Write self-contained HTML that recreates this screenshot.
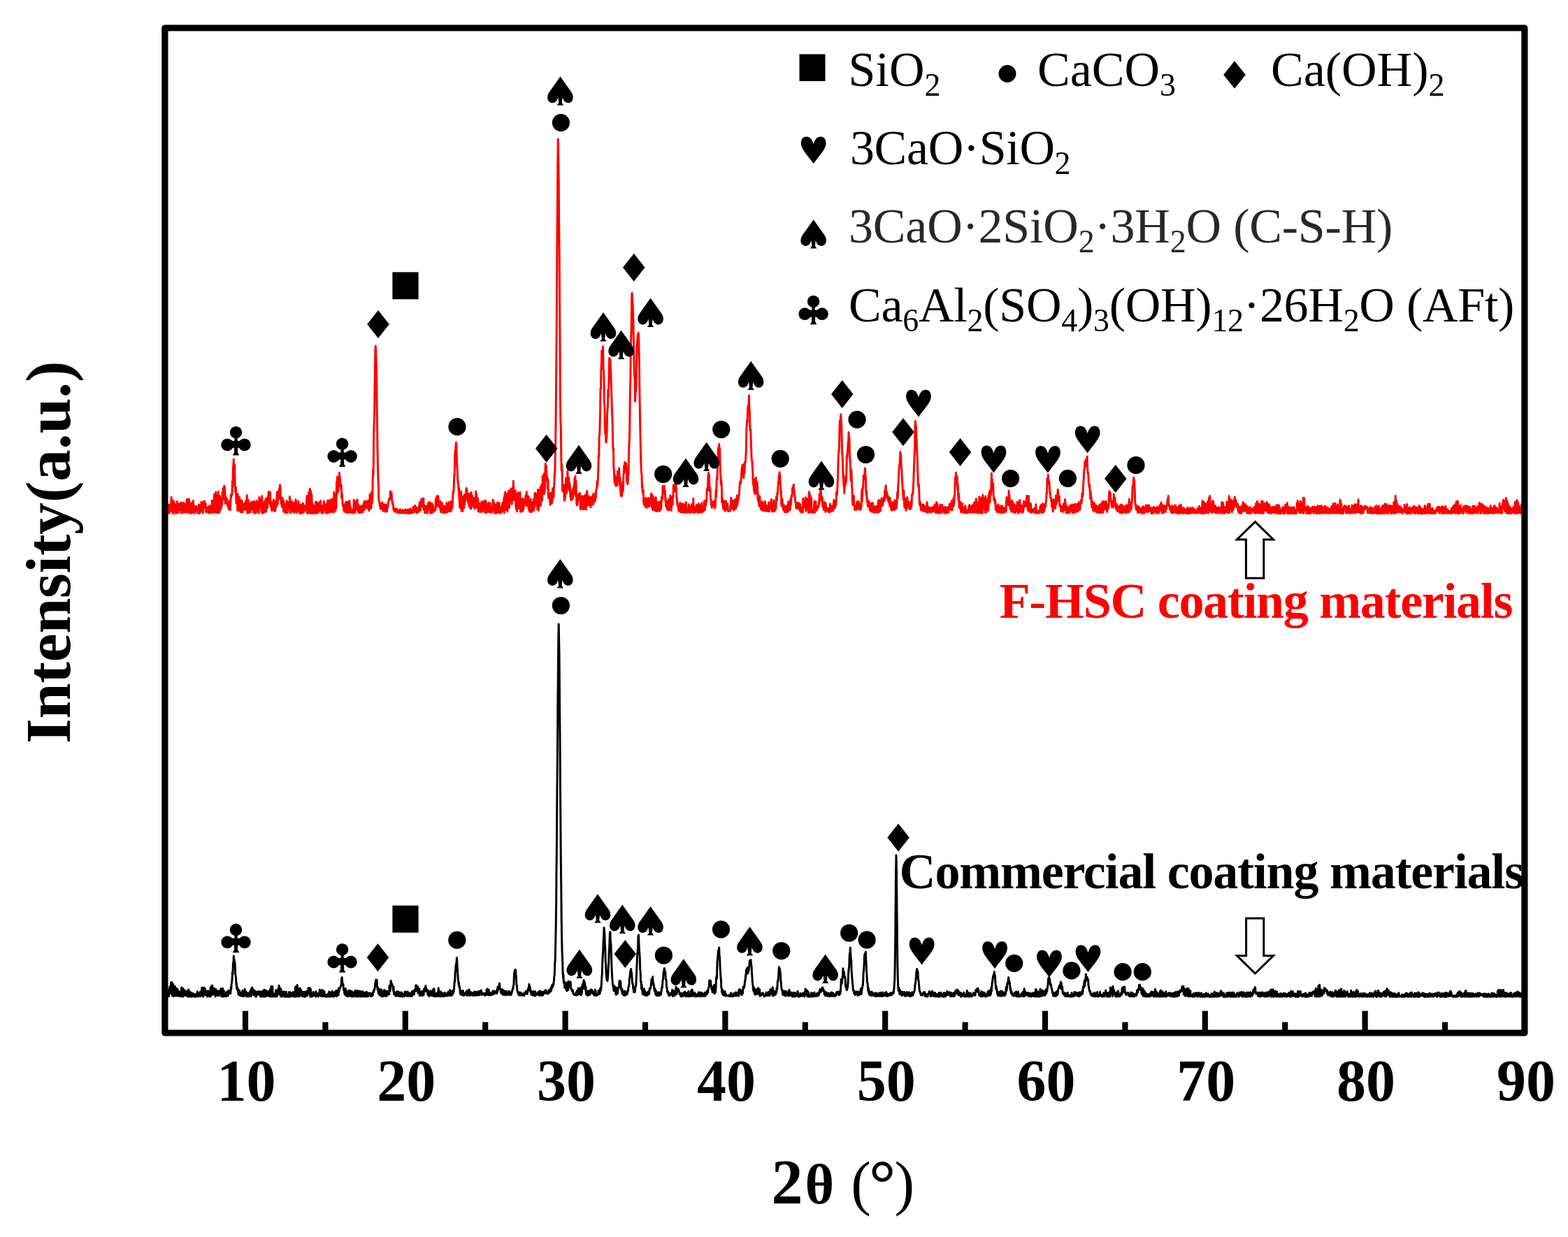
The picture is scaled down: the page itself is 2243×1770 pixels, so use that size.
<!DOCTYPE html><html><head><meta charset="utf-8"><title>XRD patterns</title><style>html,body{margin:0;padding:0;background:#fff;}svg{display:block;}.tn{font-family:"Liberation Serif","Times New Roman",serif;}</style></head><body>
<svg width="2243" height="1770" viewBox="0 0 2243 1770">
<rect width="2243" height="1770" fill="#fff"/>
<path d="M238.5 734.4 L238.9 732.8 L239.4 721.3 L239.8 726.7 L240.3 734.3 L240.7 729.7 L241.2 728.8 L241.6 733.7 L242.1 722.2 L242.5 734.1 L243.0 729.6 L243.4 726.4 L243.9 728.3 L244.3 724.0 L244.8 719.2 L245.2 711.3 L245.7 731.4 L246.1 722.7 L246.6 721.9 L247.0 731.7 L247.5 734.7 L247.9 716.3 L248.4 732.0 L248.8 731.7 L249.3 718.8 L249.7 726.6 L250.2 729.0 L250.6 722.0 L251.1 734.7 L251.5 723.7 L252.0 730.8 L252.4 734.3 L252.9 724.9 L253.3 717.6 L253.8 733.2 L254.2 725.6 L254.7 732.0 L255.1 722.8 L255.6 723.3 L256.0 733.1 L256.5 720.5 L256.9 724.9 L257.4 724.3 L257.8 720.8 L258.3 729.8 L258.7 722.4 L259.2 719.1 L259.6 734.2 L260.1 720.0 L260.5 730.4 L261.0 728.8 L261.4 733.9 L261.9 723.9 L262.3 732.1 L262.8 719.4 L263.2 732.3 L263.7 727.1 L264.1 730.3 L264.6 725.7 L265.0 733.2 L265.5 733.4 L265.9 720.9 L266.4 720.4 L266.8 725.5 L267.3 714.6 L267.7 732.9 L268.2 717.2 L268.6 733.4 L269.1 714.0 L269.5 724.5 L270.0 725.1 L270.4 714.4 L270.9 720.3 L271.3 720.3 L271.8 734.5 L272.2 730.6 L272.7 734.3 L273.1 733.3 L273.6 733.1 L274.0 719.7 L274.5 734.0 L274.9 732.0 L275.4 728.5 L275.8 720.0 L276.3 716.6 L276.7 723.7 L277.2 733.1 L277.6 727.5 L278.1 723.7 L278.5 734.5 L279.0 724.4 L279.4 730.8 L279.9 726.5 L280.3 724.6 L280.8 724.6 L281.2 727.9 L281.7 727.2 L282.1 733.3 L282.6 728.5 L283.0 734.0 L283.5 728.8 L283.9 727.6 L284.4 722.0 L284.8 730.4 L285.3 734.7 L285.7 727.8 L286.2 733.2 L286.6 722.8 L287.1 730.5 L287.5 730.6 L288.0 718.2 L288.4 730.4 L288.9 731.1 L289.3 731.1 L289.8 728.7 L290.2 734.2 L290.7 727.4 L291.1 717.8 L291.6 727.0 L292.0 722.7 L292.5 717.1 L292.9 720.1 L293.4 722.7 L293.8 720.9 L294.3 720.7 L294.7 732.5 L295.2 728.7 L295.6 731.2 L296.1 732.4 L296.5 726.8 L297.0 731.6 L297.4 725.7 L297.9 726.5 L298.3 734.1 L298.8 729.4 L299.2 730.3 L299.7 723.6 L300.1 734.2 L300.6 733.5 L301.0 728.0 L301.5 730.1 L301.9 724.5 L302.4 731.2 L302.8 733.1 L303.3 716.2 L303.7 732.1 L304.2 733.4 L304.6 731.0 L305.1 729.5 L305.5 731.8 L306.0 723.5 L306.4 707.4 L306.9 733.4 L307.3 727.0 L307.8 718.5 L308.2 709.5 L308.7 704.1 L309.1 733.0 L309.6 723.0 L310.0 708.8 L310.5 734.0 L310.9 720.3 L311.4 732.2 L311.8 712.0 L312.3 703.4 L312.7 721.4 L313.2 733.9 L313.6 733.4 L314.1 725.8 L314.5 709.4 L315.0 730.0 L315.4 716.9 L315.9 725.0 L316.3 727.5 L316.8 712.8 L317.2 723.6 L317.7 720.1 L318.1 704.0 L318.6 711.8 L319.0 698.7 L319.5 707.1 L319.9 714.5 L320.4 707.9 L320.8 695.0 L321.3 707.3 L321.7 697.0 L322.2 720.7 L322.6 719.0 L323.1 710.8 L323.5 715.3 L324.0 720.2 L324.4 719.1 L324.9 714.2 L325.3 720.4 L325.8 724.3 L326.2 724.2 L326.7 721.8 L327.1 729.0 L327.6 721.4 L328.0 722.2 L328.5 716.8 L328.9 723.9 L329.4 729.4 L329.8 719.6 L330.3 708.2 L330.7 711.5 L331.2 707.3 L331.6 708.7 L332.1 703.9 L332.5 687.9 L333.0 696.8 L333.4 669.7 L333.9 664.3 L334.3 657.0 L334.8 687.1 L335.2 690.4 L335.7 664.8 L336.1 692.7 L336.6 702.5 L337.0 704.3 L337.5 697.3 L337.9 719.7 L338.4 712.7 L338.8 707.9 L339.3 707.4 L339.7 730.7 L340.2 706.9 L340.6 723.5 L341.1 724.3 L341.5 721.0 L342.0 729.5 L342.4 711.2 L342.9 731.4 L343.3 724.5 L343.8 732.4 L344.2 723.5 L344.7 715.4 L345.1 716.5 L345.6 733.1 L346.0 724.3 L346.5 717.0 L346.9 732.6 L347.4 729.1 L347.8 722.1 L348.3 721.1 L348.7 728.0 L349.2 722.9 L349.6 721.3 L350.1 729.4 L350.5 720.3 L351.0 722.2 L351.4 717.3 L351.9 723.8 L352.3 729.0 L352.8 726.4 L353.2 708.8 L353.7 732.6 L354.1 733.3 L354.6 734.4 L355.0 719.5 L355.5 715.7 L355.9 732.6 L356.4 732.2 L356.8 733.0 L357.3 726.0 L357.7 728.5 L358.2 720.6 L358.6 732.9 L359.1 719.0 L359.5 728.9 L360.0 720.9 L360.4 721.1 L360.9 718.1 L361.3 728.2 L361.8 725.9 L362.2 727.0 L362.7 733.2 L363.1 728.2 L363.6 717.6 L364.0 718.2 L364.5 734.5 L364.9 724.6 L365.4 731.3 L365.8 733.7 L366.3 733.7 L366.7 721.3 L367.2 716.7 L367.6 727.8 L368.1 730.4 L368.5 728.0 L369.0 719.2 L369.4 720.1 L369.9 734.2 L370.3 732.2 L370.8 711.5 L371.2 724.8 L371.7 718.7 L372.1 713.7 L372.6 719.4 L373.0 715.9 L373.5 723.2 L373.9 731.7 L374.4 732.5 L374.8 709.7 L375.3 734.3 L375.7 722.7 L376.2 718.5 L376.6 732.3 L377.1 734.0 L377.5 729.6 L378.0 730.7 L378.4 728.2 L378.9 728.7 L379.3 715.7 L379.8 732.5 L380.2 714.5 L380.7 731.9 L381.1 712.7 L381.6 726.4 L382.0 715.9 L382.5 726.9 L382.9 719.1 L383.4 711.4 L383.8 710.7 L384.3 703.5 L384.7 718.1 L385.2 713.6 L385.6 708.7 L386.1 721.2 L386.5 704.6 L387.0 718.8 L387.4 724.0 L387.9 726.1 L388.3 718.4 L388.8 730.5 L389.2 729.4 L389.7 729.1 L390.1 730.3 L390.6 720.3 L391.0 723.9 L391.5 714.9 L391.9 720.7 L392.4 729.8 L392.8 729.0 L393.3 731.5 L393.7 729.4 L394.2 720.8 L394.6 716.4 L395.1 725.9 L395.5 723.7 L396.0 710.7 L396.4 703.9 L396.9 721.7 L397.3 719.6 L397.8 703.4 L398.2 708.6 L398.7 708.7 L399.1 702.5 L399.6 698.6 L400.0 713.6 L400.5 693.7 L400.9 695.7 L401.4 713.3 L401.8 714.4 L402.3 720.4 L402.7 715.9 L403.2 725.3 L403.6 720.8 L404.1 712.3 L404.5 724.0 L405.0 716.9 L405.4 731.1 L405.9 716.7 L406.3 732.5 L406.8 731.8 L407.2 722.2 L407.7 731.0 L408.1 733.3 L408.6 733.6 L409.0 720.8 L409.5 734.1 L409.9 734.0 L410.4 716.7 L410.8 721.4 L411.3 730.4 L411.7 732.9 L412.2 719.2 L412.6 721.4 L413.1 723.8 L413.5 726.5 L414.0 726.0 L414.4 710.4 L414.9 725.2 L415.3 733.9 L415.8 734.0 L416.2 722.1 L416.7 717.2 L417.1 721.2 L417.6 717.5 L418.0 730.8 L418.5 729.4 L418.9 731.7 L419.4 729.9 L419.8 732.0 L420.3 719.5 L420.7 733.6 L421.2 733.0 L421.6 723.6 L422.1 730.3 L422.5 731.1 L423.0 715.1 L423.4 716.7 L423.9 732.6 L424.3 733.4 L424.8 726.6 L425.2 724.1 L425.7 729.8 L426.1 723.4 L426.6 720.9 L427.0 716.9 L427.5 732.2 L427.9 723.8 L428.4 734.4 L428.8 734.4 L429.3 734.4 L429.7 734.0 L430.2 722.0 L430.6 730.8 L431.1 728.6 L431.5 729.4 L432.0 733.1 L432.4 734.5 L432.9 733.4 L433.3 720.0 L433.8 731.3 L434.2 729.9 L434.7 732.4 L435.1 723.0 L435.6 724.0 L436.0 730.6 L436.5 728.3 L436.9 730.4 L437.4 727.0 L437.8 725.9 L438.3 725.4 L438.7 713.7 L439.2 709.5 L439.6 734.4 L440.1 727.6 L440.5 734.4 L441.0 726.5 L441.4 705.1 L441.9 710.7 L442.3 715.8 L442.8 733.7 L443.2 699.5 L443.7 712.1 L444.1 727.4 L444.6 702.4 L445.0 734.4 L445.5 731.7 L445.9 707.5 L446.4 734.3 L446.8 733.4 L447.3 725.5 L447.7 721.2 L448.2 726.5 L448.6 734.5 L449.1 732.2 L449.5 723.9 L450.0 731.1 L450.4 733.2 L450.9 734.6 L451.3 732.4 L451.8 718.0 L452.2 734.4 L452.7 727.3 L453.1 718.5 L453.6 724.0 L454.0 732.1 L454.5 725.2 L454.9 733.9 L455.4 728.4 L455.8 732.4 L456.3 719.5 L456.7 719.7 L457.2 722.5 L457.6 730.7 L458.1 721.6 L458.5 716.5 L459.0 730.7 L459.4 727.9 L459.9 733.5 L460.3 734.0 L460.8 723.5 L461.2 734.3 L461.7 726.2 L462.1 733.9 L462.6 724.7 L463.0 722.6 L463.5 717.5 L463.9 730.3 L464.4 730.3 L464.8 730.1 L465.3 723.7 L465.7 721.6 L466.2 733.8 L466.6 731.3 L467.1 734.2 L467.5 732.5 L468.0 722.9 L468.4 717.4 L468.9 716.1 L469.3 734.1 L469.8 729.8 L470.2 717.9 L470.7 727.1 L471.1 730.1 L471.6 718.6 L472.0 715.3 L472.5 733.0 L472.9 725.3 L473.4 732.8 L473.8 732.3 L474.3 724.1 L474.7 730.8 L475.2 713.9 L475.6 728.0 L476.1 731.8 L476.5 719.8 L477.0 730.0 L477.4 732.9 L477.9 704.2 L478.3 730.8 L478.8 731.2 L479.2 722.5 L479.7 731.0 L480.1 708.0 L480.6 727.8 L481.0 726.1 L481.5 689.8 L481.9 707.9 L482.4 684.1 L482.8 682.0 L483.3 686.8 L483.7 704.1 L484.2 684.7 L484.6 696.8 L485.1 695.3 L485.5 676.4 L486.0 692.7 L486.4 684.0 L486.9 694.2 L487.3 691.3 L487.8 700.2 L488.2 694.2 L488.7 712.8 L489.1 706.1 L489.6 710.1 L490.0 718.8 L490.5 722.5 L490.9 725.4 L491.4 721.6 L491.8 730.7 L492.3 727.3 L492.7 723.2 L493.2 730.2 L493.6 731.6 L494.1 732.9 L494.5 720.0 L495.0 718.2 L495.4 719.4 L495.9 722.8 L496.3 725.3 L496.8 733.7 L497.2 718.4 L497.7 728.2 L498.1 723.6 L498.6 733.3 L499.0 722.2 L499.5 733.2 L499.9 716.4 L500.4 723.2 L500.8 727.3 L501.3 724.6 L501.7 732.3 L502.2 727.9 L502.6 733.8 L503.1 731.7 L503.5 731.6 L504.0 733.1 L504.4 729.5 L504.9 733.9 L505.3 734.1 L505.8 730.9 L506.2 715.6 L506.7 722.8 L507.1 729.2 L507.6 732.6 L508.0 733.4 L508.5 729.0 L508.9 723.2 L509.4 717.8 L509.8 727.4 L510.3 715.9 L510.7 716.8 L511.2 715.0 L511.6 729.7 L512.1 726.3 L512.5 732.6 L513.0 722.4 L513.4 733.8 L513.9 725.5 L514.3 732.3 L514.8 724.9 L515.2 731.9 L515.7 733.8 L516.1 726.6 L516.6 726.6 L517.0 723.8 L517.5 732.7 L517.9 726.2 L518.4 730.5 L518.8 732.9 L519.3 728.4 L519.7 722.5 L520.2 729.3 L520.6 720.2 L521.1 717.3 L521.5 729.6 L522.0 726.7 L522.4 724.6 L522.9 717.7 L523.3 719.4 L523.8 717.6 L524.2 725.7 L524.7 724.2 L525.1 726.8 L525.6 717.2 L526.0 719.7 L526.5 727.5 L526.9 716.3 L527.4 730.0 L527.8 730.6 L528.3 726.3 L528.7 718.4 L529.2 707.5 L529.6 720.7 L530.1 727.8 L530.5 715.8 L531.0 727.2 L531.4 704.6 L531.9 719.1 L532.3 720.2 L532.8 714.8 L533.2 686.8 L533.7 672.3 L534.1 679.9 L534.6 630.4 L535.0 609.3 L535.5 595.9 L535.9 566.5 L536.4 532.9 L536.8 501.5 L537.3 495.1 L537.7 500.3 L538.2 518.7 L538.6 531.8 L539.1 585.8 L539.5 600.3 L540.0 643.4 L540.4 661.7 L540.9 685.6 L541.3 690.1 L541.8 712.4 L542.2 717.6 L542.7 718.3 L543.1 720.9 L543.6 724.6 L544.0 725.9 L544.5 728.4 L544.9 725.0 L545.4 720.2 L545.8 720.1 L546.3 727.6 L546.7 719.1 L547.2 719.9 L547.6 729.6 L548.1 731.3 L548.5 723.4 L549.0 721.9 L549.4 726.6 L549.9 721.8 L550.3 728.9 L550.8 728.4 L551.2 732.2 L551.7 730.1 L552.1 722.6 L552.6 731.9 L553.0 731.5 L553.5 731.6 L553.9 727.7 L554.4 725.6 L554.8 725.3 L555.3 718.6 L555.7 719.5 L556.2 717.5 L556.6 715.0 L557.1 713.2 L557.5 714.7 L558.0 712.0 L558.4 703.1 L558.9 708.4 L559.3 706.5 L559.8 704.6 L560.2 708.0 L560.7 715.4 L561.1 718.3 L561.6 722.1 L562.0 720.3 L562.5 722.4 L562.9 728.8 L563.4 729.5 L563.8 731.1 L564.3 729.1 L564.7 731.7 L565.2 727.9 L565.6 732.5 L566.1 730.3 L566.5 730.5 L567.0 728.1 L567.4 730.1 L567.9 728.4 L568.3 731.3 L568.8 733.9 L569.2 732.9 L569.7 730.3 L570.1 732.9 L570.6 731.0 L571.0 733.9 L571.5 731.2 L571.9 732.8 L572.4 728.8 L572.8 734.1 L573.3 733.0 L573.7 730.4 L574.2 732.9 L574.6 732.5 L575.1 733.2 L575.5 734.1 L576.0 733.3 L576.4 729.6 L576.9 730.5 L577.3 733.4 L577.8 731.3 L578.2 730.4 L578.7 730.4 L579.1 734.3 L579.6 734.0 L580.0 729.0 L580.5 733.6 L580.9 730.5 L581.4 731.6 L581.8 729.8 L582.3 734.3 L582.7 729.3 L583.2 729.8 L583.6 733.8 L584.1 731.1 L584.5 734.4 L585.0 729.0 L585.4 732.6 L585.9 729.7 L586.3 729.1 L586.8 734.4 L587.2 728.1 L587.7 734.2 L588.1 734.0 L588.6 732.2 L589.0 733.5 L589.5 730.3 L589.9 733.8 L590.4 730.3 L590.8 728.4 L591.3 725.2 L591.7 732.0 L592.2 732.9 L592.6 729.6 L593.1 728.3 L593.5 723.2 L594.0 728.8 L594.4 730.7 L594.9 732.3 L595.3 725.7 L595.8 727.1 L596.2 734.0 L596.7 731.9 L597.1 733.2 L597.6 728.7 L598.0 730.2 L598.5 732.6 L598.9 726.9 L599.4 723.8 L599.8 729.2 L600.3 718.6 L600.7 730.8 L601.2 730.6 L601.6 720.2 L602.1 723.0 L602.5 718.7 L603.0 714.0 L603.4 724.3 L603.9 717.5 L604.3 722.0 L604.8 725.3 L605.2 725.9 L605.7 713.0 L606.1 729.6 L606.6 728.4 L607.0 727.6 L607.5 723.8 L607.9 733.9 L608.4 723.4 L608.8 734.1 L609.3 729.6 L609.7 728.2 L610.2 725.2 L610.6 724.9 L611.1 724.0 L611.5 734.2 L612.0 730.4 L612.4 720.5 L612.9 728.9 L613.3 718.9 L613.8 726.8 L614.2 726.7 L614.7 725.0 L615.1 718.8 L615.6 734.2 L616.0 733.8 L616.5 733.9 L616.9 733.1 L617.4 734.1 L617.8 720.5 L618.3 733.4 L618.7 729.8 L619.2 722.5 L619.6 729.6 L620.1 732.2 L620.5 731.5 L621.0 729.6 L621.4 730.5 L621.9 727.7 L622.3 727.7 L622.8 730.1 L623.2 716.8 L623.7 713.0 L624.1 720.2 L624.6 724.9 L625.0 710.1 L625.5 720.2 L625.9 719.7 L626.4 721.7 L626.8 709.8 L627.3 716.5 L627.7 724.4 L628.2 724.8 L628.6 725.2 L629.1 726.9 L629.5 722.6 L630.0 717.3 L630.4 732.6 L630.9 721.9 L631.3 722.2 L631.8 732.3 L632.2 719.8 L632.7 722.2 L633.1 725.3 L633.6 733.4 L634.0 729.9 L634.5 724.7 L634.9 728.3 L635.4 733.6 L635.8 724.5 L636.3 730.3 L636.7 732.5 L637.2 731.1 L637.6 733.3 L638.1 730.8 L638.5 733.6 L639.0 719.2 L639.4 732.9 L639.9 730.9 L640.3 731.3 L640.8 729.1 L641.2 730.6 L641.7 721.0 L642.1 732.0 L642.6 718.2 L643.0 729.4 L643.5 718.1 L643.9 729.8 L644.4 731.8 L644.8 720.5 L645.3 730.6 L645.7 721.2 L646.2 717.2 L646.6 727.4 L647.1 724.4 L647.5 717.8 L648.0 707.3 L648.4 702.4 L648.9 704.1 L649.3 694.5 L649.8 679.0 L650.2 681.8 L650.7 653.0 L651.1 644.5 L651.6 651.6 L652.0 637.4 L652.5 633.0 L652.9 638.7 L653.4 656.9 L653.8 666.2 L654.3 674.9 L654.7 686.8 L655.2 690.0 L655.6 691.5 L656.1 703.1 L656.5 698.0 L657.0 714.7 L657.4 718.5 L657.9 726.7 L658.3 704.3 L658.8 715.4 L659.2 702.9 L659.7 704.4 L660.1 730.9 L660.6 717.5 L661.0 721.5 L661.5 710.6 L661.9 731.4 L662.4 713.9 L662.8 715.3 L663.3 722.7 L663.7 726.9 L664.2 707.9 L664.6 723.2 L665.1 714.8 L665.5 717.4 L666.0 710.1 L666.4 709.9 L666.9 699.0 L667.3 698.5 L667.8 700.7 L668.2 713.7 L668.7 706.4 L669.1 712.8 L669.6 719.1 L670.0 713.1 L670.5 706.7 L670.9 724.0 L671.4 706.8 L671.8 719.5 L672.3 726.6 L672.7 723.8 L673.2 717.0 L673.6 728.3 L674.1 704.4 L674.5 726.4 L675.0 718.3 L675.4 709.0 L675.9 711.3 L676.3 718.4 L676.8 717.8 L677.2 717.3 L677.7 722.8 L678.1 726.0 L678.6 712.6 L679.0 728.0 L679.5 726.9 L679.9 722.8 L680.4 722.9 L680.8 703.2 L681.3 716.6 L681.7 707.3 L682.2 718.3 L682.6 726.4 L683.1 712.5 L683.5 713.8 L684.0 731.2 L684.4 719.3 L684.9 725.0 L685.3 732.2 L685.8 730.2 L686.2 720.4 L686.7 732.3 L687.1 722.9 L687.6 724.9 L688.0 725.2 L688.5 732.6 L688.9 717.8 L689.4 726.5 L689.8 723.3 L690.3 724.8 L690.7 731.0 L691.2 722.1 L691.6 729.7 L692.1 716.9 L692.5 728.6 L693.0 732.8 L693.4 728.5 L693.9 729.8 L694.3 716.0 L694.8 731.3 L695.2 717.9 L695.7 734.2 L696.1 733.5 L696.6 731.5 L697.0 722.1 L697.5 725.5 L697.9 729.4 L698.4 729.5 L698.8 719.3 L699.3 732.6 L699.7 720.8 L700.2 730.2 L700.6 723.3 L701.1 720.0 L701.5 729.2 L702.0 732.9 L702.4 732.3 L702.9 732.2 L703.3 733.8 L703.8 729.3 L704.2 724.5 L704.7 730.0 L705.1 715.5 L705.6 715.4 L706.0 720.2 L706.5 719.8 L706.9 731.1 L707.4 721.6 L707.8 734.1 L708.3 734.3 L708.7 734.0 L709.2 731.1 L709.6 722.4 L710.1 734.2 L710.5 730.0 L711.0 725.6 L711.4 719.1 L711.9 726.4 L712.3 732.2 L712.8 733.9 L713.2 727.6 L713.7 720.2 L714.1 719.5 L714.6 725.0 L715.0 733.0 L715.5 733.9 L715.9 734.1 L716.4 731.8 L716.8 726.9 L717.3 733.2 L717.7 724.9 L718.2 731.1 L718.6 720.1 L719.1 726.2 L719.5 719.0 L720.0 731.4 L720.4 723.8 L720.9 712.4 L721.3 734.0 L721.8 708.8 L722.2 721.4 L722.7 704.0 L723.1 729.8 L723.6 723.8 L724.0 716.1 L724.5 719.3 L724.9 717.9 L725.4 706.4 L725.8 731.9 L726.3 713.2 L726.7 724.1 L727.2 703.9 L727.6 702.4 L728.1 724.0 L728.5 726.5 L729.0 705.2 L729.4 702.9 L729.9 710.0 L730.3 703.0 L730.8 699.5 L731.2 716.3 L731.7 717.8 L732.1 721.2 L732.6 711.0 L733.0 714.7 L733.5 697.4 L733.9 701.3 L734.4 688.2 L734.8 700.3 L735.3 715.6 L735.7 715.0 L736.2 713.8 L736.6 715.0 L737.1 702.1 L737.5 715.6 L738.0 725.6 L738.4 727.6 L738.9 719.9 L739.3 731.9 L739.8 724.0 L740.2 706.4 L740.7 704.9 L741.1 720.2 L741.6 720.7 L742.0 727.7 L742.5 719.1 L742.9 724.1 L743.4 717.4 L743.8 704.6 L744.3 714.5 L744.7 732.4 L745.2 732.0 L745.6 720.5 L746.1 713.5 L746.5 724.6 L747.0 718.3 L747.4 730.8 L747.9 731.3 L748.3 713.7 L748.8 716.8 L749.2 727.4 L749.7 718.0 L750.1 722.2 L750.6 717.8 L751.0 721.9 L751.5 718.2 L751.9 708.9 L752.4 721.4 L752.8 712.2 L753.3 703.8 L753.7 724.0 L754.2 722.0 L754.6 721.1 L755.1 717.6 L755.5 721.9 L756.0 709.9 L756.4 729.0 L756.9 728.2 L757.3 731.6 L757.8 731.1 L758.2 723.7 L758.7 732.6 L759.1 714.3 L759.6 719.7 L760.0 732.5 L760.5 718.8 L760.9 732.0 L761.4 725.5 L761.8 730.7 L762.3 731.0 L762.7 724.3 L763.2 714.1 L763.6 730.1 L764.1 727.7 L764.5 721.5 L765.0 706.6 L765.4 721.3 L765.9 705.5 L766.3 714.7 L766.8 717.0 L767.2 707.4 L767.7 724.2 L768.1 717.2 L768.6 728.4 L769.0 719.0 L769.5 700.4 L769.9 730.2 L770.4 730.1 L770.8 718.4 L771.3 703.5 L771.7 718.4 L772.2 701.1 L772.6 724.0 L773.1 697.1 L773.5 723.3 L774.0 702.4 L774.4 715.7 L774.9 693.2 L775.3 716.6 L775.8 709.4 L776.2 681.5 L776.7 689.0 L777.1 701.8 L777.6 705.2 L778.0 677.9 L778.5 706.8 L778.9 703.6 L779.4 701.4 L779.8 678.9 L780.3 663.5 L780.7 687.1 L781.2 666.2 L781.6 666.8 L782.1 685.1 L782.5 682.2 L783.0 685.9 L783.4 700.2 L783.9 685.7 L784.3 709.4 L784.8 713.2 L785.2 705.9 L785.7 713.2 L786.1 708.3 L786.6 713.0 L787.0 722.4 L787.5 717.8 L787.9 704.9 L788.4 719.6 L788.8 720.5 L789.3 705.7 L789.7 719.5 L790.2 714.3 L790.6 698.9 L791.1 700.8 L791.5 712.3 L792.0 709.7 L792.4 700.1 L792.9 689.7 L793.3 677.8 L793.8 678.3 L794.2 656.7 L794.7 630.8 L795.1 599.4 L795.6 544.5 L796.0 493.3 L796.5 432.9 L796.9 351.1 L797.4 301.5 L797.8 237.3 L798.3 199.0 L798.7 218.5 L799.2 257.6 L799.6 313.1 L800.1 354.0 L800.5 420.6 L801.0 488.7 L801.4 563.7 L801.9 603.1 L802.3 609.5 L802.8 651.6 L803.2 673.1 L803.7 665.0 L804.1 674.1 L804.6 702.8 L805.0 694.2 L805.5 693.9 L805.9 694.7 L806.4 693.8 L806.8 700.3 L807.3 716.4 L807.7 712.7 L808.2 714.1 L808.6 701.7 L809.1 702.9 L809.5 684.0 L810.0 706.3 L810.4 705.5 L810.9 703.5 L811.3 698.6 L811.8 674.0 L812.2 683.3 L812.7 692.4 L813.1 684.3 L813.6 683.5 L814.0 694.3 L814.5 701.4 L814.9 691.1 L815.4 698.1 L815.8 710.8 L816.3 706.3 L816.7 715.4 L817.2 712.3 L817.6 704.0 L818.1 708.1 L818.5 714.8 L819.0 700.0 L819.4 713.4 L819.9 699.6 L820.3 707.9 L820.8 695.2 L821.2 695.3 L821.7 693.3 L822.1 683.7 L822.6 686.5 L823.0 681.5 L823.5 709.8 L823.9 687.7 L824.4 703.6 L824.8 719.5 L825.3 723.1 L825.7 722.3 L826.2 719.2 L826.6 715.1 L827.1 707.5 L827.5 710.1 L828.0 707.5 L828.4 709.6 L828.9 709.8 L829.3 705.5 L829.8 714.1 L830.2 728.8 L830.7 719.8 L831.1 723.2 L831.6 716.9 L832.0 726.9 L832.5 709.8 L832.9 727.1 L833.4 723.9 L833.8 728.8 L834.3 711.9 L834.7 712.5 L835.2 710.4 L835.6 727.9 L836.1 725.8 L836.5 708.7 L837.0 708.7 L837.4 728.6 L837.9 721.1 L838.3 728.9 L838.8 707.3 L839.2 706.6 L839.7 702.5 L840.1 708.4 L840.6 721.7 L841.0 723.0 L841.5 716.2 L841.9 722.6 L842.4 710.3 L842.8 722.7 L843.3 722.8 L843.7 711.9 L844.2 724.8 L844.6 723.7 L845.1 725.8 L845.5 711.6 L846.0 719.6 L846.4 720.4 L846.9 711.0 L847.3 709.9 L847.8 722.0 L848.2 722.1 L848.7 708.6 L849.1 705.9 L849.6 714.2 L850.0 709.4 L850.5 718.5 L850.9 711.0 L851.4 715.7 L851.8 713.7 L852.3 712.6 L852.7 702.4 L853.2 698.9 L853.6 699.3 L854.1 688.6 L854.5 696.2 L855.0 689.0 L855.4 682.9 L855.9 669.0 L856.3 651.7 L856.8 653.6 L857.2 622.5 L857.7 622.6 L858.1 608.9 L858.6 590.2 L859.0 556.2 L859.5 556.4 L859.9 531.2 L860.4 520.1 L860.8 501.9 L861.3 501.2 L861.7 509.0 L862.2 514.7 L862.6 495.8 L863.1 528.7 L863.5 529.7 L864.0 545.2 L864.4 576.1 L864.9 578.4 L865.3 608.0 L865.8 620.4 L866.2 612.5 L866.7 630.6 L867.1 633.0 L867.6 626.2 L868.0 623.2 L868.5 595.3 L868.9 586.7 L869.4 581.3 L869.8 558.0 L870.3 568.1 L870.7 552.3 L871.2 535.0 L871.6 512.2 L872.1 520.5 L872.5 515.7 L873.0 514.2 L873.4 524.9 L873.9 533.7 L874.3 552.0 L874.8 565.2 L875.2 579.2 L875.7 593.5 L876.1 601.1 L876.6 632.3 L877.0 643.8 L877.5 641.7 L877.9 670.8 L878.4 671.8 L878.8 685.3 L879.3 691.4 L879.7 679.9 L880.2 688.8 L880.6 694.9 L881.1 687.9 L881.5 683.6 L882.0 691.9 L882.4 692.4 L882.9 695.1 L883.3 674.4 L883.8 676.3 L884.2 686.5 L884.7 680.4 L885.1 684.0 L885.6 669.9 L886.0 688.1 L886.5 693.9 L886.9 683.0 L887.4 700.1 L887.8 705.6 L888.3 708.9 L888.7 710.0 L889.2 707.3 L889.6 709.6 L890.1 699.6 L890.5 690.4 L891.0 703.4 L891.4 699.6 L891.9 680.6 L892.3 677.7 L892.8 666.4 L893.2 676.4 L893.7 661.5 L894.1 668.5 L894.6 670.3 L895.0 669.9 L895.5 662.7 L895.9 668.5 L896.4 672.6 L896.8 689.1 L897.3 688.1 L897.7 692.7 L898.2 690.3 L898.6 672.6 L899.1 679.4 L899.5 650.9 L900.0 634.0 L900.4 630.0 L900.9 603.5 L901.3 565.0 L901.8 544.9 L902.2 512.2 L902.7 483.8 L903.1 473.8 L903.6 431.6 L904.0 419.5 L904.5 424.9 L904.9 433.7 L905.4 440.8 L905.8 454.1 L906.3 482.8 L906.7 500.5 L907.2 528.3 L907.6 538.5 L908.1 543.6 L908.5 574.4 L909.0 563.9 L909.4 552.4 L909.9 560.3 L910.3 537.6 L910.8 507.1 L911.2 494.2 L911.7 489.5 L912.1 480.2 L912.6 481.9 L913.0 476.3 L913.5 476.9 L913.9 494.9 L914.4 521.6 L914.8 553.1 L915.3 583.6 L915.7 607.0 L916.2 630.7 L916.6 647.7 L917.1 667.9 L917.5 675.8 L918.0 679.2 L918.4 697.6 L918.9 693.1 L919.3 705.1 L919.8 703.9 L920.2 701.4 L920.7 719.7 L921.1 717.8 L921.6 721.9 L922.0 723.1 L922.5 715.2 L922.9 725.2 L923.4 718.8 L923.8 712.5 L924.3 722.6 L924.7 718.3 L925.2 726.4 L925.6 717.2 L926.1 716.7 L926.5 720.3 L927.0 713.0 L927.4 720.1 L927.9 718.7 L928.3 725.0 L928.8 712.7 L929.2 720.9 L929.7 714.3 L930.1 717.7 L930.6 722.8 L931.0 718.1 L931.5 706.2 L931.9 714.9 L932.4 726.3 L932.8 719.1 L933.3 708.0 L933.7 729.3 L934.2 729.9 L934.6 711.2 L935.1 719.0 L935.5 713.6 L936.0 726.6 L936.4 720.2 L936.9 730.1 L937.3 730.7 L937.8 721.3 L938.2 711.8 L938.7 722.5 L939.1 731.7 L939.6 731.8 L940.0 719.1 L940.5 728.2 L940.9 730.6 L941.4 730.0 L941.8 718.8 L942.3 727.3 L942.7 731.1 L943.2 730.7 L943.6 731.2 L944.1 717.7 L944.5 726.4 L945.0 725.8 L945.4 728.7 L945.9 725.3 L946.3 713.9 L946.8 710.1 L947.2 714.7 L947.7 713.5 L948.1 695.8 L948.6 706.0 L949.0 704.4 L949.5 705.1 L949.9 700.9 L950.4 695.5 L950.8 706.1 L951.3 702.8 L951.7 716.4 L952.2 712.3 L952.6 724.2 L953.1 721.8 L953.5 726.0 L954.0 727.1 L954.4 717.4 L954.9 729.6 L955.3 724.6 L955.8 727.7 L956.2 714.4 L956.7 730.0 L957.1 728.1 L957.6 719.4 L958.0 728.8 L958.5 718.0 L958.9 708.9 L959.4 726.8 L959.8 721.9 L960.3 730.5 L960.7 711.8 L961.2 723.2 L961.6 715.5 L962.1 722.6 L962.5 709.7 L963.0 711.3 L963.4 694.8 L963.9 693.7 L964.3 700.0 L964.8 703.3 L965.2 700.0 L965.7 695.1 L966.1 690.3 L966.6 690.6 L967.0 694.5 L967.5 701.1 L967.9 711.8 L968.4 713.4 L968.8 721.5 L969.3 719.7 L969.7 724.7 L970.2 723.6 L970.6 730.5 L971.1 731.0 L971.5 724.5 L972.0 728.6 L972.4 731.2 L972.9 719.2 L973.3 732.8 L973.8 720.2 L974.2 722.3 L974.7 733.1 L975.1 721.9 L975.6 725.0 L976.0 732.0 L976.5 725.7 L976.9 720.8 L977.4 733.2 L977.8 731.4 L978.3 732.9 L978.7 722.4 L979.2 733.0 L979.6 733.1 L980.1 733.2 L980.5 721.7 L981.0 732.4 L981.4 718.4 L981.9 733.5 L982.3 729.1 L982.8 733.0 L983.2 732.7 L983.7 732.7 L984.1 727.9 L984.6 732.4 L985.0 731.1 L985.5 721.8 L985.9 726.7 L986.4 733.7 L986.8 731.5 L987.3 724.8 L987.7 730.4 L988.2 733.2 L988.6 733.1 L989.1 729.0 L989.5 721.8 L990.0 725.9 L990.4 731.1 L990.9 732.4 L991.3 729.9 L991.8 713.3 L992.2 733.3 L992.7 733.3 L993.1 733.2 L993.6 725.4 L994.0 733.6 L994.5 730.8 L994.9 731.0 L995.4 729.4 L995.8 729.5 L996.3 722.4 L996.7 731.5 L997.2 732.8 L997.6 724.1 L998.1 732.3 L998.5 732.9 L999.0 733.5 L999.4 720.5 L999.9 726.2 L1000.3 726.8 L1000.8 733.1 L1001.2 722.9 L1001.7 733.1 L1002.1 725.5 L1002.6 722.8 L1003.0 729.1 L1003.5 732.1 L1003.9 719.5 L1004.4 732.8 L1004.8 731.1 L1005.3 726.2 L1005.7 725.8 L1006.2 731.4 L1006.6 730.5 L1007.1 728.5 L1007.5 717.5 L1008.0 716.3 L1008.4 729.6 L1008.9 716.9 L1009.3 723.4 L1009.8 722.9 L1010.2 717.2 L1010.7 717.8 L1011.1 703.3 L1011.6 699.0 L1012.0 702.4 L1012.5 700.0 L1012.9 684.9 L1013.4 676.5 L1013.8 694.2 L1014.3 678.5 L1014.7 693.0 L1015.2 702.7 L1015.6 697.5 L1016.1 702.3 L1016.5 714.5 L1017.0 714.4 L1017.4 722.6 L1017.9 719.4 L1018.3 726.5 L1018.8 725.7 L1019.2 719.0 L1019.7 719.4 L1020.1 722.2 L1020.6 717.2 L1021.0 719.8 L1021.5 722.8 L1021.9 720.9 L1022.4 727.3 L1022.8 726.5 L1023.3 722.9 L1023.7 711.1 L1024.2 701.2 L1024.6 710.7 L1025.1 687.8 L1025.5 683.2 L1026.0 686.2 L1026.4 669.2 L1026.9 663.6 L1027.3 641.6 L1027.8 644.6 L1028.2 639.9 L1028.7 635.5 L1029.1 647.7 L1029.6 640.7 L1030.0 657.4 L1030.5 680.1 L1030.9 680.5 L1031.4 693.5 L1031.8 687.6 L1032.3 694.6 L1032.7 719.0 L1033.2 711.2 L1033.6 718.0 L1034.1 722.2 L1034.5 728.1 L1035.0 716.8 L1035.4 722.6 L1035.9 723.3 L1036.3 716.9 L1036.8 730.4 L1037.2 727.9 L1037.7 731.2 L1038.1 729.4 L1038.6 717.0 L1039.0 728.4 L1039.5 720.9 L1039.9 720.2 L1040.4 726.3 L1040.8 720.9 L1041.3 730.5 L1041.7 731.5 L1042.2 730.6 L1042.6 731.4 L1043.1 731.3 L1043.5 731.5 L1044.0 731.3 L1044.4 731.0 L1044.9 724.0 L1045.3 728.6 L1045.8 712.2 L1046.2 722.4 L1046.7 715.2 L1047.1 721.1 L1047.6 718.4 L1048.0 717.5 L1048.5 727.5 L1048.9 729.2 L1049.4 730.2 L1049.8 716.2 L1050.3 728.5 L1050.7 715.2 L1051.2 720.3 L1051.6 718.1 L1052.1 728.3 L1052.5 714.6 L1053.0 726.8 L1053.4 715.0 L1053.9 725.0 L1054.3 709.0 L1054.8 722.1 L1055.2 719.6 L1055.7 713.7 L1056.1 715.1 L1056.6 713.0 L1057.0 707.3 L1057.5 707.7 L1057.9 697.2 L1058.4 690.4 L1058.8 692.5 L1059.3 688.1 L1059.7 691.1 L1060.2 685.1 L1060.6 679.9 L1061.1 669.7 L1061.5 679.5 L1062.0 665.5 L1062.4 681.1 L1062.9 675.9 L1063.3 671.7 L1063.8 684.0 L1064.2 665.7 L1064.7 663.4 L1065.1 676.7 L1065.6 661.2 L1066.0 662.0 L1066.5 659.6 L1066.9 651.4 L1067.4 643.8 L1067.8 615.2 L1068.3 608.5 L1068.7 601.0 L1069.2 604.5 L1069.6 582.9 L1070.1 588.2 L1070.5 578.5 L1071.0 585.6 L1071.4 565.9 L1071.9 587.5 L1072.3 585.5 L1072.8 607.2 L1073.2 616.4 L1073.7 614.1 L1074.1 626.9 L1074.6 640.3 L1075.0 655.2 L1075.5 659.0 L1075.9 659.9 L1076.4 669.8 L1076.8 677.2 L1077.3 690.3 L1077.7 694.4 L1078.2 686.0 L1078.6 702.5 L1079.1 698.2 L1079.5 706.1 L1080.0 701.4 L1080.4 706.8 L1080.9 684.8 L1081.3 683.5 L1081.8 705.0 L1082.2 690.2 L1082.7 691.3 L1083.1 689.9 L1083.6 698.1 L1084.0 714.9 L1084.5 706.5 L1084.9 717.6 L1085.4 715.2 L1085.8 723.1 L1086.3 724.5 L1086.7 709.9 L1087.2 721.6 L1087.6 722.1 L1088.1 720.2 L1088.5 728.8 L1089.0 720.9 L1089.4 719.6 L1089.9 729.9 L1090.3 717.6 L1090.8 724.5 L1091.2 724.6 L1091.7 728.2 L1092.1 731.0 L1092.6 729.9 L1093.0 730.2 L1093.5 719.8 L1093.9 723.9 L1094.4 717.4 L1094.8 730.9 L1095.3 722.2 L1095.7 724.4 L1096.2 728.0 L1096.6 723.8 L1097.1 731.4 L1097.5 723.5 L1098.0 730.6 L1098.4 727.2 L1098.9 725.0 L1099.3 731.2 L1099.8 719.1 L1100.2 732.0 L1100.7 720.6 L1101.1 719.1 L1101.6 722.1 L1102.0 728.2 L1102.5 721.3 L1102.9 724.2 L1103.4 714.5 L1103.8 721.6 L1104.3 731.8 L1104.7 724.4 L1105.2 732.1 L1105.6 724.3 L1106.1 731.6 L1106.5 724.8 L1107.0 715.8 L1107.4 731.8 L1107.9 727.2 L1108.3 730.8 L1108.8 726.7 L1109.2 724.6 L1109.7 728.2 L1110.1 722.4 L1110.6 710.3 L1111.0 712.8 L1111.5 715.6 L1111.9 705.2 L1112.4 706.8 L1112.8 700.4 L1113.3 689.3 L1113.7 691.9 L1114.2 680.2 L1114.6 690.6 L1115.1 675.7 L1115.5 678.2 L1116.0 684.5 L1116.4 693.2 L1116.9 703.5 L1117.3 702.6 L1117.8 720.5 L1118.2 724.1 L1118.7 724.0 L1119.1 714.0 L1119.6 725.5 L1120.0 725.0 L1120.5 729.7 L1120.9 726.2 L1121.4 722.8 L1121.8 726.6 L1122.3 732.4 L1122.7 729.8 L1123.2 729.4 L1123.6 732.2 L1124.1 732.7 L1124.5 724.8 L1125.0 732.8 L1125.4 730.9 L1125.9 726.4 L1126.3 723.1 L1126.8 730.9 L1127.2 732.4 L1127.7 717.8 L1128.1 723.1 L1128.6 720.6 L1129.0 722.2 L1129.5 721.1 L1129.9 729.9 L1130.4 728.3 L1130.8 714.3 L1131.3 722.6 L1131.7 714.6 L1132.2 709.0 L1132.6 708.7 L1133.1 710.4 L1133.5 699.2 L1134.0 697.7 L1134.4 698.2 L1134.9 694.9 L1135.3 693.3 L1135.8 703.1 L1136.2 702.8 L1136.7 709.3 L1137.1 709.2 L1137.6 717.7 L1138.0 718.0 L1138.5 720.5 L1138.9 726.6 L1139.4 727.6 L1139.8 724.4 L1140.3 724.6 L1140.7 719.4 L1141.2 725.7 L1141.6 727.1 L1142.1 719.4 L1142.5 719.7 L1143.0 728.3 L1143.4 729.0 L1143.9 720.8 L1144.3 730.6 L1144.8 721.7 L1145.2 732.4 L1145.7 732.4 L1146.1 730.9 L1146.6 726.6 L1147.0 729.2 L1147.5 731.8 L1147.9 733.2 L1148.4 733.4 L1148.8 713.2 L1149.3 716.9 L1149.7 716.9 L1150.2 721.8 L1150.6 723.7 L1151.1 726.5 L1151.5 719.6 L1152.0 727.0 L1152.4 712.1 L1152.9 731.1 L1153.3 725.6 L1153.8 714.1 L1154.2 721.2 L1154.7 713.7 L1155.1 713.8 L1155.6 726.9 L1156.0 725.3 L1156.5 733.5 L1156.9 726.6 L1157.4 703.7 L1157.8 733.4 L1158.3 706.9 L1158.7 710.7 L1159.2 715.3 L1159.6 732.4 L1160.1 715.2 L1160.5 711.7 L1161.0 730.2 L1161.4 732.9 L1161.9 732.7 L1162.3 731.5 L1162.8 731.7 L1163.2 733.4 L1163.7 732.2 L1164.1 730.3 L1164.6 723.2 L1165.0 717.4 L1165.5 733.4 L1165.9 719.2 L1166.4 719.6 L1166.8 717.5 L1167.3 727.4 L1167.7 728.9 L1168.2 730.3 L1168.6 728.9 L1169.1 728.4 L1169.5 727.2 L1170.0 723.9 L1170.4 726.0 L1170.9 723.9 L1171.3 718.6 L1171.8 721.0 L1172.2 706.9 L1172.7 708.3 L1173.1 715.2 L1173.6 705.5 L1174.0 700.6 L1174.5 706.0 L1174.9 716.4 L1175.4 712.8 L1175.8 712.4 L1176.3 711.5 L1176.7 721.7 L1177.2 725.1 L1177.6 724.7 L1178.1 729.2 L1178.5 718.6 L1179.0 723.3 L1179.4 726.3 L1179.9 726.4 L1180.3 719.0 L1180.8 732.4 L1181.2 720.6 L1181.7 730.7 L1182.1 728.1 L1182.6 729.0 L1183.0 730.5 L1183.5 729.9 L1183.9 727.1 L1184.4 730.6 L1184.8 731.5 L1185.3 732.7 L1185.7 730.3 L1186.2 727.6 L1186.6 732.4 L1187.1 732.4 L1187.5 720.9 L1188.0 732.3 L1188.4 731.9 L1188.9 729.4 L1189.3 724.3 L1189.8 724.4 L1190.2 726.1 L1190.7 727.9 L1191.1 728.0 L1191.6 731.0 L1192.0 722.1 L1192.5 719.0 L1192.9 715.6 L1193.4 727.8 L1193.8 725.0 L1194.3 726.7 L1194.7 718.5 L1195.2 716.9 L1195.6 723.4 L1196.1 720.6 L1196.5 704.2 L1197.0 706.9 L1197.4 707.8 L1197.9 698.3 L1198.3 688.5 L1198.8 672.1 L1199.2 657.1 L1199.7 644.8 L1200.1 646.4 L1200.6 634.3 L1201.0 611.9 L1201.5 601.4 L1201.9 608.7 L1202.4 599.4 L1202.8 593.0 L1203.3 601.7 L1203.7 607.6 L1204.2 629.5 L1204.6 644.3 L1205.1 651.9 L1205.5 660.9 L1206.0 682.4 L1206.4 679.3 L1206.9 695.7 L1207.3 683.8 L1207.8 705.7 L1208.2 696.0 L1208.7 693.6 L1209.1 694.1 L1209.6 693.0 L1210.0 681.2 L1210.5 689.1 L1210.9 677.0 L1211.4 651.9 L1211.8 654.3 L1212.3 648.0 L1212.7 641.0 L1213.2 633.4 L1213.6 632.4 L1214.1 618.6 L1214.5 634.2 L1215.0 626.1 L1215.4 648.0 L1215.9 656.7 L1216.3 661.8 L1216.8 677.7 L1217.2 687.6 L1217.7 671.8 L1218.1 679.7 L1218.6 696.1 L1219.0 698.8 L1219.5 718.0 L1219.9 722.3 L1220.4 721.5 L1220.8 717.0 L1221.3 709.3 L1221.7 720.9 L1222.2 724.1 L1222.6 729.4 L1223.1 728.9 L1223.5 725.2 L1224.0 728.4 L1224.4 726.4 L1224.9 723.5 L1225.3 729.4 L1225.8 717.9 L1226.2 726.0 L1226.7 717.8 L1227.1 727.2 L1227.6 725.5 L1228.0 717.5 L1228.5 728.5 L1228.9 722.9 L1229.4 721.0 L1229.8 729.5 L1230.3 727.1 L1230.7 726.5 L1231.2 728.8 L1231.6 725.3 L1232.1 723.7 L1232.5 709.2 L1233.0 700.2 L1233.4 717.3 L1233.9 701.9 L1234.3 696.2 L1234.8 698.5 L1235.2 680.6 L1235.7 685.6 L1236.1 686.0 L1236.6 684.4 L1237.0 674.7 L1237.5 669.9 L1237.9 685.5 L1238.4 681.3 L1238.8 703.1 L1239.3 709.0 L1239.7 702.4 L1240.2 717.1 L1240.6 714.9 L1241.1 719.5 L1241.5 724.6 L1242.0 721.0 L1242.4 722.8 L1242.9 717.2 L1243.3 719.9 L1243.8 723.9 L1244.2 729.7 L1244.7 725.9 L1245.1 731.0 L1245.6 720.2 L1246.0 725.7 L1246.5 732.1 L1246.9 723.2 L1247.4 724.1 L1247.8 720.2 L1248.3 719.6 L1248.7 728.8 L1249.2 732.6 L1249.6 732.7 L1250.1 733.3 L1250.5 732.6 L1251.0 724.8 L1251.4 733.3 L1251.9 729.5 L1252.3 726.1 L1252.8 732.3 L1253.2 725.7 L1253.7 724.3 L1254.1 726.2 L1254.6 733.2 L1255.0 724.1 L1255.5 732.7 L1255.9 733.0 L1256.4 717.0 L1256.8 717.6 L1257.3 715.5 L1257.7 732.3 L1258.2 729.6 L1258.6 731.0 L1259.1 729.0 L1259.5 731.0 L1260.0 724.5 L1260.4 717.9 L1260.9 713.1 L1261.3 716.5 L1261.8 722.8 L1262.2 723.7 L1262.7 722.9 L1263.1 716.2 L1263.6 713.6 L1264.0 717.9 L1264.5 711.8 L1264.9 716.9 L1265.4 715.7 L1265.8 702.3 L1266.3 711.5 L1266.7 697.7 L1267.2 694.8 L1267.6 708.9 L1268.1 708.1 L1268.5 703.8 L1269.0 709.3 L1269.4 712.9 L1269.9 708.3 L1270.3 715.6 L1270.8 711.6 L1271.2 718.7 L1271.7 713.5 L1272.1 711.8 L1272.6 724.0 L1273.0 712.2 L1273.5 718.7 L1273.9 720.4 L1274.4 721.5 L1274.8 727.9 L1275.3 730.1 L1275.7 723.0 L1276.2 728.0 L1276.6 718.6 L1277.1 729.9 L1277.5 720.6 L1278.0 720.5 L1278.4 720.5 L1278.9 723.2 L1279.3 729.3 L1279.8 715.8 L1280.2 728.9 L1280.7 728.8 L1281.1 718.9 L1281.6 716.6 L1282.0 724.6 L1282.5 727.2 L1282.9 719.1 L1283.4 709.8 L1283.8 704.1 L1284.3 712.6 L1284.7 696.4 L1285.2 690.4 L1285.6 678.9 L1286.1 670.6 L1286.5 666.8 L1287.0 664.1 L1287.4 658.8 L1287.9 646.5 L1288.3 656.8 L1288.8 650.2 L1289.2 665.5 L1289.7 669.0 L1290.1 680.4 L1290.6 688.3 L1291.0 696.2 L1291.5 703.6 L1291.9 708.8 L1292.4 714.5 L1292.8 702.0 L1293.3 715.0 L1293.7 725.4 L1294.2 726.0 L1294.6 713.0 L1295.1 719.1 L1295.5 726.8 L1296.0 730.4 L1296.4 726.2 L1296.9 727.3 L1297.3 728.1 L1297.8 711.4 L1298.2 716.5 L1298.7 718.7 L1299.1 723.6 L1299.6 718.7 L1300.0 718.7 L1300.5 724.7 L1300.9 727.1 L1301.4 728.5 L1301.8 724.6 L1302.3 728.3 L1302.7 727.8 L1303.2 717.1 L1303.6 726.0 L1304.1 722.3 L1304.5 708.1 L1305.0 708.6 L1305.4 705.5 L1305.9 706.3 L1306.3 698.2 L1306.8 688.5 L1307.2 676.5 L1307.7 664.3 L1308.1 652.6 L1308.6 640.8 L1309.0 610.8 L1309.5 602.5 L1309.9 609.2 L1310.4 609.4 L1310.8 625.9 L1311.3 633.1 L1311.7 646.1 L1312.2 652.0 L1312.6 673.2 L1313.1 684.0 L1313.5 695.9 L1314.0 695.0 L1314.4 692.9 L1314.9 707.2 L1315.3 720.6 L1315.8 722.6 L1316.2 717.9 L1316.7 721.1 L1317.1 725.6 L1317.6 730.1 L1318.0 730.1 L1318.5 729.6 L1318.9 725.2 L1319.4 723.0 L1319.8 722.1 L1320.3 722.2 L1320.7 731.1 L1321.2 722.0 L1321.6 731.6 L1322.1 731.1 L1322.5 731.4 L1323.0 731.2 L1323.4 729.8 L1323.9 724.5 L1324.3 732.3 L1324.8 732.0 L1325.2 725.9 L1325.7 729.3 L1326.1 718.7 L1326.6 733.5 L1327.0 733.3 L1327.5 729.4 L1327.9 733.1 L1328.4 725.6 L1328.8 729.9 L1329.3 729.2 L1329.7 727.7 L1330.2 726.6 L1330.6 729.8 L1331.1 732.3 L1331.5 726.8 L1332.0 733.5 L1332.4 731.8 L1332.9 728.0 L1333.3 731.3 L1333.8 726.3 L1334.2 725.6 L1334.7 725.7 L1335.1 728.2 L1335.6 731.9 L1336.0 730.5 L1336.5 726.9 L1336.9 722.3 L1337.4 723.0 L1337.8 726.4 L1338.3 724.8 L1338.7 734.1 L1339.2 730.3 L1339.6 718.6 L1340.1 724.4 L1340.5 724.6 L1341.0 720.8 L1341.4 731.6 L1341.9 734.2 L1342.3 726.5 L1342.8 730.7 L1343.2 731.1 L1343.7 733.9 L1344.1 733.1 L1344.6 725.8 L1345.0 722.1 L1345.5 734.1 L1345.9 728.6 L1346.4 732.6 L1346.8 728.1 L1347.3 733.1 L1347.7 722.5 L1348.2 731.5 L1348.6 727.1 L1349.1 730.6 L1349.5 726.1 L1350.0 726.5 L1350.4 732.0 L1350.9 734.2 L1351.3 734.2 L1351.8 732.5 L1352.2 725.6 L1352.7 729.3 L1353.1 730.1 L1353.6 734.0 L1354.0 732.0 L1354.5 729.3 L1354.9 726.5 L1355.4 725.8 L1355.8 731.3 L1356.3 726.2 L1356.7 733.8 L1357.2 730.2 L1357.6 726.9 L1358.1 723.5 L1358.5 721.0 L1359.0 724.8 L1359.4 724.2 L1359.9 728.7 L1360.3 728.0 L1360.8 730.0 L1361.2 716.7 L1361.7 728.9 L1362.1 730.0 L1362.6 719.3 L1363.0 725.0 L1363.5 724.6 L1363.9 712.9 L1364.4 723.3 L1364.8 719.5 L1365.3 709.0 L1365.7 710.4 L1366.2 690.4 L1366.6 682.7 L1367.1 692.6 L1367.5 676.5 L1368.0 684.5 L1368.4 683.3 L1368.9 688.5 L1369.3 682.0 L1369.8 699.8 L1370.2 692.8 L1370.7 710.4 L1371.1 716.3 L1371.6 706.2 L1372.0 724.9 L1372.5 727.0 L1372.9 722.9 L1373.4 717.7 L1373.8 720.6 L1374.3 724.1 L1374.7 732.7 L1375.2 732.8 L1375.6 723.7 L1376.1 723.9 L1376.5 720.3 L1377.0 731.0 L1377.4 728.5 L1377.9 732.0 L1378.3 733.5 L1378.8 726.5 L1379.2 726.5 L1379.7 733.8 L1380.1 728.6 L1380.6 723.8 L1381.0 725.5 L1381.5 732.1 L1381.9 734.1 L1382.4 732.9 L1382.8 733.6 L1383.3 731.5 L1383.7 730.2 L1384.2 730.3 L1384.6 733.6 L1385.1 732.0 L1385.5 733.1 L1386.0 724.2 L1386.4 725.2 L1386.9 722.5 L1387.3 731.4 L1387.8 725.1 L1388.2 733.4 L1388.7 731.9 L1389.1 731.5 L1389.6 732.5 L1390.0 733.4 L1390.5 723.0 L1390.9 730.8 L1391.4 726.8 L1391.8 733.3 L1392.3 726.5 L1392.7 726.1 L1393.2 721.1 L1393.6 732.4 L1394.1 718.6 L1394.5 720.5 L1395.0 733.5 L1395.4 729.9 L1395.9 730.2 L1396.3 713.8 L1396.8 723.0 L1397.2 733.4 L1397.7 727.2 L1398.1 719.4 L1398.6 734.1 L1399.0 719.6 L1399.5 721.2 L1399.9 718.4 L1400.4 733.1 L1400.8 710.7 L1401.3 728.6 L1401.7 720.9 L1402.2 731.6 L1402.6 734.2 L1403.1 734.0 L1403.5 723.6 L1404.0 712.0 L1404.4 720.1 L1404.9 734.0 L1405.3 734.2 L1405.8 708.2 L1406.2 727.4 L1406.7 711.9 L1407.1 717.0 L1407.6 717.9 L1408.0 714.3 L1408.5 728.6 L1408.9 730.1 L1409.4 733.6 L1409.8 710.1 L1410.3 733.2 L1410.7 714.8 L1411.2 733.1 L1411.6 722.9 L1412.1 714.3 L1412.5 723.4 L1413.0 722.6 L1413.4 723.6 L1413.9 730.5 L1414.3 707.7 L1414.8 715.2 L1415.2 704.5 L1415.7 704.9 L1416.1 718.9 L1416.6 701.1 L1417.0 704.4 L1417.5 708.3 L1417.9 695.5 L1418.4 677.2 L1418.8 701.4 L1419.3 686.2 L1419.7 694.3 L1420.2 694.1 L1420.6 691.7 L1421.1 707.1 L1421.5 712.4 L1422.0 715.3 L1422.4 715.4 L1422.9 713.6 L1423.3 720.1 L1423.8 716.3 L1424.2 727.4 L1424.7 730.1 L1425.1 725.0 L1425.6 723.4 L1426.0 727.9 L1426.5 732.8 L1426.9 729.0 L1427.4 724.6 L1427.8 730.5 L1428.3 722.1 L1428.7 732.3 L1429.2 726.3 L1429.6 730.7 L1430.1 733.5 L1430.5 732.3 L1431.0 733.4 L1431.4 728.9 L1431.9 723.8 L1432.3 725.6 L1432.8 727.6 L1433.2 733.9 L1433.7 727.8 L1434.1 724.3 L1434.6 731.5 L1435.0 729.1 L1435.5 729.3 L1435.9 728.3 L1436.4 733.4 L1436.8 727.5 L1437.3 731.3 L1437.7 726.3 L1438.2 732.6 L1438.6 729.5 L1439.1 731.1 L1439.5 718.2 L1440.0 711.4 L1440.4 715.9 L1440.9 721.9 L1441.3 719.3 L1441.8 713.3 L1442.2 721.3 L1442.7 722.9 L1443.1 702.2 L1443.6 715.4 L1444.0 709.1 L1444.5 718.8 L1444.9 724.6 L1445.4 728.9 L1445.8 720.0 L1446.3 723.3 L1446.7 732.1 L1447.2 731.9 L1447.6 716.2 L1448.1 722.8 L1448.5 732.1 L1449.0 730.2 L1449.4 724.6 L1449.9 720.1 L1450.3 733.5 L1450.8 724.3 L1451.2 726.1 L1451.7 722.5 L1452.1 733.8 L1452.6 729.9 L1453.0 723.6 L1453.5 731.5 L1453.9 725.9 L1454.4 728.8 L1454.8 726.1 L1455.3 717.9 L1455.7 720.6 L1456.2 733.8 L1456.6 723.1 L1457.1 734.2 L1457.5 730.8 L1458.0 721.9 L1458.4 721.0 L1458.9 715.4 L1459.3 732.0 L1459.8 728.0 L1460.2 726.0 L1460.7 723.8 L1461.1 722.8 L1461.6 731.8 L1462.0 733.1 L1462.5 732.2 L1462.9 724.6 L1463.4 732.7 L1463.8 730.9 L1464.3 720.9 L1464.7 717.2 L1465.2 725.5 L1465.6 718.4 L1466.1 723.7 L1466.5 723.9 L1467.0 718.6 L1467.4 723.7 L1467.9 719.4 L1468.3 716.3 L1468.8 709.5 L1469.2 711.5 L1469.7 726.0 L1470.1 723.7 L1470.6 729.8 L1471.0 730.9 L1471.5 709.6 L1471.9 731.1 L1472.4 728.7 L1472.8 719.7 L1473.3 731.7 L1473.7 728.5 L1474.2 733.3 L1474.6 720.8 L1475.1 731.1 L1475.5 733.3 L1476.0 732.3 L1476.4 728.7 L1476.9 730.7 L1477.3 732.3 L1477.8 732.4 L1478.2 731.9 L1478.7 730.4 L1479.1 731.7 L1479.6 727.2 L1480.0 731.9 L1480.5 734.0 L1480.9 734.1 L1481.4 731.7 L1481.8 721.7 L1482.3 730.9 L1482.7 731.3 L1483.2 734.2 L1483.6 730.0 L1484.1 734.1 L1484.5 732.9 L1485.0 733.2 L1485.4 731.8 L1485.9 733.4 L1486.3 733.2 L1486.8 734.0 L1487.2 730.0 L1487.7 732.4 L1488.1 724.0 L1488.6 725.1 L1489.0 730.0 L1489.5 722.5 L1489.9 731.5 L1490.4 733.4 L1490.8 723.1 L1491.3 720.8 L1491.7 733.2 L1492.2 730.0 L1492.6 732.8 L1493.1 725.4 L1493.5 721.7 L1494.0 730.9 L1494.4 721.5 L1494.9 723.2 L1495.3 725.7 L1495.8 722.1 L1496.2 718.9 L1496.7 714.6 L1497.1 704.7 L1497.6 705.6 L1498.0 685.1 L1498.5 692.2 L1498.9 688.2 L1499.4 679.4 L1499.8 691.4 L1500.3 692.7 L1500.7 688.5 L1501.2 694.2 L1501.6 703.3 L1502.1 703.6 L1502.5 710.5 L1503.0 712.7 L1503.4 712.7 L1503.9 717.6 L1504.3 715.8 L1504.8 725.7 L1505.2 717.9 L1505.7 720.0 L1506.1 732.1 L1506.6 725.0 L1507.0 714.6 L1507.5 726.5 L1507.9 727.7 L1508.4 727.5 L1508.8 716.3 L1509.3 726.4 L1509.7 727.3 L1510.2 717.6 L1510.6 708.9 L1511.1 715.9 L1511.5 720.9 L1512.0 718.3 L1512.4 714.2 L1512.9 705.3 L1513.3 700.5 L1513.8 704.3 L1514.2 716.0 L1514.7 709.6 L1515.1 709.9 L1515.6 718.5 L1516.0 723.9 L1516.5 721.9 L1516.9 724.9 L1517.4 727.6 L1517.8 731.3 L1518.3 730.5 L1518.7 724.1 L1519.2 730.8 L1519.6 726.4 L1520.1 730.1 L1520.5 732.4 L1521.0 725.5 L1521.4 720.9 L1521.9 724.3 L1522.3 723.1 L1522.8 729.6 L1523.2 718.4 L1523.7 714.5 L1524.1 725.0 L1524.6 721.7 L1525.0 733.4 L1525.5 733.7 L1525.9 724.2 L1526.4 730.6 L1526.8 731.7 L1527.3 727.3 L1527.7 733.9 L1528.2 728.7 L1528.6 726.7 L1529.1 725.9 L1529.5 733.9 L1530.0 733.8 L1530.4 724.9 L1530.9 723.3 L1531.3 723.1 L1531.8 728.9 L1532.2 731.6 L1532.7 724.3 L1533.1 731.2 L1533.6 721.9 L1534.0 729.3 L1534.5 733.7 L1534.9 733.6 L1535.4 722.6 L1535.8 731.5 L1536.3 732.6 L1536.7 733.3 L1537.2 731.2 L1537.6 721.3 L1538.1 733.3 L1538.5 724.0 L1539.0 730.3 L1539.4 724.2 L1539.9 722.8 L1540.3 721.5 L1540.8 731.9 L1541.2 724.8 L1541.7 731.9 L1542.1 731.2 L1542.6 730.9 L1543.0 718.7 L1543.5 720.0 L1543.9 722.3 L1544.4 729.5 L1544.8 729.4 L1545.3 719.8 L1545.7 722.6 L1546.2 715.6 L1546.6 716.6 L1547.1 720.0 L1547.5 714.6 L1548.0 706.2 L1548.4 709.5 L1548.9 710.3 L1549.3 701.6 L1549.8 689.7 L1550.2 687.6 L1550.7 674.7 L1551.1 671.1 L1551.6 669.0 L1552.0 659.9 L1552.5 668.0 L1552.9 665.5 L1553.4 663.7 L1553.8 657.1 L1554.3 657.7 L1554.7 662.6 L1555.2 653.3 L1555.6 670.3 L1556.1 676.5 L1556.5 676.4 L1557.0 683.3 L1557.4 692.5 L1557.9 692.8 L1558.3 697.8 L1558.8 693.2 L1559.2 703.3 L1559.7 713.7 L1560.1 703.8 L1560.6 709.5 L1561.0 710.9 L1561.5 722.3 L1561.9 725.7 L1562.4 717.0 L1562.8 719.2 L1563.3 723.0 L1563.7 730.5 L1564.2 727.9 L1564.6 731.2 L1565.1 719.5 L1565.5 730.7 L1566.0 721.7 L1566.4 724.2 L1566.9 727.7 L1567.3 725.0 L1567.8 731.2 L1568.2 732.9 L1568.7 723.6 L1569.1 730.1 L1569.6 733.2 L1570.0 730.2 L1570.5 726.1 L1570.9 724.8 L1571.4 724.6 L1571.8 732.6 L1572.3 733.6 L1572.7 722.5 L1573.2 729.4 L1573.6 732.3 L1574.1 733.2 L1574.5 721.6 L1575.0 733.5 L1575.4 721.1 L1575.9 723.8 L1576.3 732.4 L1576.8 718.4 L1577.2 717.6 L1577.7 733.4 L1578.1 727.9 L1578.6 727.8 L1579.0 729.5 L1579.5 717.5 L1579.9 729.2 L1580.4 724.7 L1580.8 719.3 L1581.3 719.8 L1581.7 726.1 L1582.2 717.5 L1582.6 728.4 L1583.1 721.7 L1583.5 732.5 L1584.0 727.9 L1584.4 728.1 L1584.9 722.0 L1585.3 727.7 L1585.8 724.9 L1586.2 716.2 L1586.7 703.8 L1587.1 702.8 L1587.6 708.8 L1588.0 712.9 L1588.5 705.6 L1588.9 714.9 L1589.4 718.3 L1589.8 717.4 L1590.3 724.3 L1590.7 725.6 L1591.2 717.0 L1591.6 724.8 L1592.1 725.9 L1592.5 720.4 L1593.0 723.7 L1593.4 707.2 L1593.9 719.4 L1594.3 716.6 L1594.8 712.4 L1595.2 723.4 L1595.7 720.5 L1596.1 726.9 L1596.6 720.6 L1597.0 728.1 L1597.5 729.7 L1597.9 722.6 L1598.4 730.4 L1598.8 731.9 L1599.3 723.9 L1599.7 728.7 L1600.2 727.7 L1600.6 730.4 L1601.1 730.5 L1601.5 724.7 L1602.0 734.0 L1602.4 723.0 L1602.9 728.8 L1603.3 726.7 L1603.8 722.1 L1604.2 726.4 L1604.7 734.3 L1605.1 725.5 L1605.6 726.0 L1606.0 723.2 L1606.5 732.9 L1606.9 725.4 L1607.4 726.3 L1607.8 728.8 L1608.3 726.1 L1608.7 733.0 L1609.2 730.8 L1609.6 729.3 L1610.1 723.3 L1610.5 727.0 L1611.0 734.1 L1611.4 724.2 L1611.9 725.2 L1612.3 722.9 L1612.8 722.8 L1613.2 724.5 L1613.7 726.5 L1614.1 733.1 L1614.6 726.6 L1615.0 717.9 L1615.5 714.0 L1615.9 732.0 L1616.4 721.5 L1616.8 729.6 L1617.3 723.2 L1617.7 727.9 L1618.2 728.3 L1618.6 718.7 L1619.1 719.8 L1619.5 713.6 L1620.0 696.6 L1620.4 695.1 L1620.9 694.5 L1621.3 689.0 L1621.8 683.3 L1622.2 692.9 L1622.7 686.8 L1623.1 697.0 L1623.6 714.4 L1624.0 720.6 L1624.5 725.4 L1624.9 724.4 L1625.4 729.4 L1625.8 728.0 L1626.3 728.3 L1626.7 723.6 L1627.2 728.9 L1627.6 733.5 L1628.1 732.0 L1628.5 725.1 L1629.0 725.7 L1629.4 725.4 L1629.9 726.9 L1630.3 733.2 L1630.8 732.8 L1631.2 732.0 L1631.7 733.1 L1632.1 729.4 L1632.6 732.8 L1633.0 726.9 L1633.5 734.3 L1633.9 728.1 L1634.4 733.2 L1634.8 725.6 L1635.3 724.5 L1635.7 729.8 L1636.2 734.4 L1636.6 734.4 L1637.1 727.1 L1637.5 733.2 L1638.0 730.3 L1638.4 726.0 L1638.9 726.1 L1639.3 722.9 L1639.8 729.0 L1640.2 732.3 L1640.7 730.4 L1641.1 731.1 L1641.6 732.1 L1642.0 722.9 L1642.5 725.0 L1642.9 732.1 L1643.4 723.7 L1643.8 723.2 L1644.3 731.1 L1644.7 729.5 L1645.2 731.0 L1645.6 730.2 L1646.1 726.7 L1646.5 727.5 L1647.0 734.4 L1647.4 734.6 L1647.9 729.4 L1648.3 733.0 L1648.8 726.6 L1649.2 734.6 L1649.7 733.1 L1650.1 728.8 L1650.6 725.5 L1651.0 731.4 L1651.5 729.4 L1651.9 731.6 L1652.4 732.5 L1652.8 731.7 L1653.3 726.9 L1653.7 728.9 L1654.2 734.3 L1654.6 729.5 L1655.1 725.4 L1655.5 732.0 L1656.0 726.1 L1656.4 727.5 L1656.9 730.9 L1657.3 734.4 L1657.8 730.1 L1658.2 732.9 L1658.7 723.2 L1659.1 725.5 L1659.6 729.5 L1660.0 726.3 L1660.5 723.6 L1660.9 719.3 L1661.4 725.1 L1661.8 730.0 L1662.3 733.4 L1662.7 722.2 L1663.2 734.0 L1663.6 734.3 L1664.1 725.6 L1664.5 726.9 L1665.0 731.4 L1665.4 724.7 L1665.9 723.3 L1666.3 730.3 L1666.8 732.7 L1667.2 731.5 L1667.7 727.8 L1668.1 728.7 L1668.6 728.5 L1669.0 724.5 L1669.5 722.3 L1669.9 717.3 L1670.4 713.8 L1670.8 717.5 L1671.3 709.5 L1671.7 723.0 L1672.2 720.6 L1672.6 724.3 L1673.1 725.1 L1673.5 729.0 L1674.0 725.4 L1674.4 725.2 L1674.9 731.6 L1675.3 732.6 L1675.8 733.1 L1676.2 730.1 L1676.7 723.6 L1677.1 734.1 L1677.6 734.2 L1678.0 725.8 L1678.5 732.4 L1678.9 730.2 L1679.4 727.0 L1679.8 733.0 L1680.3 723.2 L1680.7 732.0 L1681.2 730.8 L1681.6 723.2 L1682.1 730.1 L1682.5 733.7 L1683.0 733.2 L1683.4 725.8 L1683.9 732.2 L1684.3 732.6 L1684.8 734.6 L1685.2 734.6 L1685.7 734.2 L1686.1 733.1 L1686.6 723.4 L1687.0 730.5 L1687.5 734.6 L1687.9 730.5 L1688.4 732.9 L1688.8 724.4 L1689.3 722.3 L1689.7 730.0 L1690.2 727.2 L1690.6 732.5 L1691.1 733.9 L1691.5 728.8 L1692.0 734.5 L1692.4 730.8 L1692.9 726.4 L1693.3 733.9 L1693.8 727.8 L1694.2 733.7 L1694.7 728.0 L1695.1 733.7 L1695.6 731.4 L1696.0 732.2 L1696.5 734.6 L1696.9 729.3 L1697.4 734.5 L1697.8 729.2 L1698.3 731.1 L1698.7 726.0 L1699.2 731.5 L1699.6 734.6 L1700.1 732.7 L1700.5 728.2 L1701.0 734.5 L1701.4 733.9 L1701.9 734.4 L1702.3 726.8 L1702.8 733.3 L1703.2 734.2 L1703.7 728.9 L1704.1 733.4 L1704.6 729.9 L1705.0 727.1 L1705.5 729.2 L1705.9 726.5 L1706.4 733.6 L1706.8 727.6 L1707.3 729.3 L1707.7 731.9 L1708.2 728.6 L1708.6 728.7 L1709.1 734.1 L1709.5 733.3 L1710.0 730.0 L1710.4 733.8 L1710.9 731.4 L1711.3 732.3 L1711.8 730.4 L1712.2 734.1 L1712.7 729.4 L1713.1 727.9 L1713.6 731.1 L1714.0 732.8 L1714.5 733.9 L1714.9 725.9 L1715.4 724.3 L1715.8 727.1 L1716.3 732.9 L1716.7 726.5 L1717.2 732.0 L1717.6 733.7 L1718.1 731.3 L1718.5 734.7 L1719.0 734.4 L1719.4 728.1 L1719.9 718.6 L1720.3 716.6 L1720.8 723.8 L1721.2 732.0 L1721.7 734.7 L1722.1 718.2 L1722.6 734.6 L1723.0 719.9 L1723.5 720.8 L1723.9 734.2 L1724.4 721.4 L1724.8 727.5 L1725.3 731.8 L1725.7 720.9 L1726.2 732.6 L1726.6 725.4 L1727.1 734.0 L1727.5 718.1 L1728.0 723.1 L1728.4 729.4 L1728.9 734.1 L1729.3 712.6 L1729.8 727.5 L1730.2 713.1 L1730.7 709.7 L1731.1 723.4 L1731.6 727.2 L1732.0 731.2 L1732.5 726.4 L1732.9 728.1 L1733.4 733.7 L1733.8 732.9 L1734.3 717.0 L1734.7 716.5 L1735.2 728.7 L1735.6 717.5 L1736.1 727.8 L1736.5 732.8 L1737.0 727.8 L1737.4 728.3 L1737.9 727.2 L1738.3 723.5 L1738.8 733.0 L1739.2 734.0 L1739.7 729.9 L1740.1 732.8 L1740.6 729.8 L1741.0 726.4 L1741.5 733.3 L1741.9 729.8 L1742.4 725.8 L1742.8 726.0 L1743.3 734.4 L1743.7 732.2 L1744.2 731.1 L1744.6 727.4 L1745.1 729.9 L1745.5 731.4 L1746.0 730.4 L1746.4 725.9 L1746.9 734.5 L1747.3 729.4 L1747.8 718.5 L1748.2 726.4 L1748.7 723.4 L1749.1 722.5 L1749.6 719.8 L1750.0 734.4 L1750.5 734.5 L1750.9 733.8 L1751.4 732.4 L1751.8 734.5 L1752.3 727.9 L1752.7 725.4 L1753.2 725.3 L1753.6 730.4 L1754.1 730.6 L1754.5 732.5 L1755.0 718.0 L1755.4 720.9 L1755.9 719.5 L1756.3 726.9 L1756.8 734.2 L1757.2 733.9 L1757.7 734.0 L1758.1 709.7 L1758.6 733.8 L1759.0 724.2 L1759.5 718.6 L1759.9 714.3 L1760.4 724.7 L1760.8 721.1 L1761.3 728.3 L1761.7 716.1 L1762.2 732.8 L1762.6 731.7 L1763.1 729.1 L1763.5 723.1 L1764.0 727.6 L1764.4 728.8 L1764.9 715.7 L1765.3 725.9 L1765.8 723.4 L1766.2 711.1 L1766.7 714.2 L1767.1 716.3 L1767.6 715.2 L1768.0 722.5 L1768.5 717.8 L1768.9 724.6 L1769.4 725.7 L1769.8 723.6 L1770.3 727.1 L1770.7 720.9 L1771.2 731.1 L1771.6 732.1 L1772.1 726.2 L1772.5 733.8 L1773.0 733.3 L1773.4 725.6 L1773.9 734.3 L1774.3 734.0 L1774.8 725.2 L1775.2 730.9 L1775.7 734.4 L1776.1 733.8 L1776.6 724.2 L1777.0 731.3 L1777.5 726.4 L1777.9 720.7 L1778.4 718.6 L1778.8 725.2 L1779.3 731.6 L1779.7 726.7 L1780.2 721.2 L1780.6 723.2 L1781.1 730.0 L1781.5 721.8 L1782.0 722.6 L1782.4 731.4 L1782.9 729.8 L1783.3 731.6 L1783.8 733.8 L1784.2 724.5 L1784.7 725.4 L1785.1 734.3 L1785.6 733.9 L1786.0 726.7 L1786.5 734.6 L1786.9 733.3 L1787.4 730.5 L1787.8 729.2 L1788.3 725.7 L1788.7 733.3 L1789.2 733.1 L1789.6 734.2 L1790.1 733.2 L1790.5 728.2 L1791.0 732.4 L1791.4 729.5 L1791.9 728.7 L1792.3 729.7 L1792.8 732.0 L1793.2 731.0 L1793.7 725.7 L1794.1 732.6 L1794.6 733.9 L1795.0 733.7 L1795.5 733.1 L1795.9 734.1 L1796.4 721.0 L1796.8 734.1 L1797.3 723.8 L1797.7 727.8 L1798.2 717.5 L1798.6 732.6 L1799.1 720.4 L1799.5 734.1 L1800.0 732.7 L1800.4 729.6 L1800.9 720.9 L1801.3 726.5 L1801.8 722.7 L1802.2 728.9 L1802.7 734.6 L1803.1 734.1 L1803.6 732.1 L1804.0 734.0 L1804.5 717.5 L1804.9 728.0 L1805.4 720.2 L1805.8 717.0 L1806.3 718.5 L1806.7 734.3 L1807.2 734.7 L1807.6 724.7 L1808.1 731.5 L1808.5 729.3 L1809.0 720.2 L1809.4 725.7 L1809.9 721.7 L1810.3 723.1 L1810.8 729.1 L1811.2 731.2 L1811.7 725.0 L1812.1 718.4 L1812.6 720.3 L1813.0 720.9 L1813.5 732.7 L1813.9 733.6 L1814.4 725.9 L1814.8 729.9 L1815.3 721.6 L1815.7 734.0 L1816.2 723.9 L1816.6 724.4 L1817.1 734.8 L1817.5 734.0 L1818.0 727.5 L1818.4 730.2 L1818.9 734.0 L1819.3 726.2 L1819.8 727.1 L1820.2 730.9 L1820.7 732.1 L1821.1 725.2 L1821.6 733.0 L1822.0 729.2 L1822.5 729.2 L1822.9 734.0 L1823.4 725.8 L1823.8 732.5 L1824.3 730.6 L1824.7 732.8 L1825.2 733.2 L1825.6 723.3 L1826.1 734.5 L1826.5 726.3 L1827.0 724.6 L1827.4 722.5 L1827.9 732.5 L1828.3 734.6 L1828.8 727.8 L1829.2 734.7 L1829.7 723.0 L1830.1 734.8 L1830.6 726.1 L1831.0 731.3 L1831.5 731.8 L1831.9 732.5 L1832.4 734.7 L1832.8 729.5 L1833.3 731.0 L1833.7 730.4 L1834.2 731.2 L1834.6 726.0 L1835.1 732.1 L1835.5 725.4 L1836.0 734.8 L1836.4 732.5 L1836.9 730.3 L1837.3 734.8 L1837.8 730.2 L1838.2 734.2 L1838.7 722.3 L1839.1 725.5 L1839.6 728.5 L1840.0 726.8 L1840.5 723.6 L1840.9 727.0 L1841.4 719.4 L1841.8 734.6 L1842.3 727.3 L1842.7 734.6 L1843.2 730.9 L1843.6 726.3 L1844.1 725.5 L1844.5 734.6 L1845.0 726.6 L1845.4 727.4 L1845.9 734.8 L1846.3 734.3 L1846.8 731.0 L1847.2 726.3 L1847.7 732.6 L1848.1 728.1 L1848.6 734.5 L1849.0 725.9 L1849.5 728.4 L1849.9 734.0 L1850.4 734.5 L1850.8 729.6 L1851.3 726.1 L1851.7 730.3 L1852.2 734.8 L1852.6 733.3 L1853.1 731.4 L1853.5 734.8 L1854.0 734.7 L1854.4 730.4 L1854.9 734.0 L1855.3 720.1 L1855.8 729.8 L1856.2 716.5 L1856.7 729.3 L1857.1 730.5 L1857.6 720.7 L1858.0 724.2 L1858.5 726.9 L1858.9 733.5 L1859.4 733.8 L1859.8 717.4 L1860.3 730.3 L1860.7 717.6 L1861.2 733.5 L1861.6 725.5 L1862.1 723.4 L1862.5 720.0 L1863.0 732.9 L1863.4 720.9 L1863.9 734.4 L1864.3 712.3 L1864.8 733.9 L1865.2 726.2 L1865.7 712.8 L1866.1 730.0 L1866.6 726.2 L1867.0 728.1 L1867.5 725.9 L1867.9 726.9 L1868.4 732.6 L1868.8 734.8 L1869.3 729.8 L1869.7 725.5 L1870.2 728.7 L1870.6 724.0 L1871.1 734.3 L1871.5 733.6 L1872.0 725.7 L1872.4 734.8 L1872.9 733.2 L1873.3 734.8 L1873.8 733.7 L1874.2 727.1 L1874.7 733.4 L1875.1 734.5 L1875.6 732.9 L1876.0 728.1 L1876.5 728.8 L1876.9 729.1 L1877.4 725.0 L1877.8 731.8 L1878.3 730.4 L1878.7 727.6 L1879.2 734.6 L1879.6 729.6 L1880.1 725.2 L1880.5 731.4 L1881.0 726.6 L1881.4 725.6 L1881.9 725.5 L1882.3 731.0 L1882.8 734.6 L1883.2 728.3 L1883.7 734.7 L1884.1 729.6 L1884.6 729.9 L1885.0 723.6 L1885.5 728.7 L1885.9 733.8 L1886.4 734.7 L1886.8 726.0 L1887.3 731.6 L1887.7 724.3 L1888.2 725.9 L1888.6 731.5 L1889.1 725.0 L1889.5 734.1 L1890.0 726.9 L1890.4 723.4 L1890.9 734.8 L1891.3 730.6 L1891.8 725.9 L1892.2 729.9 L1892.7 726.5 L1893.1 733.0 L1893.6 729.4 L1894.0 734.2 L1894.5 724.5 L1894.9 728.5 L1895.4 731.1 L1895.8 728.0 L1896.3 724.5 L1896.7 734.2 L1897.2 732.4 L1897.6 729.4 L1898.1 731.6 L1898.5 731.1 L1899.0 726.4 L1899.4 734.6 L1899.9 733.7 L1900.3 734.4 L1900.8 734.1 L1901.2 731.0 L1901.7 728.1 L1902.1 733.0 L1902.6 731.8 L1903.0 731.7 L1903.5 728.0 L1903.9 734.8 L1904.4 729.5 L1904.8 724.5 L1905.3 728.2 L1905.7 726.7 L1906.2 728.4 L1906.6 733.7 L1907.1 720.8 L1907.5 734.3 L1908.0 722.6 L1908.4 732.1 L1908.9 723.4 L1909.3 733.5 L1909.8 720.2 L1910.2 724.8 L1910.7 734.6 L1911.1 733.3 L1911.6 733.6 L1912.0 734.3 L1912.5 731.5 L1912.9 734.1 L1913.4 721.8 L1913.8 733.5 L1914.3 728.6 L1914.7 733.2 L1915.2 726.9 L1915.6 726.2 L1916.1 734.7 L1916.5 734.6 L1917.0 715.3 L1917.4 722.5 L1917.9 717.4 L1918.3 725.9 L1918.8 721.9 L1919.2 734.6 L1919.7 731.8 L1920.1 728.6 L1920.6 729.5 L1921.0 732.5 L1921.5 734.7 L1921.9 731.0 L1922.4 724.4 L1922.8 728.4 L1923.3 727.1 L1923.7 723.6 L1924.2 724.2 L1924.6 726.8 L1925.1 724.9 L1925.5 733.6 L1926.0 724.9 L1926.4 731.4 L1926.9 734.6 L1927.3 733.6 L1927.8 725.9 L1928.2 725.3 L1928.7 725.7 L1929.1 725.7 L1929.6 723.8 L1930.0 731.6 L1930.5 734.7 L1930.9 734.7 L1931.4 728.4 L1931.8 732.0 L1932.3 734.0 L1932.7 733.8 L1933.2 733.6 L1933.6 732.1 L1934.1 723.1 L1934.5 727.0 L1935.0 734.0 L1935.4 731.9 L1935.9 727.5 L1936.3 724.0 L1936.8 733.2 L1937.2 726.0 L1937.7 729.4 L1938.1 721.6 L1938.6 734.3 L1939.0 729.4 L1939.5 728.8 L1939.9 724.6 L1940.4 727.1 L1940.8 721.9 L1941.3 727.6 L1941.7 732.9 L1942.2 725.7 L1942.6 732.0 L1943.1 714.8 L1943.5 732.5 L1944.0 733.1 L1944.4 726.4 L1944.9 731.7 L1945.3 731.9 L1945.8 732.7 L1946.2 734.4 L1946.7 723.4 L1947.1 729.3 L1947.6 726.5 L1948.0 728.2 L1948.5 726.0 L1948.9 734.7 L1949.4 725.0 L1949.8 733.7 L1950.3 732.2 L1950.7 726.7 L1951.2 728.3 L1951.6 728.5 L1952.1 726.3 L1952.5 728.7 L1953.0 723.8 L1953.4 725.4 L1953.9 725.8 L1954.3 725.1 L1954.8 725.1 L1955.2 725.2 L1955.7 726.9 L1956.1 729.4 L1956.6 734.1 L1957.0 727.3 L1957.5 733.3 L1957.9 730.0 L1958.4 733.7 L1958.8 732.9 L1959.3 732.4 L1959.7 727.8 L1960.2 725.4 L1960.6 729.5 L1961.1 734.6 L1961.5 726.2 L1962.0 730.0 L1962.4 726.7 L1962.9 733.5 L1963.3 728.4 L1963.8 733.5 L1964.2 729.9 L1964.7 734.5 L1965.1 732.2 L1965.6 732.3 L1966.0 726.3 L1966.5 734.0 L1966.9 730.5 L1967.4 725.7 L1967.8 733.3 L1968.3 732.5 L1968.7 723.6 L1969.2 734.7 L1969.6 733.1 L1970.1 729.9 L1970.5 734.7 L1971.0 728.1 L1971.4 734.0 L1971.9 725.4 L1972.3 723.8 L1972.8 734.4 L1973.2 734.7 L1973.7 729.0 L1974.1 734.7 L1974.6 734.0 L1975.0 734.7 L1975.5 733.8 L1975.9 726.4 L1976.4 728.4 L1976.8 734.6 L1977.3 733.9 L1977.7 723.4 L1978.2 726.6 L1978.6 727.9 L1979.1 724.3 L1979.5 723.4 L1980.0 734.7 L1980.4 730.7 L1980.9 734.0 L1981.3 720.9 L1981.8 725.5 L1982.2 726.8 L1982.7 721.1 L1983.1 724.7 L1983.6 730.7 L1984.0 734.5 L1984.5 729.2 L1984.9 723.1 L1985.4 734.8 L1985.8 724.4 L1986.3 730.8 L1986.7 731.9 L1987.2 729.9 L1987.6 723.6 L1988.1 726.3 L1988.5 724.9 L1989.0 727.3 L1989.4 734.8 L1989.9 723.8 L1990.3 728.7 L1990.8 733.5 L1991.2 734.5 L1991.7 729.3 L1992.1 733.0 L1992.6 727.0 L1993.0 723.9 L1993.5 727.5 L1993.9 718.5 L1994.4 734.7 L1994.8 728.1 L1995.3 732.7 L1995.7 733.4 L1996.2 709.5 L1996.6 734.3 L1997.1 723.9 L1997.5 715.8 L1998.0 727.9 L1998.4 732.7 L1998.9 721.5 L1999.3 725.9 L1999.8 728.4 L2000.2 733.0 L2000.7 724.3 L2001.1 731.1 L2001.6 731.0 L2002.0 724.5 L2002.5 731.2 L2002.9 733.2 L2003.4 725.3 L2003.8 730.2 L2004.3 726.1 L2004.7 730.6 L2005.2 727.3 L2005.6 729.2 L2006.1 733.7 L2006.5 734.7 L2007.0 733.8 L2007.4 729.5 L2007.9 732.2 L2008.3 729.6 L2008.8 729.4 L2009.2 722.2 L2009.7 730.6 L2010.1 727.3 L2010.6 732.7 L2011.0 726.0 L2011.5 734.5 L2011.9 731.8 L2012.4 731.4 L2012.8 721.4 L2013.3 734.8 L2013.7 733.9 L2014.2 733.1 L2014.6 734.5 L2015.1 732.9 L2015.5 727.2 L2016.0 731.7 L2016.4 725.9 L2016.9 733.2 L2017.3 734.8 L2017.8 728.3 L2018.2 734.4 L2018.7 727.3 L2019.1 730.9 L2019.6 733.2 L2020.0 729.7 L2020.5 729.0 L2020.9 725.7 L2021.4 731.5 L2021.8 730.6 L2022.3 732.8 L2022.7 734.0 L2023.2 724.0 L2023.6 733.1 L2024.1 732.3 L2024.5 734.4 L2025.0 733.6 L2025.4 732.6 L2025.9 725.9 L2026.3 725.9 L2026.8 726.5 L2027.2 730.7 L2027.7 726.1 L2028.1 734.8 L2028.6 730.3 L2029.0 732.1 L2029.5 732.5 L2029.9 734.6 L2030.4 723.5 L2030.8 724.4 L2031.3 725.8 L2031.7 734.7 L2032.2 726.9 L2032.6 732.5 L2033.1 734.8 L2033.5 730.9 L2034.0 734.5 L2034.4 728.5 L2034.9 729.8 L2035.3 734.8 L2035.8 733.6 L2036.2 729.0 L2036.7 728.4 L2037.1 729.3 L2037.6 734.5 L2038.0 727.7 L2038.5 723.6 L2038.9 732.6 L2039.4 734.1 L2039.8 726.5 L2040.3 730.6 L2040.7 734.8 L2041.2 734.1 L2041.6 734.2 L2042.1 724.7 L2042.5 724.7 L2043.0 721.2 L2043.4 733.8 L2043.9 729.1 L2044.3 726.8 L2044.8 724.4 L2045.2 721.1 L2045.7 731.9 L2046.1 734.7 L2046.6 730.7 L2047.0 728.5 L2047.5 734.4 L2047.9 730.6 L2048.4 733.3 L2048.8 727.0 L2049.3 729.8 L2049.7 730.2 L2050.2 734.8 L2050.6 734.6 L2051.1 731.4 L2051.5 730.6 L2052.0 732.5 L2052.4 733.9 L2052.9 734.5 L2053.3 734.4 L2053.8 730.2 L2054.2 730.6 L2054.7 732.3 L2055.1 728.6 L2055.6 727.3 L2056.0 725.7 L2056.5 730.2 L2056.9 727.9 L2057.4 725.5 L2057.8 731.1 L2058.3 727.3 L2058.7 733.0 L2059.2 733.9 L2059.6 725.6 L2060.1 727.5 L2060.5 731.2 L2061.0 727.7 L2061.4 726.6 L2061.9 730.3 L2062.3 727.1 L2062.8 734.7 L2063.2 724.6 L2063.7 725.7 L2064.1 728.7 L2064.6 725.6 L2065.0 731.3 L2065.5 730.9 L2065.9 734.8 L2066.4 734.8 L2066.8 732.3 L2067.3 732.4 L2067.7 724.4 L2068.2 725.4 L2068.6 733.6 L2069.1 731.5 L2069.5 733.0 L2070.0 729.5 L2070.4 728.7 L2070.9 734.6 L2071.3 733.5 L2071.8 733.9 L2072.2 731.0 L2072.7 732.6 L2073.1 731.5 L2073.6 733.2 L2074.0 734.0 L2074.5 733.0 L2074.9 734.7 L2075.4 730.8 L2075.8 733.8 L2076.3 729.3 L2076.7 726.9 L2077.2 734.4 L2077.6 732.8 L2078.1 728.2 L2078.5 733.6 L2079.0 724.0 L2079.4 733.2 L2079.9 728.4 L2080.3 729.8 L2080.8 722.7 L2081.2 724.8 L2081.7 725.0 L2082.1 734.7 L2082.6 733.4 L2083.0 718.3 L2083.5 734.1 L2083.9 722.7 L2084.4 716.9 L2084.8 733.8 L2085.3 717.4 L2085.7 721.9 L2086.2 734.8 L2086.6 734.5 L2087.1 734.5 L2087.5 733.4 L2088.0 734.7 L2088.4 733.9 L2088.9 723.3 L2089.3 722.9 L2089.8 727.6 L2090.2 731.2 L2090.7 728.2 L2091.1 727.9 L2091.6 730.8 L2092.0 734.7 L2092.5 734.8 L2092.9 734.1 L2093.4 733.6 L2093.8 724.6 L2094.3 728.5 L2094.7 729.4 L2095.2 730.6 L2095.6 727.1 L2096.1 730.6 L2096.5 723.5 L2097.0 725.1 L2097.4 733.6 L2097.9 729.2 L2098.3 729.6 L2098.8 723.9 L2099.2 728.1 L2099.7 724.5 L2100.1 731.6 L2100.6 728.3 L2101.0 734.7 L2101.5 732.4 L2101.9 732.6 L2102.4 725.0 L2102.8 732.5 L2103.3 727.3 L2103.7 734.3 L2104.2 731.5 L2104.6 731.9 L2105.1 733.7 L2105.5 733.0 L2106.0 734.8 L2106.4 729.5 L2106.9 724.0 L2107.3 733.3 L2107.8 733.0 L2108.2 734.1 L2108.7 724.8 L2109.1 724.2 L2109.6 733.9 L2110.0 725.2 L2110.5 729.2 L2110.9 731.5 L2111.4 727.0 L2111.8 728.3 L2112.3 727.6 L2112.7 733.7 L2113.2 734.1 L2113.6 724.8 L2114.1 734.2 L2114.5 726.0 L2115.0 730.7 L2115.4 726.4 L2115.9 729.2 L2116.3 719.3 L2116.8 723.4 L2117.2 720.8 L2117.7 734.8 L2118.1 726.8 L2118.6 734.5 L2119.0 732.7 L2119.5 720.9 L2119.9 725.6 L2120.4 725.2 L2120.8 731.1 L2121.3 722.5 L2121.7 728.0 L2122.2 726.1 L2122.6 734.3 L2123.1 734.8 L2123.5 724.6 L2124.0 730.7 L2124.4 727.1 L2124.9 730.4 L2125.3 733.0 L2125.8 734.2 L2126.2 725.7 L2126.7 733.9 L2127.1 734.8 L2127.6 732.3 L2128.0 730.5 L2128.5 727.4 L2128.9 734.2 L2129.4 730.8 L2129.8 733.1 L2130.3 734.6 L2130.7 727.2 L2131.2 731.8 L2131.6 727.6 L2132.1 732.5 L2132.5 723.5 L2133.0 733.5 L2133.4 733.8 L2133.9 727.1 L2134.3 730.1 L2134.8 733.9 L2135.2 731.6 L2135.7 729.8 L2136.1 730.1 L2136.6 734.8 L2137.0 724.4 L2137.5 728.2 L2137.9 723.6 L2138.4 729.6 L2138.8 733.7 L2139.3 732.5 L2139.7 725.9 L2140.2 728.3 L2140.6 732.8 L2141.1 726.8 L2141.5 729.5 L2142.0 731.7 L2142.4 733.9 L2142.9 733.4 L2143.3 731.6 L2143.8 728.5 L2144.2 729.8 L2144.7 733.1 L2145.1 720.0 L2145.6 733.8 L2146.0 730.5 L2146.5 734.5 L2146.9 729.1 L2147.4 726.7 L2147.8 726.1 L2148.3 724.8 L2148.7 734.0 L2149.2 720.7 L2149.6 728.3 L2150.1 717.6 L2150.5 715.2 L2151.0 715.3 L2151.4 716.2 L2151.9 725.4 L2152.3 726.5 L2152.8 731.8 L2153.2 728.1 L2153.7 731.6 L2154.1 725.9 L2154.6 712.4 L2155.0 723.2 L2155.5 734.8 L2155.9 728.9 L2156.4 717.6 L2156.8 732.3 L2157.3 721.2 L2157.7 734.0 L2158.2 734.3 L2158.6 732.5 L2159.1 731.7 L2159.5 724.5 L2160.0 734.3 L2160.4 726.3 L2160.9 728.4 L2161.3 734.7 L2161.8 733.5 L2162.2 730.5 L2162.7 734.0 L2163.1 731.1 L2163.6 727.4 L2164.0 727.6 L2164.5 731.7 L2164.9 725.3 L2165.4 732.2 L2165.8 733.2 L2166.3 731.3 L2166.7 734.5 L2167.2 718.2 L2167.6 733.9 L2168.1 727.9 L2168.5 730.8 L2169.0 727.9 L2169.4 734.7 L2169.9 715.6 L2170.3 728.0 L2170.8 729.4 L2171.2 734.0 L2171.7 719.0 L2172.1 734.1 L2172.6 724.0 L2173.0 729.9 L2173.5 730.6 L2173.9 733.6 L2174.4 729.6 L2174.8 731.6 L2175.3 734.7 L2175.7 726.1 L2176.2 722.5 L2176.6 723.1 L2177.1 727.4 L2177.5 724.1 L2178.0 729.0 L2178.4 733.8 L2178.9 732.3 L2179.3 729.8" fill="none" stroke="#ff0000" stroke-width="3" stroke-linejoin="round"/>
<path d="M238.5 1418.6 L238.9 1423.4 L239.4 1418.1 L239.8 1426.1 L240.3 1422.5 L240.7 1424.3 L241.2 1418.7 L241.6 1425.5 L242.1 1415.1 L242.5 1420.4 L243.0 1411.8 L243.4 1420.7 L243.9 1421.2 L244.3 1412.3 L244.8 1405.7 L245.2 1421.9 L245.7 1405.6 L246.1 1407.0 L246.6 1424.9 L247.0 1416.9 L247.5 1414.7 L247.9 1408.5 L248.4 1416.5 L248.8 1425.6 L249.3 1420.6 L249.7 1420.8 L250.2 1420.9 L250.6 1411.6 L251.1 1423.4 L251.5 1424.9 L252.0 1421.3 L252.4 1419.6 L252.9 1414.4 L253.3 1421.0 L253.8 1424.8 L254.2 1415.9 L254.7 1422.7 L255.1 1420.4 L255.6 1423.0 L256.0 1425.3 L256.5 1420.2 L256.9 1418.9 L257.4 1425.5 L257.8 1422.8 L258.3 1423.8 L258.7 1425.5 L259.2 1425.1 L259.6 1413.0 L260.1 1414.5 L260.5 1423.2 L261.0 1417.4 L261.4 1426.2 L261.9 1414.3 L262.3 1421.3 L262.8 1417.0 L263.2 1424.8 L263.7 1423.9 L264.1 1424.3 L264.6 1416.9 L265.0 1423.9 L265.5 1423.4 L265.9 1418.4 L266.4 1419.1 L266.8 1424.3 L267.3 1424.9 L267.7 1419.5 L268.2 1426.0 L268.6 1423.9 L269.1 1417.1 L269.5 1416.0 L270.0 1425.1 L270.4 1426.1 L270.9 1417.9 L271.3 1420.6 L271.8 1425.1 L272.2 1422.4 L272.7 1426.1 L273.1 1420.2 L273.6 1422.5 L274.0 1420.4 L274.5 1426.1 L274.9 1421.3 L275.4 1424.2 L275.8 1423.1 L276.3 1424.6 L276.7 1421.8 L277.2 1422.8 L277.6 1422.4 L278.1 1426.2 L278.5 1425.5 L279.0 1426.1 L279.4 1424.5 L279.9 1423.7 L280.3 1426.0 L280.8 1421.9 L281.2 1423.6 L281.7 1423.5 L282.1 1422.6 L282.6 1418.8 L283.0 1422.7 L283.5 1426.1 L283.9 1425.9 L284.4 1421.6 L284.8 1424.9 L285.3 1420.9 L285.7 1423.0 L286.2 1424.0 L286.6 1418.9 L287.1 1425.4 L287.5 1424.4 L288.0 1424.2 L288.4 1422.6 L288.9 1413.2 L289.3 1415.1 L289.8 1414.8 L290.2 1418.7 L290.7 1426.2 L291.1 1424.1 L291.6 1421.0 L292.0 1412.9 L292.5 1423.1 L292.9 1420.3 L293.4 1414.7 L293.8 1423.7 L294.3 1417.6 L294.7 1420.6 L295.2 1422.0 L295.6 1421.0 L296.1 1423.0 L296.5 1425.9 L297.0 1418.6 L297.4 1417.9 L297.9 1419.7 L298.3 1424.5 L298.8 1421.7 L299.2 1419.6 L299.7 1426.1 L300.1 1418.2 L300.6 1426.0 L301.0 1413.8 L301.5 1424.7 L301.9 1411.7 L302.4 1424.7 L302.8 1420.1 L303.3 1413.8 L303.7 1409.9 L304.2 1416.8 L304.6 1414.2 L305.1 1422.7 L305.5 1416.8 L306.0 1423.1 L306.4 1414.0 L306.9 1417.5 L307.3 1423.5 L307.8 1417.8 L308.2 1426.0 L308.7 1415.6 L309.1 1419.6 L309.6 1424.2 L310.0 1420.5 L310.5 1418.6 L310.9 1421.0 L311.4 1417.5 L311.8 1423.6 L312.3 1424.5 L312.7 1424.1 L313.2 1424.8 L313.6 1423.1 L314.1 1419.7 L314.5 1417.8 L315.0 1420.9 L315.4 1418.4 L315.9 1414.8 L316.3 1419.7 L316.8 1425.8 L317.2 1420.0 L317.7 1426.0 L318.1 1419.3 L318.6 1414.2 L319.0 1422.5 L319.5 1417.1 L319.9 1425.9 L320.4 1417.9 L320.8 1425.4 L321.3 1419.5 L321.7 1424.6 L322.2 1423.9 L322.6 1425.4 L323.1 1425.7 L323.5 1420.3 L324.0 1420.3 L324.4 1425.3 L324.9 1421.5 L325.3 1424.5 L325.8 1418.2 L326.2 1424.9 L326.7 1421.5 L327.1 1417.8 L327.6 1421.7 L328.0 1420.1 L328.5 1418.1 L328.9 1418.9 L329.4 1416.8 L329.8 1421.6 L330.3 1413.0 L330.7 1415.7 L331.2 1407.5 L331.6 1406.3 L332.1 1400.5 L332.5 1390.9 L333.0 1393.7 L333.4 1378.1 L333.9 1379.4 L334.3 1368.0 L334.8 1374.0 L335.2 1372.8 L335.7 1380.5 L336.1 1377.6 L336.6 1392.1 L337.0 1396.7 L337.5 1398.0 L337.9 1409.4 L338.4 1406.5 L338.8 1415.3 L339.3 1412.3 L339.7 1416.4 L340.2 1414.5 L340.6 1418.8 L341.1 1423.0 L341.5 1421.5 L342.0 1417.0 L342.4 1417.4 L342.9 1424.2 L343.3 1424.3 L343.8 1424.4 L344.2 1421.4 L344.7 1424.9 L345.1 1420.7 L345.6 1424.3 L346.0 1419.3 L346.5 1424.8 L346.9 1417.6 L347.4 1424.1 L347.8 1425.8 L348.3 1425.3 L348.7 1417.9 L349.2 1425.3 L349.6 1424.7 L350.1 1415.2 L350.5 1423.4 L351.0 1421.2 L351.4 1422.6 L351.9 1423.6 L352.3 1419.0 L352.8 1426.0 L353.2 1424.3 L353.7 1423.8 L354.1 1421.6 L354.6 1421.1 L355.0 1426.1 L355.5 1425.9 L355.9 1425.3 L356.4 1424.7 L356.8 1420.7 L357.3 1421.0 L357.7 1418.1 L358.2 1423.8 L358.6 1423.3 L359.1 1425.6 L359.5 1415.2 L360.0 1414.6 L360.4 1413.0 L360.9 1417.4 L361.3 1414.4 L361.8 1420.4 L362.2 1415.6 L362.7 1423.9 L363.1 1417.7 L363.6 1417.9 L364.0 1420.5 L364.5 1417.4 L364.9 1420.3 L365.4 1425.1 L365.8 1426.1 L366.3 1424.8 L366.7 1425.6 L367.2 1419.3 L367.6 1423.2 L368.1 1421.3 L368.5 1419.0 L369.0 1420.6 L369.4 1419.7 L369.9 1423.0 L370.3 1421.0 L370.8 1418.7 L371.2 1424.0 L371.7 1421.6 L372.1 1418.7 L372.6 1425.4 L373.0 1426.1 L373.5 1423.7 L373.9 1419.5 L374.4 1423.4 L374.8 1425.6 L375.3 1418.3 L375.7 1423.8 L376.2 1424.0 L376.6 1426.1 L377.1 1423.8 L377.5 1416.5 L378.0 1423.5 L378.4 1419.0 L378.9 1416.4 L379.3 1426.2 L379.8 1419.9 L380.2 1425.7 L380.7 1422.4 L381.1 1417.5 L381.6 1424.1 L382.0 1419.7 L382.5 1424.7 L382.9 1421.3 L383.4 1419.2 L383.8 1421.8 L384.3 1424.2 L384.7 1418.2 L385.2 1425.7 L385.6 1423.8 L386.1 1415.9 L386.5 1421.0 L387.0 1425.9 L387.4 1417.3 L387.9 1411.5 L388.3 1425.2 L388.8 1411.4 L389.2 1426.2 L389.7 1411.2 L390.1 1419.2 L390.6 1424.5 L391.0 1425.5 L391.5 1422.6 L391.9 1422.9 L392.4 1422.1 L392.8 1422.0 L393.3 1426.0 L393.7 1424.9 L394.2 1425.7 L394.6 1416.8 L395.1 1425.5 L395.5 1418.6 L396.0 1425.8 L396.4 1417.9 L396.9 1421.6 L397.3 1420.2 L397.8 1414.6 L398.2 1423.1 L398.7 1415.6 L399.1 1410.2 L399.6 1415.1 L400.0 1418.5 L400.5 1417.3 L400.9 1414.1 L401.4 1425.7 L401.8 1415.1 L402.3 1423.1 L402.7 1419.0 L403.2 1425.9 L403.6 1424.9 L404.1 1422.8 L404.5 1422.8 L405.0 1418.8 L405.4 1424.9 L405.9 1425.4 L406.3 1422.3 L406.8 1425.8 L407.2 1419.3 L407.7 1425.5 L408.1 1426.2 L408.6 1422.5 L409.0 1425.5 L409.5 1419.3 L409.9 1426.0 L410.4 1423.6 L410.8 1422.7 L411.3 1423.6 L411.7 1426.2 L412.2 1423.5 L412.6 1426.0 L413.1 1426.2 L413.5 1419.4 L414.0 1425.3 L414.4 1426.1 L414.9 1426.3 L415.3 1419.9 L415.8 1420.0 L416.2 1421.3 L416.7 1420.8 L417.1 1425.2 L417.6 1422.9 L418.0 1421.4 L418.5 1425.4 L418.9 1420.8 L419.4 1419.5 L419.8 1422.5 L420.3 1420.6 L420.7 1426.2 L421.2 1423.5 L421.6 1424.0 L422.1 1423.4 L422.5 1412.8 L423.0 1411.9 L423.4 1426.1 L423.9 1419.2 L424.3 1425.0 L424.8 1417.5 L425.2 1409.5 L425.7 1425.5 L426.1 1422.5 L426.6 1423.2 L427.0 1416.6 L427.5 1414.6 L427.9 1426.2 L428.4 1425.1 L428.8 1423.4 L429.3 1414.1 L429.7 1418.5 L430.2 1421.0 L430.6 1416.6 L431.1 1424.1 L431.5 1420.1 L432.0 1425.4 L432.4 1425.3 L432.9 1419.4 L433.3 1420.5 L433.8 1422.5 L434.2 1425.8 L434.7 1425.0 L435.1 1419.3 L435.6 1424.0 L436.0 1426.2 L436.5 1425.5 L436.9 1422.7 L437.4 1419.2 L437.8 1423.5 L438.3 1425.1 L438.7 1418.2 L439.2 1424.3 L439.6 1424.6 L440.1 1420.2 L440.5 1421.0 L441.0 1413.7 L441.4 1421.7 L441.9 1418.2 L442.3 1421.6 L442.8 1417.9 L443.2 1413.6 L443.7 1425.9 L444.1 1415.2 L444.6 1415.9 L445.0 1424.0 L445.5 1426.3 L445.9 1423.5 L446.4 1421.4 L446.8 1425.6 L447.3 1425.7 L447.7 1424.7 L448.2 1419.6 L448.6 1422.8 L449.1 1421.8 L449.5 1422.9 L450.0 1422.0 L450.4 1424.2 L450.9 1423.7 L451.3 1426.0 L451.8 1418.4 L452.2 1425.8 L452.7 1420.5 L453.1 1422.4 L453.6 1421.3 L454.0 1423.4 L454.5 1423.2 L454.9 1424.7 L455.4 1426.1 L455.8 1421.6 L456.3 1421.4 L456.7 1424.4 L457.2 1416.4 L457.6 1416.2 L458.1 1424.0 L458.5 1423.0 L459.0 1425.3 L459.4 1420.0 L459.9 1425.5 L460.3 1424.6 L460.8 1416.6 L461.2 1425.7 L461.7 1417.2 L462.1 1421.8 L462.6 1425.4 L463.0 1417.9 L463.5 1421.3 L463.9 1418.5 L464.4 1423.9 L464.8 1424.6 L465.3 1425.9 L465.7 1425.9 L466.2 1423.5 L466.6 1424.4 L467.1 1426.1 L467.5 1425.6 L468.0 1423.7 L468.4 1426.1 L468.9 1426.2 L469.3 1422.1 L469.8 1426.0 L470.2 1424.2 L470.7 1419.1 L471.1 1426.0 L471.6 1424.4 L472.0 1425.6 L472.5 1420.7 L472.9 1423.4 L473.4 1426.0 L473.8 1421.0 L474.3 1419.2 L474.7 1420.7 L475.2 1425.4 L475.6 1418.3 L476.1 1421.8 L476.5 1424.4 L477.0 1425.9 L477.4 1423.0 L477.9 1425.8 L478.3 1425.6 L478.8 1420.9 L479.2 1419.4 L479.7 1421.0 L480.1 1422.8 L480.6 1417.6 L481.0 1417.2 L481.5 1425.6 L481.9 1418.7 L482.4 1417.5 L482.8 1420.2 L483.3 1422.0 L483.7 1417.1 L484.2 1423.9 L484.6 1414.0 L485.1 1418.2 L485.5 1416.4 L486.0 1414.0 L486.4 1414.0 L486.9 1413.2 L487.3 1411.3 L487.8 1409.7 L488.2 1408.7 L488.7 1400.2 L489.1 1398.5 L489.6 1403.5 L490.0 1409.0 L490.5 1410.3 L490.9 1408.1 L491.4 1414.2 L491.8 1417.0 L492.3 1414.8 L492.7 1421.0 L493.2 1422.9 L493.6 1421.9 L494.1 1416.5 L494.5 1414.7 L495.0 1424.3 L495.4 1418.1 L495.9 1425.3 L496.3 1420.0 L496.8 1425.4 L497.2 1424.9 L497.7 1418.8 L498.1 1425.6 L498.6 1422.5 L499.0 1424.2 L499.5 1416.9 L499.9 1420.2 L500.4 1424.8 L500.8 1417.8 L501.3 1422.0 L501.7 1425.6 L502.2 1425.0 L502.6 1420.2 L503.1 1418.2 L503.5 1426.0 L504.0 1422.5 L504.4 1425.4 L504.9 1420.8 L505.3 1426.1 L505.8 1420.0 L506.2 1422.3 L506.7 1421.0 L507.1 1422.7 L507.6 1420.2 L508.0 1417.6 L508.5 1426.0 L508.9 1424.0 L509.4 1425.2 L509.8 1422.6 L510.3 1420.6 L510.7 1423.2 L511.2 1417.3 L511.6 1426.1 L512.1 1425.4 L512.5 1425.6 L513.0 1425.9 L513.4 1419.8 L513.9 1418.2 L514.3 1423.3 L514.8 1417.9 L515.2 1423.4 L515.7 1420.3 L516.1 1426.1 L516.6 1423.9 L517.0 1426.0 L517.5 1419.0 L517.9 1420.7 L518.4 1418.6 L518.8 1418.7 L519.3 1422.8 L519.7 1425.8 L520.2 1424.9 L520.6 1421.8 L521.1 1421.1 L521.5 1420.6 L522.0 1425.9 L522.4 1425.7 L522.9 1419.8 L523.3 1425.9 L523.8 1422.6 L524.2 1423.5 L524.7 1419.6 L525.1 1425.9 L525.6 1421.3 L526.0 1424.7 L526.5 1421.8 L526.9 1425.6 L527.4 1422.4 L527.8 1421.1 L528.3 1421.6 L528.7 1420.8 L529.2 1422.3 L529.6 1423.2 L530.1 1421.7 L530.5 1425.5 L531.0 1421.6 L531.4 1425.3 L531.9 1423.2 L532.3 1423.1 L532.8 1424.9 L533.2 1424.1 L533.7 1419.4 L534.1 1419.4 L534.6 1419.7 L535.0 1416.2 L535.5 1417.1 L535.9 1414.1 L536.4 1412.2 L536.8 1406.2 L537.3 1410.0 L537.7 1402.0 L538.2 1408.5 L538.6 1407.7 L539.1 1402.0 L539.5 1412.3 L540.0 1413.8 L540.4 1417.3 L540.9 1413.3 L541.3 1421.0 L541.8 1420.8 L542.2 1422.1 L542.7 1423.7 L543.1 1421.0 L543.6 1423.2 L544.0 1415.5 L544.5 1422.3 L544.9 1418.7 L545.4 1425.6 L545.8 1416.3 L546.3 1420.3 L546.7 1424.0 L547.2 1421.0 L547.6 1425.8 L548.1 1425.2 L548.5 1419.2 L549.0 1422.6 L549.4 1416.8 L549.9 1419.8 L550.3 1416.7 L550.8 1418.2 L551.2 1425.5 L551.7 1418.5 L552.1 1420.4 L552.6 1425.1 L553.0 1425.3 L553.5 1424.1 L553.9 1418.2 L554.4 1423.1 L554.8 1421.1 L555.3 1421.2 L555.7 1418.9 L556.2 1420.7 L556.6 1422.8 L557.1 1410.4 L557.5 1415.3 L558.0 1418.2 L558.4 1415.3 L558.9 1404.9 L559.3 1403.4 L559.8 1407.4 L560.2 1408.1 L560.7 1407.8 L561.1 1410.0 L561.6 1410.5 L562.0 1411.5 L562.5 1417.4 L562.9 1411.8 L563.4 1420.7 L563.8 1422.6 L564.3 1420.0 L564.7 1422.9 L565.2 1420.0 L565.6 1424.7 L566.1 1422.5 L566.5 1425.3 L567.0 1420.1 L567.4 1425.0 L567.9 1418.8 L568.3 1425.1 L568.8 1422.7 L569.2 1424.0 L569.7 1419.0 L570.1 1424.5 L570.6 1422.8 L571.0 1419.8 L571.5 1425.8 L571.9 1423.6 L572.4 1420.1 L572.8 1425.1 L573.3 1425.8 L573.7 1422.9 L574.2 1420.7 L574.6 1420.0 L575.1 1423.7 L575.5 1425.5 L576.0 1426.1 L576.4 1424.4 L576.9 1425.8 L577.3 1422.9 L577.8 1422.0 L578.2 1422.1 L578.7 1425.5 L579.1 1418.9 L579.6 1421.1 L580.0 1422.4 L580.5 1420.9 L580.9 1419.4 L581.4 1424.7 L581.8 1421.0 L582.3 1424.2 L582.7 1424.3 L583.2 1418.9 L583.6 1425.7 L584.1 1423.6 L584.5 1420.9 L585.0 1422.3 L585.4 1424.3 L585.9 1421.0 L586.3 1425.2 L586.8 1423.3 L587.2 1423.4 L587.7 1425.5 L588.1 1425.4 L588.6 1420.0 L589.0 1425.5 L589.5 1418.5 L589.9 1424.2 L590.4 1418.2 L590.8 1420.5 L591.3 1422.1 L591.7 1417.8 L592.2 1423.2 L592.6 1419.4 L593.1 1416.7 L593.5 1415.5 L594.0 1418.1 L594.4 1418.3 L594.9 1409.7 L595.3 1409.7 L595.8 1415.7 L596.2 1411.1 L596.7 1417.8 L597.1 1418.1 L597.6 1411.5 L598.0 1421.1 L598.5 1417.9 L598.9 1416.7 L599.4 1416.1 L599.8 1414.8 L600.3 1424.7 L600.7 1418.9 L601.2 1420.1 L601.6 1422.2 L602.1 1424.4 L602.5 1418.8 L603.0 1423.9 L603.4 1421.4 L603.9 1424.2 L604.3 1423.3 L604.8 1418.0 L605.2 1424.1 L605.7 1418.5 L606.1 1423.4 L606.6 1415.3 L607.0 1417.5 L607.5 1418.7 L607.9 1413.4 L608.4 1413.2 L608.8 1410.4 L609.3 1413.8 L609.7 1413.9 L610.2 1418.7 L610.6 1416.0 L611.1 1417.7 L611.5 1421.2 L612.0 1423.5 L612.4 1417.1 L612.9 1422.6 L613.3 1419.0 L613.8 1425.5 L614.2 1424.1 L614.7 1424.9 L615.1 1419.1 L615.6 1423.3 L616.0 1417.8 L616.5 1423.7 L616.9 1423.9 L617.4 1423.9 L617.8 1424.6 L618.3 1421.1 L618.7 1421.9 L619.2 1416.2 L619.6 1423.7 L620.1 1425.4 L620.5 1416.4 L621.0 1414.8 L621.4 1421.1 L621.9 1425.7 L622.3 1421.4 L622.8 1424.9 L623.2 1423.3 L623.7 1422.3 L624.1 1425.8 L624.6 1421.1 L625.0 1421.1 L625.5 1424.3 L625.9 1425.5 L626.4 1420.0 L626.8 1419.1 L627.3 1413.8 L627.7 1420.3 L628.2 1424.9 L628.6 1425.0 L629.1 1425.8 L629.5 1425.6 L630.0 1418.8 L630.4 1425.8 L630.9 1423.2 L631.3 1425.1 L631.8 1421.7 L632.2 1420.3 L632.7 1422.6 L633.1 1421.2 L633.6 1425.7 L634.0 1425.5 L634.5 1425.6 L634.9 1424.8 L635.4 1425.6 L635.8 1421.3 L636.3 1420.3 L636.7 1421.1 L637.2 1424.7 L637.6 1423.8 L638.1 1422.0 L638.5 1425.1 L639.0 1424.3 L639.4 1421.5 L639.9 1423.1 L640.3 1423.7 L640.8 1424.6 L641.2 1419.3 L641.7 1423.8 L642.1 1422.8 L642.6 1421.3 L643.0 1424.4 L643.5 1416.6 L643.9 1423.3 L644.4 1418.6 L644.8 1419.9 L645.3 1424.1 L645.7 1424.5 L646.2 1421.7 L646.6 1418.6 L647.1 1423.4 L647.5 1417.6 L648.0 1421.9 L648.4 1419.8 L648.9 1419.4 L649.3 1416.9 L649.8 1410.3 L650.2 1404.6 L650.7 1404.6 L651.1 1392.0 L651.6 1389.0 L652.0 1382.9 L652.5 1378.8 L652.9 1379.7 L653.4 1370.2 L653.8 1374.5 L654.3 1388.2 L654.7 1392.9 L655.2 1399.9 L655.6 1403.6 L656.1 1408.4 L656.5 1406.1 L657.0 1413.0 L657.4 1411.7 L657.9 1414.5 L658.3 1421.9 L658.8 1417.3 L659.2 1419.6 L659.7 1423.3 L660.1 1420.6 L660.6 1419.3 L661.0 1423.8 L661.5 1418.1 L661.9 1417.9 L662.4 1417.5 L662.8 1424.4 L663.3 1423.1 L663.7 1424.1 L664.2 1424.2 L664.6 1421.5 L665.1 1422.6 L665.5 1421.2 L666.0 1420.0 L666.4 1422.9 L666.9 1419.5 L667.3 1419.2 L667.8 1417.8 L668.2 1424.6 L668.7 1423.4 L669.1 1417.5 L669.6 1417.8 L670.0 1423.8 L670.5 1417.3 L670.9 1416.0 L671.4 1417.7 L671.8 1424.3 L672.3 1418.9 L672.7 1424.6 L673.2 1421.2 L673.6 1421.4 L674.1 1419.9 L674.5 1423.5 L675.0 1422.4 L675.4 1423.0 L675.9 1424.3 L676.3 1423.1 L676.8 1420.7 L677.2 1420.8 L677.7 1424.0 L678.1 1424.4 L678.6 1419.0 L679.0 1421.0 L679.5 1424.3 L679.9 1421.5 L680.4 1423.7 L680.8 1420.6 L681.3 1419.1 L681.7 1423.1 L682.2 1419.5 L682.6 1424.3 L683.1 1423.7 L683.5 1422.9 L684.0 1422.3 L684.4 1422.5 L684.9 1418.6 L685.3 1423.5 L685.8 1423.8 L686.2 1418.2 L686.7 1420.7 L687.1 1419.9 L687.6 1421.9 L688.0 1420.3 L688.5 1417.1 L688.9 1423.4 L689.4 1421.6 L689.8 1423.1 L690.3 1421.1 L690.7 1422.9 L691.2 1422.9 L691.6 1422.9 L692.1 1422.9 L692.5 1421.1 L693.0 1423.9 L693.4 1422.9 L693.9 1424.1 L694.3 1422.6 L694.8 1423.8 L695.2 1421.0 L695.7 1423.5 L696.1 1415.9 L696.6 1418.8 L697.0 1423.2 L697.5 1415.0 L697.9 1416.8 L698.4 1423.7 L698.8 1419.0 L699.3 1416.5 L699.7 1424.0 L700.2 1423.7 L700.6 1423.5 L701.1 1420.5 L701.5 1421.1 L702.0 1423.8 L702.4 1423.8 L702.9 1423.8 L703.3 1422.3 L703.8 1423.1 L704.2 1422.2 L704.7 1418.0 L705.1 1421.7 L705.6 1422.6 L706.0 1422.3 L706.5 1420.7 L706.9 1417.9 L707.4 1421.9 L707.8 1418.8 L708.3 1418.9 L708.7 1419.0 L709.2 1419.2 L709.6 1418.5 L710.1 1419.2 L710.5 1421.5 L711.0 1415.9 L711.4 1420.0 L711.9 1412.4 L712.3 1417.2 L712.8 1411.4 L713.2 1412.2 L713.7 1414.1 L714.1 1410.5 L714.6 1406.9 L715.0 1413.5 L715.5 1414.5 L715.9 1415.4 L716.4 1420.0 L716.8 1420.0 L717.3 1415.8 L717.7 1422.1 L718.2 1421.8 L718.6 1415.7 L719.1 1416.0 L719.5 1421.7 L720.0 1423.5 L720.4 1419.4 L720.9 1417.6 L721.3 1421.8 L721.8 1419.5 L722.2 1423.4 L722.7 1419.4 L723.1 1424.1 L723.6 1418.0 L724.0 1422.2 L724.5 1421.4 L724.9 1420.7 L725.4 1422.3 L725.8 1422.8 L726.3 1423.4 L726.7 1421.4 L727.2 1418.3 L727.6 1419.1 L728.1 1423.6 L728.5 1420.5 L729.0 1418.9 L729.4 1423.5 L729.9 1421.9 L730.3 1421.7 L730.8 1420.7 L731.2 1423.4 L731.7 1421.0 L732.1 1420.7 L732.6 1417.4 L733.0 1417.5 L733.5 1414.0 L733.9 1415.2 L734.4 1410.1 L734.8 1409.6 L735.3 1399.5 L735.7 1391.3 L736.2 1390.4 L736.6 1388.1 L737.1 1391.1 L737.5 1387.5 L738.0 1394.9 L738.4 1397.0 L738.9 1409.5 L739.3 1409.7 L739.8 1415.9 L740.2 1419.2 L740.7 1419.9 L741.1 1418.9 L741.6 1423.0 L742.0 1423.5 L742.5 1419.7 L742.9 1422.1 L743.4 1422.1 L743.8 1424.1 L744.3 1424.4 L744.7 1423.1 L745.2 1420.2 L745.6 1423.7 L746.1 1422.0 L746.5 1423.4 L747.0 1424.2 L747.4 1421.9 L747.9 1424.1 L748.3 1422.1 L748.8 1423.8 L749.2 1423.9 L749.7 1424.6 L750.1 1423.8 L750.6 1420.3 L751.0 1421.5 L751.5 1420.8 L751.9 1420.1 L752.4 1417.9 L752.8 1422.1 L753.3 1421.6 L753.7 1418.7 L754.2 1422.3 L754.6 1419.3 L755.1 1418.5 L755.5 1414.3 L756.0 1416.8 L756.4 1414.3 L756.9 1408.3 L757.3 1414.9 L757.8 1411.2 L758.2 1412.8 L758.7 1418.6 L759.1 1420.4 L759.6 1417.6 L760.0 1422.7 L760.5 1423.5 L760.9 1418.9 L761.4 1423.5 L761.8 1422.5 L762.3 1424.2 L762.7 1423.8 L763.2 1418.6 L763.6 1422.9 L764.1 1422.6 L764.5 1423.9 L765.0 1424.9 L765.4 1421.1 L765.9 1418.6 L766.3 1424.4 L766.8 1421.7 L767.2 1422.3 L767.7 1421.7 L768.1 1422.3 L768.6 1421.3 L769.0 1422.3 L769.5 1421.6 L769.9 1423.8 L770.4 1419.8 L770.8 1418.7 L771.3 1422.2 L771.7 1423.9 L772.2 1424.5 L772.6 1419.9 L773.1 1418.0 L773.5 1424.5 L774.0 1422.2 L774.4 1423.5 L774.9 1421.9 L775.3 1423.5 L775.8 1424.0 L776.2 1419.3 L776.7 1423.9 L777.1 1423.7 L777.6 1421.3 L778.0 1419.7 L778.5 1418.6 L778.9 1420.4 L779.4 1421.0 L779.8 1417.9 L780.3 1416.7 L780.7 1417.7 L781.2 1417.7 L781.6 1421.5 L782.1 1421.2 L782.5 1421.5 L783.0 1421.6 L783.4 1421.4 L783.9 1422.0 L784.3 1419.4 L784.8 1418.6 L785.2 1416.6 L785.7 1418.2 L786.1 1420.2 L786.6 1418.1 L787.0 1417.5 L787.5 1418.9 L787.9 1413.7 L788.4 1417.8 L788.8 1416.5 L789.3 1410.3 L789.7 1411.4 L790.2 1409.4 L790.6 1412.5 L791.1 1407.9 L791.5 1410.0 L792.0 1406.7 L792.4 1403.0 L792.9 1395.8 L793.3 1395.4 L793.8 1378.3 L794.2 1374.0 L794.7 1349.1 L795.1 1330.1 L795.6 1297.7 L796.0 1245.6 L796.5 1202.1 L796.9 1136.6 L797.4 1082.1 L797.8 1022.1 L798.3 966.4 L798.7 921.1 L799.2 893.0 L799.6 912.6 L800.1 942.8 L800.5 997.5 L801.0 1051.8 L801.4 1116.6 L801.9 1177.3 L802.3 1228.2 L802.8 1271.0 L803.2 1316.3 L803.7 1343.7 L804.1 1362.6 L804.6 1373.1 L805.0 1387.8 L805.5 1398.9 L805.9 1394.4 L806.4 1406.4 L806.8 1404.8 L807.3 1404.3 L807.7 1413.2 L808.2 1408.5 L808.6 1407.6 L809.1 1410.7 L809.5 1412.1 L810.0 1416.5 L810.4 1406.2 L810.9 1418.0 L811.3 1406.1 L811.8 1408.2 L812.2 1405.8 L812.7 1416.8 L813.1 1404.1 L813.6 1405.2 L814.0 1405.1 L814.5 1411.6 L814.9 1411.7 L815.4 1412.4 L815.8 1404.8 L816.3 1405.9 L816.7 1414.3 L817.2 1415.5 L817.6 1415.9 L818.1 1417.9 L818.5 1417.6 L819.0 1416.7 L819.4 1416.6 L819.9 1421.8 L820.3 1421.1 L820.8 1423.0 L821.2 1421.8 L821.7 1423.3 L822.1 1423.6 L822.6 1422.5 L823.0 1423.5 L823.5 1423.8 L823.9 1423.8 L824.4 1419.5 L824.8 1424.0 L825.3 1423.6 L825.7 1417.2 L826.2 1422.3 L826.6 1423.4 L827.1 1414.2 L827.5 1413.8 L828.0 1420.9 L828.4 1422.5 L828.9 1416.8 L829.3 1414.7 L829.8 1421.3 L830.2 1415.2 L830.7 1414.2 L831.1 1423.7 L831.6 1412.2 L832.0 1422.2 L832.5 1419.2 L832.9 1410.5 L833.4 1408.4 L833.8 1414.8 L834.3 1411.4 L834.7 1405.7 L835.2 1402.4 L835.6 1404.8 L836.1 1410.4 L836.5 1405.7 L837.0 1414.8 L837.4 1416.5 L837.9 1411.8 L838.3 1420.8 L838.8 1423.0 L839.2 1422.4 L839.7 1418.5 L840.1 1420.7 L840.6 1424.5 L841.0 1423.9 L841.5 1417.8 L841.9 1418.6 L842.4 1422.2 L842.8 1423.3 L843.3 1420.2 L843.7 1423.6 L844.2 1420.7 L844.6 1417.6 L845.1 1415.9 L845.5 1420.0 L846.0 1420.7 L846.4 1418.1 L846.9 1416.7 L847.3 1417.1 L847.8 1421.3 L848.2 1420.9 L848.7 1419.4 L849.1 1422.9 L849.6 1421.3 L850.0 1424.2 L850.5 1420.8 L850.9 1422.3 L851.4 1416.3 L851.8 1417.2 L852.3 1424.5 L852.7 1423.2 L853.2 1424.1 L853.6 1423.0 L854.1 1423.0 L854.5 1424.0 L855.0 1423.2 L855.4 1422.8 L855.9 1417.8 L856.3 1419.9 L856.8 1420.8 L857.2 1422.5 L857.7 1416.9 L858.1 1421.7 L858.6 1414.5 L859.0 1413.5 L859.5 1417.1 L859.9 1414.2 L860.4 1406.8 L860.8 1399.7 L861.3 1393.0 L861.7 1380.1 L862.2 1367.3 L862.6 1363.0 L863.1 1346.9 L863.5 1342.4 L864.0 1327.4 L864.4 1329.9 L864.9 1338.1 L865.3 1350.0 L865.8 1357.8 L866.2 1374.6 L866.7 1380.5 L867.1 1393.5 L867.6 1398.1 L868.0 1402.1 L868.5 1399.4 L868.9 1403.7 L869.4 1399.6 L869.8 1394.1 L870.3 1383.3 L870.7 1378.7 L871.2 1361.0 L871.6 1357.5 L872.1 1343.2 L872.5 1334.3 L873.0 1333.5 L873.4 1349.5 L873.9 1349.2 L874.3 1363.3 L874.8 1379.4 L875.2 1389.1 L875.7 1398.0 L876.1 1404.1 L876.6 1409.1 L877.0 1411.2 L877.5 1413.2 L877.9 1417.7 L878.4 1410.6 L878.8 1414.5 L879.3 1411.3 L879.7 1416.9 L880.2 1419.2 L880.6 1418.6 L881.1 1423.2 L881.5 1419.9 L882.0 1422.8 L882.4 1413.3 L882.9 1414.9 L883.3 1421.5 L883.8 1417.7 L884.2 1414.8 L884.7 1413.0 L885.1 1412.7 L885.6 1412.0 L886.0 1403.5 L886.5 1410.1 L886.9 1412.1 L887.4 1403.7 L887.8 1404.7 L888.3 1415.5 L888.7 1415.1 L889.2 1414.8 L889.6 1420.1 L890.1 1415.6 L890.5 1422.7 L891.0 1420.7 L891.4 1418.2 L891.9 1419.3 L892.3 1424.1 L892.8 1423.7 L893.2 1424.4 L893.7 1423.2 L894.1 1418.1 L894.6 1424.3 L895.0 1423.1 L895.5 1422.7 L895.9 1422.1 L896.4 1422.8 L896.8 1420.1 L897.3 1422.5 L897.7 1417.8 L898.2 1418.6 L898.6 1415.2 L899.1 1411.9 L899.5 1411.6 L900.0 1407.9 L900.4 1399.3 L900.9 1398.5 L901.3 1393.6 L901.8 1389.6 L902.2 1391.5 L902.7 1386.4 L903.1 1395.3 L903.6 1391.4 L904.0 1399.3 L904.5 1407.0 L904.9 1406.2 L905.4 1409.1 L905.8 1415.0 L906.3 1415.2 L906.7 1419.8 L907.2 1418.1 L907.6 1413.5 L908.1 1419.6 L908.5 1416.7 L909.0 1411.4 L909.4 1411.8 L909.9 1408.0 L910.3 1399.5 L910.8 1385.9 L911.2 1377.3 L911.7 1364.7 L912.1 1363.2 L912.6 1353.5 L913.0 1339.6 L913.5 1337.8 L913.9 1347.9 L914.4 1358.2 L914.8 1364.0 L915.3 1370.9 L915.7 1386.9 L916.2 1390.0 L916.6 1405.1 L917.1 1404.6 L917.5 1415.0 L918.0 1408.9 L918.4 1416.6 L918.9 1413.9 L919.3 1422.2 L919.8 1416.0 L920.2 1422.9 L920.7 1419.9 L921.1 1419.1 L921.6 1415.0 L922.0 1421.0 L922.5 1423.9 L922.9 1418.5 L923.4 1424.3 L923.8 1424.2 L924.3 1421.5 L924.7 1421.9 L925.2 1424.4 L925.6 1424.3 L926.1 1420.1 L926.5 1420.9 L927.0 1422.9 L927.4 1418.7 L927.9 1422.9 L928.3 1418.0 L928.8 1421.5 L929.2 1414.6 L929.7 1415.9 L930.1 1415.3 L930.6 1413.9 L931.0 1411.7 L931.5 1407.6 L931.9 1401.6 L932.4 1400.8 L932.8 1401.6 L933.3 1403.9 L933.7 1397.5 L934.2 1406.8 L934.6 1409.2 L935.1 1407.5 L935.5 1411.7 L936.0 1415.9 L936.4 1418.3 L936.9 1414.5 L937.3 1420.0 L937.8 1422.9 L938.2 1422.7 L938.7 1418.0 L939.1 1424.2 L939.6 1422.0 L940.0 1424.7 L940.5 1420.4 L940.9 1423.4 L941.4 1420.7 L941.8 1419.9 L942.3 1421.9 L942.7 1424.7 L943.2 1423.8 L943.6 1422.9 L944.1 1420.1 L944.5 1423.4 L945.0 1423.4 L945.4 1422.8 L945.9 1420.2 L946.3 1416.7 L946.8 1412.7 L947.2 1413.7 L947.7 1407.7 L948.1 1402.0 L948.6 1400.8 L949.0 1391.9 L949.5 1391.6 L949.9 1387.6 L950.4 1385.5 L950.8 1388.3 L951.3 1390.9 L951.7 1389.8 L952.2 1399.9 L952.6 1402.1 L953.1 1401.8 L953.5 1412.2 L954.0 1412.9 L954.4 1418.1 L954.9 1420.2 L955.3 1419.1 L955.8 1418.9 L956.2 1423.6 L956.7 1421.0 L957.1 1423.7 L957.6 1424.9 L958.0 1423.3 L958.5 1421.6 L958.9 1423.5 L959.4 1421.6 L959.8 1421.0 L960.3 1423.1 L960.7 1421.1 L961.2 1423.6 L961.6 1416.4 L962.1 1419.8 L962.5 1425.5 L963.0 1417.8 L963.4 1418.2 L963.9 1417.6 L964.3 1422.2 L964.8 1424.8 L965.2 1418.6 L965.7 1421.8 L966.1 1421.2 L966.6 1422.9 L967.0 1411.9 L967.5 1420.0 L967.9 1422.8 L968.4 1419.7 L968.8 1414.4 L969.3 1418.0 L969.7 1415.2 L970.2 1415.2 L970.6 1415.7 L971.1 1417.4 L971.5 1419.1 L972.0 1422.1 L972.4 1421.8 L972.9 1423.2 L973.3 1424.7 L973.8 1421.7 L974.2 1425.8 L974.7 1420.9 L975.1 1425.9 L975.6 1424.5 L976.0 1424.2 L976.5 1422.0 L976.9 1422.8 L977.4 1425.2 L977.8 1420.8 L978.3 1420.1 L978.7 1423.9 L979.2 1422.4 L979.6 1419.0 L980.1 1422.9 L980.5 1420.2 L981.0 1426.0 L981.4 1425.8 L981.9 1420.7 L982.3 1424.4 L982.8 1424.1 L983.2 1424.4 L983.7 1425.2 L984.1 1424.1 L984.6 1419.2 L985.0 1418.4 L985.5 1425.7 L985.9 1422.5 L986.4 1422.6 L986.8 1425.6 L987.3 1424.8 L987.7 1424.4 L988.2 1425.4 L988.6 1418.1 L989.1 1417.0 L989.5 1420.7 L990.0 1416.0 L990.4 1416.8 L990.9 1425.2 L991.3 1422.2 L991.8 1425.1 L992.2 1423.4 L992.7 1424.2 L993.1 1423.5 L993.6 1420.3 L994.0 1421.3 L994.5 1425.0 L994.9 1426.0 L995.4 1422.8 L995.8 1424.6 L996.3 1423.1 L996.7 1424.4 L997.2 1425.7 L997.6 1425.6 L998.1 1425.1 L998.5 1421.7 L999.0 1424.9 L999.4 1419.8 L999.9 1421.7 L1000.3 1420.6 L1000.8 1424.0 L1001.2 1423.9 L1001.7 1425.8 L1002.1 1422.7 L1002.6 1420.1 L1003.0 1425.7 L1003.5 1423.4 L1003.9 1420.5 L1004.4 1420.8 L1004.8 1421.8 L1005.3 1424.2 L1005.7 1425.0 L1006.2 1424.9 L1006.6 1425.4 L1007.1 1422.2 L1007.5 1424.2 L1008.0 1421.5 L1008.4 1420.2 L1008.9 1425.3 L1009.3 1424.3 L1009.8 1422.3 L1010.2 1422.6 L1010.7 1421.2 L1011.1 1418.1 L1011.6 1422.6 L1012.0 1419.7 L1012.5 1420.4 L1012.9 1416.6 L1013.4 1414.5 L1013.8 1413.9 L1014.3 1410.2 L1014.7 1403.1 L1015.2 1404.4 L1015.6 1404.2 L1016.1 1404.5 L1016.5 1403.1 L1017.0 1410.3 L1017.4 1410.1 L1017.9 1415.3 L1018.3 1412.1 L1018.8 1417.5 L1019.2 1419.8 L1019.7 1419.8 L1020.1 1416.6 L1020.6 1412.9 L1021.0 1414.3 L1021.5 1409.5 L1021.9 1421.1 L1022.4 1421.5 L1022.8 1415.5 L1023.3 1420.1 L1023.7 1417.7 L1024.2 1407.9 L1024.6 1398.9 L1025.1 1397.0 L1025.5 1400.1 L1026.0 1377.3 L1026.4 1372.8 L1026.9 1368.1 L1027.3 1360.6 L1027.8 1359.6 L1028.2 1358.9 L1028.7 1356.0 L1029.1 1368.5 L1029.6 1369.2 L1030.0 1382.3 L1030.5 1390.2 L1030.9 1397.6 L1031.4 1401.5 L1031.8 1413.2 L1032.3 1414.3 L1032.7 1419.3 L1033.2 1421.0 L1033.6 1415.9 L1034.1 1423.1 L1034.5 1423.5 L1035.0 1418.9 L1035.4 1421.3 L1035.9 1424.3 L1036.3 1418.7 L1036.8 1422.4 L1037.2 1418.8 L1037.7 1424.9 L1038.1 1421.7 L1038.6 1425.0 L1039.0 1424.9 L1039.5 1424.6 L1039.9 1424.2 L1040.4 1424.3 L1040.8 1424.6 L1041.3 1425.0 L1041.7 1425.1 L1042.2 1424.0 L1042.6 1424.6 L1043.1 1425.5 L1043.5 1425.4 L1044.0 1423.6 L1044.4 1424.9 L1044.9 1425.4 L1045.3 1421.1 L1045.8 1425.1 L1046.2 1421.2 L1046.7 1424.7 L1047.1 1425.6 L1047.6 1424.0 L1048.0 1424.9 L1048.5 1425.6 L1048.9 1425.6 L1049.4 1425.1 L1049.8 1421.4 L1050.3 1424.5 L1050.7 1422.3 L1051.2 1424.6 L1051.6 1424.9 L1052.1 1420.4 L1052.5 1419.7 L1053.0 1424.8 L1053.4 1421.2 L1053.9 1424.5 L1054.3 1424.5 L1054.8 1421.6 L1055.2 1422.0 L1055.7 1421.8 L1056.1 1419.1 L1056.6 1425.2 L1057.0 1416.6 L1057.5 1421.7 L1057.9 1415.6 L1058.4 1416.7 L1058.8 1421.2 L1059.3 1421.9 L1059.7 1416.9 L1060.2 1417.4 L1060.6 1423.7 L1061.1 1423.7 L1061.5 1421.7 L1062.0 1420.8 L1062.4 1421.6 L1062.9 1415.0 L1063.3 1411.9 L1063.8 1414.0 L1064.2 1413.4 L1064.7 1412.1 L1065.1 1409.6 L1065.6 1403.5 L1066.0 1403.6 L1066.5 1396.2 L1066.9 1398.0 L1067.4 1387.6 L1067.8 1392.7 L1068.3 1389.9 L1068.7 1386.3 L1069.2 1384.5 L1069.6 1393.1 L1070.1 1392.2 L1070.5 1384.0 L1071.0 1389.1 L1071.4 1385.5 L1071.9 1381.1 L1072.3 1374.9 L1072.8 1374.8 L1073.2 1373.7 L1073.7 1377.9 L1074.1 1373.5 L1074.6 1380.9 L1075.0 1381.3 L1075.5 1392.8 L1075.9 1396.4 L1076.4 1406.4 L1076.8 1408.2 L1077.3 1413.8 L1077.7 1417.5 L1078.2 1412.3 L1078.6 1414.1 L1079.1 1421.4 L1079.5 1418.9 L1080.0 1417.3 L1080.4 1423.2 L1080.9 1423.0 L1081.3 1415.5 L1081.8 1421.5 L1082.2 1420.3 L1082.7 1416.6 L1083.1 1420.5 L1083.6 1419.2 L1084.0 1422.6 L1084.5 1413.7 L1084.9 1415.1 L1085.4 1421.6 L1085.8 1417.0 L1086.3 1415.4 L1086.7 1416.1 L1087.2 1425.3 L1087.6 1422.0 L1088.1 1421.6 L1088.5 1424.2 L1089.0 1423.9 L1089.4 1423.7 L1089.9 1423.2 L1090.3 1422.1 L1090.8 1420.8 L1091.2 1420.7 L1091.7 1421.3 L1092.1 1422.2 L1092.6 1425.1 L1093.0 1423.6 L1093.5 1425.8 L1093.9 1425.8 L1094.4 1425.1 L1094.8 1423.5 L1095.3 1423.6 L1095.7 1423.2 L1096.2 1419.9 L1096.6 1421.4 L1097.1 1424.3 L1097.5 1424.6 L1098.0 1423.1 L1098.4 1423.4 L1098.9 1423.8 L1099.3 1419.6 L1099.8 1420.1 L1100.2 1424.1 L1100.7 1425.0 L1101.1 1419.2 L1101.6 1417.2 L1102.0 1420.5 L1102.5 1415.3 L1102.9 1418.1 L1103.4 1419.5 L1103.8 1423.2 L1104.3 1421.0 L1104.7 1417.7 L1105.2 1412.7 L1105.6 1420.5 L1106.1 1425.2 L1106.5 1423.2 L1107.0 1418.1 L1107.4 1419.9 L1107.9 1423.6 L1108.3 1421.5 L1108.8 1418.5 L1109.2 1423.4 L1109.7 1419.4 L1110.1 1421.2 L1110.6 1420.8 L1111.0 1413.9 L1111.5 1416.2 L1111.9 1413.3 L1112.4 1403.4 L1112.8 1404.6 L1113.3 1400.6 L1113.7 1396.1 L1114.2 1386.4 L1114.6 1383.7 L1115.1 1387.3 L1115.5 1386.4 L1116.0 1389.9 L1116.4 1392.2 L1116.9 1403.5 L1117.3 1407.0 L1117.8 1412.7 L1118.2 1415.9 L1118.7 1416.4 L1119.1 1418.3 L1119.6 1421.6 L1120.0 1423.3 L1120.5 1418.0 L1120.9 1423.8 L1121.4 1418.6 L1121.8 1418.0 L1122.3 1420.2 L1122.7 1424.0 L1123.2 1424.0 L1123.6 1425.1 L1124.1 1419.9 L1124.5 1418.3 L1125.0 1419.4 L1125.4 1420.4 L1125.9 1422.2 L1126.3 1420.8 L1126.8 1424.6 L1127.2 1420.9 L1127.7 1425.1 L1128.1 1418.5 L1128.6 1424.6 L1129.0 1416.3 L1129.5 1423.7 L1129.9 1419.3 L1130.4 1421.3 L1130.8 1424.2 L1131.3 1419.8 L1131.7 1421.6 L1132.2 1420.7 L1132.6 1424.2 L1133.1 1425.5 L1133.5 1425.9 L1134.0 1423.5 L1134.4 1425.8 L1134.9 1420.3 L1135.3 1426.0 L1135.8 1421.5 L1136.2 1421.6 L1136.7 1424.0 L1137.1 1420.4 L1137.6 1426.1 L1138.0 1423.0 L1138.5 1422.3 L1138.9 1422.8 L1139.4 1421.9 L1139.8 1424.4 L1140.3 1423.5 L1140.7 1418.8 L1141.2 1418.4 L1141.6 1426.1 L1142.1 1425.3 L1142.5 1424.2 L1143.0 1424.9 L1143.4 1426.1 L1143.9 1423.5 L1144.3 1425.7 L1144.8 1421.2 L1145.2 1421.6 L1145.7 1425.0 L1146.1 1422.5 L1146.6 1423.6 L1147.0 1424.4 L1147.5 1422.6 L1147.9 1425.2 L1148.4 1424.8 L1148.8 1420.8 L1149.3 1423.5 L1149.7 1424.8 L1150.2 1421.7 L1150.6 1425.9 L1151.1 1425.1 L1151.5 1423.6 L1152.0 1415.0 L1152.4 1418.9 L1152.9 1419.3 L1153.3 1417.8 L1153.8 1422.0 L1154.2 1416.9 L1154.7 1425.4 L1155.1 1418.1 L1155.6 1425.9 L1156.0 1425.0 L1156.5 1419.8 L1156.9 1425.8 L1157.4 1426.1 L1157.8 1423.7 L1158.3 1425.5 L1158.7 1425.9 L1159.2 1425.9 L1159.6 1425.2 L1160.1 1425.1 L1160.5 1420.4 L1161.0 1425.7 L1161.4 1421.8 L1161.9 1425.0 L1162.3 1425.8 L1162.8 1426.0 L1163.2 1421.3 L1163.7 1425.6 L1164.1 1425.4 L1164.6 1424.2 L1165.0 1420.1 L1165.5 1424.5 L1165.9 1425.5 L1166.4 1423.2 L1166.8 1423.5 L1167.3 1422.9 L1167.7 1425.3 L1168.2 1423.3 L1168.6 1421.4 L1169.1 1424.0 L1169.5 1425.2 L1170.0 1420.9 L1170.4 1423.0 L1170.9 1422.8 L1171.3 1424.1 L1171.8 1419.2 L1172.2 1419.9 L1172.7 1418.0 L1173.1 1415.6 L1173.6 1420.1 L1174.0 1419.3 L1174.5 1417.8 L1174.9 1417.6 L1175.4 1415.4 L1175.8 1414.6 L1176.3 1413.0 L1176.7 1417.3 L1177.2 1413.4 L1177.6 1418.0 L1178.1 1417.9 L1178.5 1416.7 L1179.0 1419.8 L1179.4 1422.9 L1179.9 1421.1 L1180.3 1424.0 L1180.8 1424.8 L1181.2 1419.2 L1181.7 1424.0 L1182.1 1422.9 L1182.6 1424.4 L1183.0 1422.7 L1183.5 1424.6 L1183.9 1421.2 L1184.4 1425.2 L1184.8 1420.7 L1185.3 1424.7 L1185.7 1425.5 L1186.2 1425.6 L1186.6 1423.0 L1187.1 1423.5 L1187.5 1421.6 L1188.0 1425.4 L1188.4 1420.4 L1188.9 1421.9 L1189.3 1419.9 L1189.8 1424.2 L1190.2 1425.1 L1190.7 1422.0 L1191.1 1420.5 L1191.6 1424.8 L1192.0 1425.1 L1192.5 1425.4 L1192.9 1422.0 L1193.4 1424.8 L1193.8 1423.0 L1194.3 1423.9 L1194.7 1425.4 L1195.2 1424.2 L1195.6 1424.2 L1196.1 1424.0 L1196.5 1419.7 L1197.0 1420.1 L1197.4 1422.0 L1197.9 1419.6 L1198.3 1419.4 L1198.8 1419.1 L1199.2 1420.7 L1199.7 1422.1 L1200.1 1423.9 L1200.6 1423.4 L1201.0 1418.8 L1201.5 1422.6 L1201.9 1421.3 L1202.4 1418.5 L1202.8 1411.8 L1203.3 1401.0 L1203.7 1407.5 L1204.2 1407.3 L1204.6 1402.1 L1205.1 1400.2 L1205.5 1395.9 L1206.0 1385.8 L1206.4 1392.9 L1206.9 1392.8 L1207.3 1390.7 L1207.8 1397.6 L1208.2 1397.4 L1208.7 1397.5 L1209.1 1401.4 L1209.6 1411.9 L1210.0 1410.1 L1210.5 1412.5 L1210.9 1415.4 L1211.4 1416.6 L1211.8 1414.7 L1212.3 1413.9 L1212.7 1411.6 L1213.2 1402.1 L1213.6 1395.2 L1214.1 1386.2 L1214.5 1385.9 L1215.0 1374.1 L1215.4 1364.2 L1215.9 1364.2 L1216.3 1356.1 L1216.8 1366.3 L1217.2 1371.5 L1217.7 1374.0 L1218.1 1388.0 L1218.6 1395.6 L1219.0 1400.1 L1219.5 1406.2 L1219.9 1409.7 L1220.4 1416.7 L1220.8 1417.3 L1221.3 1417.5 L1221.7 1420.5 L1222.2 1422.0 L1222.6 1421.0 L1223.1 1419.0 L1223.5 1423.6 L1224.0 1419.1 L1224.4 1422.4 L1224.9 1421.0 L1225.3 1421.5 L1225.8 1419.0 L1226.2 1420.5 L1226.7 1422.7 L1227.1 1424.4 L1227.6 1419.3 L1228.0 1419.2 L1228.5 1422.0 L1228.9 1421.4 L1229.4 1423.5 L1229.8 1420.1 L1230.3 1422.5 L1230.7 1420.2 L1231.2 1415.5 L1231.6 1414.6 L1232.1 1422.4 L1232.5 1419.8 L1233.0 1414.5 L1233.4 1414.9 L1233.9 1409.8 L1234.3 1410.3 L1234.8 1401.5 L1235.2 1388.7 L1235.7 1390.1 L1236.1 1380.1 L1236.6 1366.8 L1237.0 1365.4 L1237.5 1364.7 L1237.9 1364.0 L1238.4 1362.0 L1238.8 1372.9 L1239.3 1381.4 L1239.7 1391.0 L1240.2 1399.5 L1240.6 1406.1 L1241.1 1406.7 L1241.5 1414.2 L1242.0 1418.3 L1242.4 1413.8 L1242.9 1421.1 L1243.3 1422.6 L1243.8 1421.8 L1244.2 1423.9 L1244.7 1424.0 L1245.1 1420.7 L1245.6 1419.1 L1246.0 1419.3 L1246.5 1422.6 L1246.9 1424.7 L1247.4 1419.3 L1247.8 1423.1 L1248.3 1423.3 L1248.7 1421.8 L1249.2 1422.3 L1249.6 1421.6 L1250.1 1424.8 L1250.5 1422.4 L1251.0 1424.4 L1251.4 1424.5 L1251.9 1420.7 L1252.3 1425.6 L1252.8 1425.6 L1253.2 1421.9 L1253.7 1425.6 L1254.1 1421.1 L1254.6 1421.9 L1255.0 1425.3 L1255.5 1424.6 L1255.9 1422.9 L1256.4 1422.2 L1256.8 1424.6 L1257.3 1421.3 L1257.7 1421.7 L1258.2 1425.6 L1258.6 1422.0 L1259.1 1420.5 L1259.5 1422.9 L1260.0 1420.7 L1260.4 1421.8 L1260.9 1425.5 L1261.3 1420.6 L1261.8 1425.6 L1262.2 1425.3 L1262.7 1420.1 L1263.1 1421.6 L1263.6 1424.6 L1264.0 1421.7 L1264.5 1424.1 L1264.9 1425.0 L1265.4 1424.6 L1265.8 1424.5 L1266.3 1420.6 L1266.7 1422.8 L1267.2 1422.1 L1267.6 1419.6 L1268.1 1425.0 L1268.5 1420.7 L1269.0 1425.3 L1269.4 1423.5 L1269.9 1423.2 L1270.3 1425.2 L1270.8 1424.9 L1271.2 1422.2 L1271.7 1423.1 L1272.1 1424.4 L1272.6 1424.3 L1273.0 1422.0 L1273.5 1421.1 L1273.9 1422.2 L1274.4 1420.7 L1274.8 1423.8 L1275.3 1421.9 L1275.7 1423.5 L1276.2 1421.6 L1276.6 1421.8 L1277.1 1419.7 L1277.5 1421.5 L1278.0 1421.3 L1278.4 1420.2 L1278.9 1414.7 L1279.3 1408.4 L1279.8 1401.9 L1280.2 1382.6 L1280.7 1345.4 L1281.1 1297.2 L1281.6 1246.0 L1282.0 1223.7 L1282.5 1245.1 L1282.9 1290.0 L1283.4 1336.0 L1283.8 1376.0 L1284.3 1398.6 L1284.7 1411.6 L1285.2 1417.0 L1285.6 1418.2 L1286.1 1413.4 L1286.5 1419.2 L1287.0 1422.7 L1287.4 1416.4 L1287.9 1421.6 L1288.3 1422.5 L1288.8 1418.9 L1289.2 1422.5 L1289.7 1423.2 L1290.1 1424.7 L1290.6 1419.0 L1291.0 1419.6 L1291.5 1420.7 L1291.9 1423.7 L1292.4 1419.9 L1292.8 1423.2 L1293.3 1423.1 L1293.7 1419.6 L1294.2 1422.0 L1294.6 1425.2 L1295.1 1421.5 L1295.5 1425.2 L1296.0 1425.1 L1296.4 1422.9 L1296.9 1422.2 L1297.3 1419.4 L1297.8 1424.1 L1298.2 1423.5 L1298.7 1424.6 L1299.1 1420.8 L1299.6 1421.2 L1300.0 1419.8 L1300.5 1422.4 L1300.9 1424.5 L1301.4 1425.4 L1301.8 1420.9 L1302.3 1425.4 L1302.7 1425.4 L1303.2 1423.6 L1303.6 1420.7 L1304.1 1424.9 L1304.5 1419.9 L1305.0 1421.6 L1305.4 1420.1 L1305.9 1424.3 L1306.3 1421.2 L1306.8 1421.5 L1307.2 1419.5 L1307.7 1419.7 L1308.1 1417.8 L1308.6 1415.7 L1309.0 1408.2 L1309.5 1407.9 L1309.9 1403.1 L1310.4 1397.7 L1310.8 1391.5 L1311.3 1388.2 L1311.7 1386.5 L1312.2 1388.8 L1312.6 1389.4 L1313.1 1390.7 L1313.5 1401.7 L1314.0 1402.5 L1314.4 1407.7 L1314.9 1412.6 L1315.3 1418.3 L1315.8 1418.4 L1316.2 1419.0 L1316.7 1422.0 L1317.1 1422.7 L1317.6 1423.9 L1318.0 1422.2 L1318.5 1421.7 L1318.9 1422.7 L1319.4 1423.4 L1319.8 1424.2 L1320.3 1422.5 L1320.7 1422.1 L1321.2 1419.9 L1321.6 1419.5 L1322.1 1420.5 L1322.5 1422.0 L1323.0 1419.7 L1323.4 1425.6 L1323.9 1422.9 L1324.3 1425.7 L1324.8 1424.7 L1325.2 1425.8 L1325.7 1423.6 L1326.1 1425.5 L1326.6 1422.2 L1327.0 1426.0 L1327.5 1422.1 L1327.9 1422.6 L1328.4 1421.5 L1328.8 1421.1 L1329.3 1418.4 L1329.7 1418.9 L1330.2 1420.4 L1330.6 1420.1 L1331.1 1425.5 L1331.5 1421.7 L1332.0 1421.1 L1332.4 1422.5 L1332.9 1425.0 L1333.3 1418.3 L1333.8 1418.7 L1334.2 1419.0 L1334.7 1420.1 L1335.1 1424.2 L1335.6 1425.3 L1336.0 1423.3 L1336.5 1421.9 L1336.9 1425.3 L1337.4 1420.6 L1337.8 1421.6 L1338.3 1422.7 L1338.7 1423.4 L1339.2 1426.1 L1339.6 1426.0 L1340.1 1422.5 L1340.5 1423.0 L1341.0 1424.8 L1341.4 1422.5 L1341.9 1424.8 L1342.3 1424.9 L1342.8 1426.1 L1343.2 1420.4 L1343.7 1426.1 L1344.1 1421.4 L1344.6 1421.1 L1345.0 1425.6 L1345.5 1421.9 L1345.9 1420.4 L1346.4 1423.5 L1346.8 1424.9 L1347.3 1424.9 L1347.7 1422.4 L1348.2 1426.1 L1348.6 1425.6 L1349.1 1426.2 L1349.5 1422.7 L1350.0 1420.8 L1350.4 1421.9 L1350.9 1420.7 L1351.3 1426.1 L1351.8 1422.4 L1352.2 1421.0 L1352.7 1423.4 L1353.1 1425.1 L1353.6 1421.4 L1354.0 1423.1 L1354.5 1423.5 L1354.9 1418.4 L1355.4 1419.2 L1355.8 1423.9 L1356.3 1421.5 L1356.7 1422.8 L1357.2 1421.4 L1357.6 1421.4 L1358.1 1419.8 L1358.5 1421.2 L1359.0 1420.2 L1359.4 1425.8 L1359.9 1423.1 L1360.3 1425.5 L1360.8 1420.5 L1361.2 1425.3 L1361.7 1424.5 L1362.1 1424.1 L1362.6 1425.6 L1363.0 1422.8 L1363.5 1421.4 L1363.9 1425.1 L1364.4 1420.3 L1364.8 1420.5 L1365.3 1425.4 L1365.7 1423.4 L1366.2 1421.7 L1366.6 1420.7 L1367.1 1417.2 L1367.5 1422.0 L1368.0 1420.4 L1368.4 1419.8 L1368.9 1419.3 L1369.3 1416.0 L1369.8 1421.7 L1370.2 1420.6 L1370.7 1417.4 L1371.1 1423.8 L1371.6 1422.8 L1372.0 1419.1 L1372.5 1422.5 L1372.9 1422.8 L1373.4 1424.2 L1373.8 1422.6 L1374.3 1426.0 L1374.7 1420.6 L1375.2 1426.0 L1375.6 1422.0 L1376.1 1423.4 L1376.5 1423.7 L1377.0 1425.3 L1377.4 1422.5 L1377.9 1425.1 L1378.3 1422.2 L1378.8 1420.2 L1379.2 1424.8 L1379.7 1422.1 L1380.1 1425.9 L1380.6 1422.9 L1381.0 1425.3 L1381.5 1423.3 L1381.9 1426.0 L1382.4 1425.5 L1382.8 1421.8 L1383.3 1417.4 L1383.7 1420.1 L1384.2 1425.8 L1384.6 1423.9 L1385.1 1420.2 L1385.5 1426.0 L1386.0 1421.4 L1386.4 1426.1 L1386.9 1421.9 L1387.3 1424.5 L1387.8 1422.5 L1388.2 1420.8 L1388.7 1425.1 L1389.1 1424.4 L1389.6 1424.8 L1390.0 1425.9 L1390.5 1424.2 L1390.9 1424.3 L1391.4 1424.4 L1391.8 1422.5 L1392.3 1420.8 L1392.7 1421.2 L1393.2 1420.9 L1393.6 1420.9 L1394.1 1423.4 L1394.5 1424.4 L1395.0 1423.9 L1395.4 1419.7 L1395.9 1416.6 L1396.3 1418.3 L1396.8 1417.1 L1397.2 1418.1 L1397.7 1418.3 L1398.1 1414.2 L1398.6 1419.7 L1399.0 1414.3 L1399.5 1419.1 L1399.9 1416.8 L1400.4 1421.6 L1400.8 1424.3 L1401.3 1423.8 L1401.7 1424.1 L1402.2 1422.3 L1402.6 1425.2 L1403.1 1425.6 L1403.5 1421.3 L1404.0 1418.6 L1404.4 1419.3 L1404.9 1423.9 L1405.3 1425.9 L1405.8 1424.6 L1406.2 1420.0 L1406.7 1423.5 L1407.1 1423.4 L1407.6 1424.1 L1408.0 1425.2 L1408.5 1420.5 L1408.9 1423.9 L1409.4 1423.8 L1409.8 1425.8 L1410.3 1425.1 L1410.7 1425.0 L1411.2 1425.6 L1411.6 1422.4 L1412.1 1424.0 L1412.5 1425.0 L1413.0 1419.0 L1413.4 1423.5 L1413.9 1424.1 L1414.3 1419.0 L1414.8 1421.8 L1415.2 1417.4 L1415.7 1417.2 L1416.1 1424.6 L1416.6 1422.7 L1417.0 1420.3 L1417.5 1422.5 L1417.9 1413.4 L1418.4 1418.1 L1418.8 1411.8 L1419.3 1404.8 L1419.7 1405.9 L1420.2 1399.4 L1420.6 1397.0 L1421.1 1395.5 L1421.5 1394.1 L1422.0 1393.8 L1422.4 1390.6 L1422.9 1397.9 L1423.3 1395.4 L1423.8 1403.9 L1424.2 1408.9 L1424.7 1414.8 L1425.1 1411.5 L1425.6 1416.8 L1426.0 1415.9 L1426.5 1420.7 L1426.9 1422.9 L1427.4 1422.9 L1427.8 1424.7 L1428.3 1421.1 L1428.7 1419.6 L1429.2 1420.1 L1429.6 1424.2 L1430.1 1425.0 L1430.5 1421.3 L1431.0 1418.5 L1431.4 1420.1 L1431.9 1422.3 L1432.3 1418.1 L1432.8 1425.4 L1433.2 1424.9 L1433.7 1418.7 L1434.1 1418.8 L1434.6 1424.1 L1435.0 1421.3 L1435.5 1423.1 L1435.9 1422.8 L1436.4 1420.6 L1436.8 1424.8 L1437.3 1424.6 L1437.7 1419.7 L1438.2 1420.4 L1438.6 1422.7 L1439.1 1413.5 L1439.5 1412.4 L1440.0 1417.3 L1440.4 1414.6 L1440.9 1407.1 L1441.3 1408.5 L1441.8 1404.3 L1442.2 1403.8 L1442.7 1398.5 L1443.1 1401.4 L1443.6 1404.4 L1444.0 1406.7 L1444.5 1406.0 L1444.9 1413.0 L1445.4 1416.7 L1445.8 1414.5 L1446.3 1421.2 L1446.7 1420.0 L1447.2 1418.8 L1447.6 1422.7 L1448.1 1421.9 L1448.5 1424.3 L1449.0 1422.4 L1449.4 1424.8 L1449.9 1422.3 L1450.3 1425.1 L1450.8 1423.5 L1451.2 1420.5 L1451.7 1424.6 L1452.1 1420.9 L1452.6 1419.9 L1453.0 1425.2 L1453.5 1422.4 L1453.9 1418.7 L1454.4 1422.1 L1454.8 1423.2 L1455.3 1426.0 L1455.7 1424.8 L1456.2 1420.9 L1456.6 1419.0 L1457.1 1425.8 L1457.5 1425.6 L1458.0 1424.9 L1458.4 1425.5 L1458.9 1425.1 L1459.3 1425.9 L1459.8 1425.2 L1460.2 1422.8 L1460.7 1423.8 L1461.1 1424.9 L1461.6 1425.0 L1462.0 1420.7 L1462.5 1423.2 L1462.9 1425.3 L1463.4 1419.2 L1463.8 1420.8 L1464.3 1421.9 L1464.7 1426.0 L1465.2 1414.7 L1465.6 1421.4 L1466.1 1424.7 L1466.5 1418.4 L1467.0 1424.2 L1467.4 1423.9 L1467.9 1422.7 L1468.3 1421.1 L1468.8 1422.5 L1469.2 1420.4 L1469.7 1421.5 L1470.1 1424.2 L1470.6 1422.6 L1471.0 1420.6 L1471.5 1425.6 L1471.9 1423.7 L1472.4 1424.7 L1472.8 1424.0 L1473.3 1420.9 L1473.7 1423.7 L1474.2 1424.3 L1474.6 1426.0 L1475.1 1425.7 L1475.5 1423.4 L1476.0 1425.0 L1476.4 1421.2 L1476.9 1424.2 L1477.3 1420.7 L1477.8 1423.0 L1478.2 1425.4 L1478.7 1424.0 L1479.1 1424.9 L1479.6 1425.3 L1480.0 1423.4 L1480.5 1419.8 L1480.9 1425.4 L1481.4 1426.0 L1481.8 1415.6 L1482.3 1416.4 L1482.7 1420.7 L1483.2 1425.1 L1483.6 1422.3 L1484.1 1426.0 L1484.5 1422.4 L1485.0 1424.0 L1485.4 1418.7 L1485.9 1421.2 L1486.3 1420.9 L1486.8 1426.0 L1487.2 1425.7 L1487.7 1423.8 L1488.1 1415.3 L1488.6 1416.5 L1489.0 1425.5 L1489.5 1423.3 L1489.9 1421.0 L1490.4 1424.9 L1490.8 1417.0 L1491.3 1424.5 L1491.7 1424.2 L1492.2 1422.9 L1492.6 1418.2 L1493.1 1421.3 L1493.5 1423.2 L1494.0 1420.4 L1494.4 1424.6 L1494.9 1417.8 L1495.3 1422.7 L1495.8 1422.7 L1496.2 1415.7 L1496.7 1421.7 L1497.1 1417.7 L1497.6 1419.0 L1498.0 1416.8 L1498.5 1412.2 L1498.9 1410.7 L1499.4 1403.7 L1499.8 1399.3 L1500.3 1401.7 L1500.7 1398.5 L1501.2 1400.3 L1501.6 1400.6 L1502.1 1406.0 L1502.5 1409.2 L1503.0 1407.9 L1503.4 1409.1 L1503.9 1411.9 L1504.3 1414.2 L1504.8 1416.1 L1505.2 1417.5 L1505.7 1421.4 L1506.1 1419.9 L1506.6 1424.7 L1507.0 1424.9 L1507.5 1424.9 L1507.9 1423.4 L1508.4 1421.1 L1508.8 1420.2 L1509.3 1425.2 L1509.7 1423.5 L1510.2 1424.2 L1510.6 1425.1 L1511.1 1424.7 L1511.5 1418.6 L1512.0 1420.5 L1512.4 1423.7 L1512.9 1423.0 L1513.3 1419.8 L1513.8 1415.7 L1514.2 1414.6 L1514.7 1412.4 L1515.1 1411.1 L1515.6 1413.9 L1516.0 1412.0 L1516.5 1408.8 L1516.9 1410.4 L1517.4 1405.0 L1517.8 1409.6 L1518.3 1406.9 L1518.7 1415.4 L1519.2 1413.1 L1519.6 1412.4 L1520.1 1420.6 L1520.5 1422.0 L1521.0 1420.4 L1521.4 1419.6 L1521.9 1421.1 L1522.3 1421.3 L1522.8 1424.7 L1523.2 1421.7 L1523.7 1425.5 L1524.1 1420.9 L1524.6 1421.5 L1525.0 1423.1 L1525.5 1425.3 L1525.9 1423.3 L1526.4 1425.6 L1526.8 1424.5 L1527.3 1420.2 L1527.7 1422.9 L1528.2 1424.7 L1528.6 1425.4 L1529.1 1424.3 L1529.5 1425.9 L1530.0 1425.9 L1530.4 1425.2 L1530.9 1424.0 L1531.3 1424.1 L1531.8 1425.7 L1532.2 1426.0 L1532.7 1425.7 L1533.1 1420.6 L1533.6 1426.0 L1534.0 1423.3 L1534.5 1424.6 L1534.9 1424.0 L1535.4 1424.3 L1535.8 1424.1 L1536.3 1425.3 L1536.7 1419.7 L1537.2 1419.6 L1537.6 1424.4 L1538.1 1421.2 L1538.5 1424.2 L1539.0 1422.1 L1539.4 1420.0 L1539.9 1421.4 L1540.3 1424.3 L1540.8 1424.0 L1541.2 1424.1 L1541.7 1422.7 L1542.1 1420.8 L1542.6 1425.7 L1543.0 1425.6 L1543.5 1422.3 L1543.9 1425.5 L1544.4 1419.8 L1544.8 1421.6 L1545.3 1424.2 L1545.7 1424.1 L1546.2 1424.3 L1546.6 1422.1 L1547.1 1419.6 L1547.5 1420.6 L1548.0 1418.1 L1548.4 1422.3 L1548.9 1419.3 L1549.3 1412.0 L1549.8 1413.7 L1550.2 1413.5 L1550.7 1409.8 L1551.1 1403.6 L1551.6 1411.2 L1552.0 1402.0 L1552.5 1405.9 L1552.9 1402.2 L1553.4 1393.9 L1553.8 1397.0 L1554.3 1399.0 L1554.7 1399.5 L1555.2 1398.4 L1555.6 1401.1 L1556.1 1403.5 L1556.5 1401.4 L1557.0 1409.5 L1557.4 1411.8 L1557.9 1415.1 L1558.3 1416.3 L1558.8 1419.1 L1559.2 1418.6 L1559.7 1418.4 L1560.1 1422.7 L1560.6 1423.3 L1561.0 1423.8 L1561.5 1424.5 L1561.9 1422.7 L1562.4 1424.9 L1562.8 1425.2 L1563.3 1424.1 L1563.7 1421.4 L1564.2 1425.0 L1564.6 1425.5 L1565.1 1425.7 L1565.5 1422.4 L1566.0 1420.3 L1566.4 1425.0 L1566.9 1422.6 L1567.3 1425.7 L1567.8 1424.4 L1568.2 1421.7 L1568.7 1425.2 L1569.1 1424.1 L1569.6 1419.5 L1570.0 1422.6 L1570.5 1423.5 L1570.9 1426.0 L1571.4 1425.8 L1571.8 1425.2 L1572.3 1423.6 L1572.7 1424.7 L1573.2 1423.0 L1573.6 1419.3 L1574.1 1424.8 L1574.5 1424.4 L1575.0 1423.6 L1575.4 1425.3 L1575.9 1424.0 L1576.3 1425.4 L1576.8 1426.1 L1577.2 1425.0 L1577.7 1422.7 L1578.1 1425.8 L1578.6 1420.8 L1579.0 1422.0 L1579.5 1425.9 L1579.9 1424.3 L1580.4 1422.0 L1580.8 1423.7 L1581.3 1420.1 L1581.7 1417.1 L1582.2 1422.7 L1582.6 1422.1 L1583.1 1425.8 L1583.5 1420.5 L1584.0 1421.3 L1584.4 1426.0 L1584.9 1422.1 L1585.3 1425.6 L1585.8 1420.8 L1586.2 1424.7 L1586.7 1426.1 L1587.1 1419.5 L1587.6 1422.3 L1588.0 1425.7 L1588.5 1412.9 L1588.9 1414.5 L1589.4 1421.5 L1589.8 1417.0 L1590.3 1414.0 L1590.7 1418.7 L1591.2 1413.9 L1591.6 1425.6 L1592.1 1411.6 L1592.5 1417.1 L1593.0 1420.7 L1593.4 1416.2 L1593.9 1422.8 L1594.3 1422.0 L1594.8 1422.4 L1595.2 1421.3 L1595.7 1425.8 L1596.1 1420.8 L1596.6 1420.0 L1597.0 1426.1 L1597.5 1424.3 L1597.9 1421.4 L1598.4 1426.0 L1598.8 1421.8 L1599.3 1418.0 L1599.7 1418.3 L1600.2 1424.3 L1600.6 1425.5 L1601.1 1425.8 L1601.5 1424.8 L1602.0 1423.0 L1602.4 1425.2 L1602.9 1423.7 L1603.3 1421.8 L1603.8 1420.5 L1604.2 1423.4 L1604.7 1422.7 L1605.1 1414.1 L1605.6 1418.0 L1606.0 1421.0 L1606.5 1414.3 L1606.9 1412.4 L1607.4 1416.6 L1607.8 1415.6 L1608.3 1411.9 L1608.7 1412.2 L1609.2 1419.5 L1609.6 1421.0 L1610.1 1421.8 L1610.5 1421.2 L1611.0 1423.7 L1611.4 1420.4 L1611.9 1421.5 L1612.3 1421.7 L1612.8 1421.2 L1613.2 1420.7 L1613.7 1421.2 L1614.1 1420.7 L1614.6 1424.3 L1615.0 1423.1 L1615.5 1425.5 L1615.9 1425.4 L1616.4 1423.8 L1616.8 1424.0 L1617.3 1425.9 L1617.7 1420.1 L1618.2 1421.2 L1618.6 1420.9 L1619.1 1420.6 L1619.5 1424.5 L1620.0 1424.7 L1620.4 1425.9 L1620.9 1423.4 L1621.3 1421.9 L1621.8 1423.4 L1622.2 1425.9 L1622.7 1424.4 L1623.1 1425.1 L1623.6 1424.7 L1624.0 1422.4 L1624.5 1423.8 L1624.9 1422.0 L1625.4 1424.6 L1625.8 1424.1 L1626.3 1419.6 L1626.7 1416.8 L1627.2 1416.4 L1627.6 1420.1 L1628.1 1416.8 L1628.5 1416.4 L1629.0 1414.4 L1629.4 1409.3 L1629.9 1414.3 L1630.3 1409.1 L1630.8 1410.5 L1631.2 1416.5 L1631.7 1413.3 L1632.1 1412.8 L1632.6 1414.8 L1633.0 1422.0 L1633.5 1422.6 L1633.9 1420.9 L1634.4 1423.0 L1634.8 1414.5 L1635.3 1425.2 L1635.7 1417.7 L1636.2 1416.9 L1636.6 1420.3 L1637.1 1425.7 L1637.5 1418.6 L1638.0 1425.5 L1638.4 1425.6 L1638.9 1425.7 L1639.3 1421.0 L1639.8 1425.3 L1640.2 1423.2 L1640.7 1425.9 L1641.1 1423.1 L1641.6 1425.7 L1642.0 1425.9 L1642.5 1424.5 L1642.9 1424.7 L1643.4 1422.2 L1643.8 1424.6 L1644.3 1426.0 L1644.7 1422.7 L1645.2 1423.0 L1645.6 1423.3 L1646.1 1420.2 L1646.5 1425.2 L1647.0 1419.1 L1647.4 1420.4 L1647.9 1420.2 L1648.3 1419.4 L1648.8 1421.0 L1649.2 1424.6 L1649.7 1422.1 L1650.1 1419.8 L1650.6 1426.1 L1651.0 1426.1 L1651.5 1422.9 L1651.9 1423.7 L1652.4 1415.4 L1652.8 1418.1 L1653.3 1425.0 L1653.7 1418.2 L1654.2 1426.1 L1654.6 1425.9 L1655.1 1423.4 L1655.5 1420.6 L1656.0 1425.1 L1656.4 1425.0 L1656.9 1424.6 L1657.3 1425.4 L1657.8 1426.2 L1658.2 1422.1 L1658.7 1422.7 L1659.1 1418.8 L1659.6 1426.0 L1660.0 1426.0 L1660.5 1416.9 L1660.9 1419.2 L1661.4 1424.1 L1661.8 1425.7 L1662.3 1425.8 L1662.7 1418.7 L1663.2 1426.0 L1663.6 1421.2 L1664.1 1420.1 L1664.5 1425.5 L1665.0 1425.7 L1665.4 1421.6 L1665.9 1425.6 L1666.3 1423.6 L1666.8 1424.3 L1667.2 1423.5 L1667.7 1418.8 L1668.1 1426.2 L1668.6 1424.0 L1669.0 1425.0 L1669.5 1422.8 L1669.9 1422.9 L1670.4 1422.0 L1670.8 1423.5 L1671.3 1424.9 L1671.7 1420.8 L1672.2 1422.0 L1672.6 1424.6 L1673.1 1424.3 L1673.5 1425.0 L1674.0 1422.4 L1674.4 1420.8 L1674.9 1425.4 L1675.3 1424.9 L1675.8 1424.9 L1676.2 1423.8 L1676.7 1425.6 L1677.1 1425.8 L1677.6 1421.2 L1678.0 1426.1 L1678.5 1426.1 L1678.9 1420.8 L1679.4 1425.3 L1679.8 1425.4 L1680.3 1426.0 L1680.7 1425.6 L1681.2 1424.4 L1681.6 1419.4 L1682.1 1425.8 L1682.5 1419.5 L1683.0 1424.1 L1683.4 1425.5 L1683.9 1425.6 L1684.3 1421.0 L1684.8 1418.9 L1685.2 1425.0 L1685.7 1423.6 L1686.1 1420.5 L1686.6 1424.3 L1687.0 1421.3 L1687.5 1419.1 L1687.9 1416.9 L1688.4 1417.4 L1688.8 1419.2 L1689.3 1419.1 L1689.7 1417.5 L1690.2 1417.9 L1690.6 1414.6 L1691.1 1411.5 L1691.5 1413.5 L1692.0 1415.0 L1692.4 1417.4 L1692.9 1411.3 L1693.3 1422.5 L1693.8 1414.9 L1694.2 1424.1 L1694.7 1422.0 L1695.1 1415.3 L1695.6 1425.2 L1696.0 1424.9 L1696.5 1420.8 L1696.9 1418.6 L1697.4 1416.5 L1697.8 1422.4 L1698.3 1414.2 L1698.7 1419.9 L1699.2 1425.5 L1699.6 1418.0 L1700.1 1414.6 L1700.5 1425.8 L1701.0 1418.7 L1701.4 1417.0 L1701.9 1422.1 L1702.3 1425.5 L1702.8 1417.5 L1703.2 1424.3 L1703.7 1424.7 L1704.1 1425.3 L1704.6 1423.4 L1705.0 1425.1 L1705.5 1424.1 L1705.9 1426.1 L1706.4 1426.0 L1706.8 1422.2 L1707.3 1422.8 L1707.7 1421.4 L1708.2 1422.0 L1708.6 1422.6 L1709.1 1426.1 L1709.5 1424.5 L1710.0 1421.4 L1710.4 1424.7 L1710.9 1423.6 L1711.3 1420.5 L1711.8 1424.4 L1712.2 1423.6 L1712.7 1422.7 L1713.1 1426.2 L1713.6 1421.2 L1714.0 1422.3 L1714.5 1420.6 L1714.9 1421.6 L1715.4 1420.9 L1715.8 1421.1 L1716.3 1425.9 L1716.7 1425.9 L1717.2 1425.3 L1717.6 1424.9 L1718.1 1426.2 L1718.5 1421.1 L1719.0 1423.8 L1719.4 1422.5 L1719.9 1424.4 L1720.3 1426.0 L1720.8 1424.9 L1721.2 1426.2 L1721.7 1425.3 L1722.1 1422.6 L1722.6 1426.1 L1723.0 1422.7 L1723.5 1426.2 L1723.9 1423.5 L1724.4 1426.0 L1724.8 1423.4 L1725.3 1420.8 L1725.7 1425.6 L1726.2 1424.1 L1726.6 1422.9 L1727.1 1425.7 L1727.5 1424.9 L1728.0 1424.9 L1728.4 1422.1 L1728.9 1424.4 L1729.3 1425.9 L1729.8 1426.2 L1730.2 1424.2 L1730.7 1426.2 L1731.1 1425.4 L1731.6 1425.8 L1732.0 1424.8 L1732.5 1426.3 L1732.9 1421.7 L1733.4 1426.2 L1733.8 1421.9 L1734.3 1423.2 L1734.7 1422.8 L1735.2 1426.1 L1735.6 1426.1 L1736.1 1421.3 L1736.5 1426.3 L1737.0 1425.8 L1737.4 1419.0 L1737.9 1424.9 L1738.3 1424.1 L1738.8 1423.8 L1739.2 1420.7 L1739.7 1426.0 L1740.1 1424.9 L1740.6 1423.4 L1741.0 1420.8 L1741.5 1425.8 L1741.9 1425.1 L1742.4 1421.0 L1742.8 1426.0 L1743.3 1424.9 L1743.7 1425.5 L1744.2 1424.0 L1744.6 1423.9 L1745.1 1425.3 L1745.5 1421.9 L1746.0 1418.2 L1746.4 1423.7 L1746.9 1417.9 L1747.3 1420.2 L1747.8 1421.4 L1748.2 1422.7 L1748.7 1424.7 L1749.1 1424.2 L1749.6 1422.2 L1750.0 1426.2 L1750.5 1420.8 L1750.9 1424.3 L1751.4 1426.3 L1751.8 1424.6 L1752.3 1424.5 L1752.7 1425.8 L1753.2 1426.0 L1753.6 1426.3 L1754.1 1423.2 L1754.5 1421.0 L1755.0 1424.5 L1755.4 1422.8 L1755.9 1421.0 L1756.3 1426.2 L1756.8 1420.5 L1757.2 1421.6 L1757.7 1420.8 L1758.1 1424.3 L1758.6 1424.5 L1759.0 1420.3 L1759.5 1421.3 L1759.9 1426.2 L1760.4 1422.9 L1760.8 1421.0 L1761.3 1420.4 L1761.7 1426.2 L1762.2 1425.1 L1762.6 1422.3 L1763.1 1425.6 L1763.5 1426.2 L1764.0 1419.9 L1764.4 1426.0 L1764.9 1423.7 L1765.3 1420.9 L1765.8 1425.2 L1766.2 1423.0 L1766.7 1426.3 L1767.1 1425.8 L1767.6 1426.2 L1768.0 1426.1 L1768.5 1424.1 L1768.9 1422.9 L1769.4 1423.8 L1769.8 1420.8 L1770.3 1424.3 L1770.7 1422.3 L1771.2 1424.2 L1771.6 1426.2 L1772.1 1426.1 L1772.5 1422.2 L1773.0 1420.4 L1773.4 1422.3 L1773.9 1420.1 L1774.3 1423.9 L1774.8 1421.5 L1775.2 1424.6 L1775.7 1423.6 L1776.1 1419.3 L1776.6 1421.8 L1777.0 1426.3 L1777.5 1425.9 L1777.9 1421.5 L1778.4 1421.9 L1778.8 1420.5 L1779.3 1419.9 L1779.7 1423.3 L1780.2 1425.3 L1780.6 1426.2 L1781.1 1426.2 L1781.5 1424.5 L1782.0 1425.3 L1782.4 1421.3 L1782.9 1426.2 L1783.3 1420.3 L1783.8 1426.2 L1784.2 1424.7 L1784.7 1424.3 L1785.1 1425.4 L1785.6 1419.9 L1786.0 1425.7 L1786.5 1424.5 L1786.9 1423.2 L1787.4 1421.9 L1787.8 1424.9 L1788.3 1426.1 L1788.7 1419.7 L1789.2 1423.2 L1789.6 1420.7 L1790.1 1422.4 L1790.5 1424.7 L1791.0 1425.1 L1791.4 1422.6 L1791.9 1420.2 L1792.3 1422.7 L1792.8 1416.9 L1793.2 1421.2 L1793.7 1415.3 L1794.1 1417.8 L1794.6 1419.1 L1795.0 1413.6 L1795.5 1412.5 L1795.9 1417.0 L1796.4 1419.4 L1796.8 1422.0 L1797.3 1421.2 L1797.7 1420.7 L1798.2 1421.1 L1798.6 1422.0 L1799.1 1421.6 L1799.5 1425.2 L1800.0 1420.2 L1800.4 1424.9 L1800.9 1424.3 L1801.3 1425.9 L1801.8 1420.2 L1802.2 1424.2 L1802.7 1424.5 L1803.1 1425.9 L1803.6 1420.6 L1804.0 1422.3 L1804.5 1425.3 L1804.9 1424.2 L1805.4 1423.6 L1805.8 1419.7 L1806.3 1424.2 L1806.7 1425.3 L1807.2 1421.0 L1807.6 1425.0 L1808.1 1423.4 L1808.5 1421.0 L1809.0 1423.2 L1809.4 1426.1 L1809.9 1420.7 L1810.3 1426.0 L1810.8 1422.6 L1811.2 1425.8 L1811.7 1420.0 L1812.1 1424.2 L1812.6 1424.7 L1813.0 1425.8 L1813.5 1425.9 L1813.9 1423.5 L1814.4 1419.2 L1814.8 1424.7 L1815.3 1420.7 L1815.7 1421.9 L1816.2 1424.5 L1816.6 1421.3 L1817.1 1417.5 L1817.5 1420.1 L1818.0 1426.0 L1818.4 1415.9 L1818.9 1420.7 L1819.3 1426.2 L1819.8 1420.9 L1820.2 1417.0 L1820.7 1418.9 L1821.1 1415.7 L1821.6 1426.2 L1822.0 1425.0 L1822.5 1422.1 L1822.9 1422.2 L1823.4 1419.5 L1823.8 1418.3 L1824.3 1418.1 L1824.7 1425.9 L1825.2 1424.0 L1825.6 1425.7 L1826.1 1425.0 L1826.5 1419.1 L1827.0 1426.2 L1827.4 1421.9 L1827.9 1423.8 L1828.3 1425.7 L1828.8 1425.8 L1829.2 1423.3 L1829.7 1425.7 L1830.1 1422.1 L1830.6 1426.1 L1831.0 1426.2 L1831.5 1425.1 L1831.9 1426.0 L1832.4 1421.5 L1832.8 1425.6 L1833.3 1423.9 L1833.7 1424.0 L1834.2 1426.1 L1834.6 1425.9 L1835.1 1423.5 L1835.5 1422.8 L1836.0 1421.1 L1836.4 1425.3 L1836.9 1425.1 L1837.3 1421.9 L1837.8 1421.5 L1838.2 1421.4 L1838.7 1426.1 L1839.1 1423.8 L1839.6 1423.0 L1840.0 1425.1 L1840.5 1425.0 L1840.9 1426.1 L1841.4 1422.6 L1841.8 1423.3 L1842.3 1422.0 L1842.7 1423.9 L1843.2 1425.1 L1843.6 1420.5 L1844.1 1423.5 L1844.5 1424.0 L1845.0 1421.8 L1845.4 1426.3 L1845.9 1423.2 L1846.3 1421.1 L1846.8 1418.3 L1847.2 1420.7 L1847.7 1425.3 L1848.1 1418.7 L1848.6 1423.2 L1849.0 1419.7 L1849.5 1419.0 L1849.9 1425.3 L1850.4 1424.3 L1850.8 1425.0 L1851.3 1422.6 L1851.7 1422.0 L1852.2 1424.5 L1852.6 1425.0 L1853.1 1426.3 L1853.5 1421.8 L1854.0 1424.1 L1854.4 1423.7 L1854.9 1424.2 L1855.3 1426.0 L1855.8 1422.2 L1856.2 1426.3 L1856.7 1418.3 L1857.1 1426.2 L1857.6 1426.3 L1858.0 1424.1 L1858.5 1421.1 L1858.9 1424.4 L1859.4 1419.0 L1859.8 1424.0 L1860.3 1418.4 L1860.7 1423.9 L1861.2 1423.6 L1861.6 1423.9 L1862.1 1425.8 L1862.5 1424.9 L1863.0 1423.8 L1863.4 1423.0 L1863.9 1425.0 L1864.3 1425.4 L1864.8 1422.3 L1865.2 1424.4 L1865.7 1422.9 L1866.1 1425.7 L1866.6 1421.7 L1867.0 1421.2 L1867.5 1426.2 L1867.9 1421.3 L1868.4 1423.8 L1868.8 1426.3 L1869.3 1426.2 L1869.7 1423.1 L1870.2 1425.7 L1870.6 1424.9 L1871.1 1424.1 L1871.5 1424.6 L1872.0 1426.0 L1872.4 1425.0 L1872.9 1420.5 L1873.3 1420.5 L1873.8 1424.9 L1874.2 1420.9 L1874.7 1423.9 L1875.1 1423.3 L1875.6 1422.9 L1876.0 1420.6 L1876.5 1425.2 L1876.9 1420.5 L1877.4 1420.8 L1877.8 1419.6 L1878.3 1421.5 L1878.7 1419.2 L1879.2 1419.4 L1879.6 1418.4 L1880.1 1420.0 L1880.5 1419.3 L1881.0 1425.4 L1881.4 1422.0 L1881.9 1424.8 L1882.3 1414.3 L1882.8 1426.1 L1883.2 1425.6 L1883.7 1426.0 L1884.1 1423.8 L1884.6 1422.0 L1885.0 1423.7 L1885.5 1417.5 L1885.9 1410.7 L1886.4 1422.7 L1886.8 1426.0 L1887.3 1423.6 L1887.7 1409.2 L1888.2 1425.9 L1888.6 1423.2 L1889.1 1422.6 L1889.5 1416.1 L1890.0 1417.6 L1890.4 1423.3 L1890.9 1417.1 L1891.3 1424.7 L1891.8 1417.0 L1892.2 1421.0 L1892.7 1418.1 L1893.1 1421.0 L1893.6 1417.1 L1894.0 1421.3 L1894.5 1413.5 L1894.9 1417.7 L1895.4 1418.1 L1895.8 1417.2 L1896.3 1415.2 L1896.7 1416.4 L1897.2 1416.7 L1897.6 1418.2 L1898.1 1416.8 L1898.5 1421.9 L1899.0 1418.3 L1899.4 1422.6 L1899.9 1424.1 L1900.3 1423.8 L1900.8 1421.5 L1901.2 1423.3 L1901.7 1423.2 L1902.1 1419.8 L1902.6 1424.4 L1903.0 1423.7 L1903.5 1418.9 L1903.9 1422.4 L1904.4 1425.7 L1904.8 1426.0 L1905.3 1424.0 L1905.7 1419.7 L1906.2 1422.6 L1906.6 1423.8 L1907.1 1426.0 L1907.5 1426.0 L1908.0 1424.6 L1908.4 1425.2 L1908.9 1420.4 L1909.3 1420.7 L1909.8 1418.6 L1910.2 1424.8 L1910.7 1417.3 L1911.1 1419.1 L1911.6 1425.3 L1912.0 1419.1 L1912.5 1426.1 L1912.9 1426.2 L1913.4 1419.3 L1913.8 1424.6 L1914.3 1423.8 L1914.7 1425.9 L1915.2 1425.9 L1915.6 1416.7 L1916.1 1426.2 L1916.5 1423.7 L1917.0 1418.6 L1917.4 1420.3 L1917.9 1423.0 L1918.3 1414.9 L1918.8 1415.5 L1919.2 1426.2 L1919.7 1422.5 L1920.1 1419.0 L1920.6 1424.8 L1921.0 1420.4 L1921.5 1425.7 L1921.9 1425.8 L1922.4 1425.9 L1922.8 1417.5 L1923.3 1425.6 L1923.7 1418.8 L1924.2 1420.6 L1924.6 1426.0 L1925.1 1422.0 L1925.5 1423.1 L1926.0 1421.8 L1926.4 1424.0 L1926.9 1418.9 L1927.3 1418.8 L1927.8 1422.8 L1928.2 1422.6 L1928.7 1426.0 L1929.1 1426.3 L1929.6 1424.7 L1930.0 1422.2 L1930.5 1424.8 L1930.9 1422.1 L1931.4 1425.9 L1931.8 1423.3 L1932.3 1421.8 L1932.7 1417.3 L1933.2 1425.4 L1933.6 1426.2 L1934.1 1426.2 L1934.5 1426.3 L1935.0 1420.6 L1935.4 1425.2 L1935.9 1424.4 L1936.3 1419.2 L1936.8 1425.4 L1937.2 1421.2 L1937.7 1425.7 L1938.1 1426.3 L1938.6 1425.9 L1939.0 1426.0 L1939.5 1424.3 L1939.9 1417.9 L1940.4 1417.6 L1940.8 1416.6 L1941.3 1425.8 L1941.7 1417.4 L1942.2 1419.4 L1942.6 1418.9 L1943.1 1424.3 L1943.5 1424.9 L1944.0 1425.8 L1944.4 1424.2 L1944.9 1423.9 L1945.3 1425.9 L1945.8 1423.4 L1946.2 1421.5 L1946.7 1423.0 L1947.1 1425.6 L1947.6 1424.4 L1948.0 1425.9 L1948.5 1426.1 L1948.9 1426.2 L1949.4 1421.5 L1949.8 1423.2 L1950.3 1425.8 L1950.7 1421.5 L1951.2 1424.8 L1951.6 1421.9 L1952.1 1425.7 L1952.5 1423.8 L1953.0 1423.4 L1953.4 1421.7 L1953.9 1422.8 L1954.3 1423.0 L1954.8 1426.2 L1955.2 1423.5 L1955.7 1426.1 L1956.1 1425.5 L1956.6 1425.1 L1957.0 1425.3 L1957.5 1422.4 L1957.9 1423.3 L1958.4 1423.0 L1958.8 1426.1 L1959.3 1420.8 L1959.7 1422.8 L1960.2 1423.6 L1960.6 1426.0 L1961.1 1423.4 L1961.5 1425.3 L1962.0 1421.1 L1962.4 1424.4 L1962.9 1425.7 L1963.3 1422.7 L1963.8 1424.5 L1964.2 1421.9 L1964.7 1426.3 L1965.1 1421.7 L1965.6 1424.5 L1966.0 1419.8 L1966.5 1423.7 L1966.9 1424.5 L1967.4 1419.1 L1967.8 1418.0 L1968.3 1425.3 L1968.7 1426.3 L1969.2 1422.5 L1969.6 1422.9 L1970.1 1426.2 L1970.5 1421.5 L1971.0 1423.6 L1971.4 1417.3 L1971.9 1418.2 L1972.3 1424.0 L1972.8 1420.2 L1973.2 1423.1 L1973.7 1426.0 L1974.1 1421.8 L1974.6 1422.8 L1975.0 1421.2 L1975.5 1424.5 L1975.9 1426.3 L1976.4 1423.5 L1976.8 1421.5 L1977.3 1422.4 L1977.7 1424.9 L1978.2 1422.0 L1978.6 1420.9 L1979.1 1424.7 L1979.5 1419.2 L1980.0 1421.7 L1980.4 1420.6 L1980.9 1425.4 L1981.3 1417.9 L1981.8 1421.2 L1982.2 1425.9 L1982.7 1425.7 L1983.1 1421.4 L1983.6 1423.4 L1984.0 1414.8 L1984.5 1424.1 L1984.9 1419.7 L1985.4 1419.3 L1985.8 1422.7 L1986.3 1417.0 L1986.7 1423.4 L1987.2 1421.5 L1987.6 1422.7 L1988.1 1426.3 L1988.5 1424.7 L1989.0 1422.4 L1989.4 1419.8 L1989.9 1423.2 L1990.3 1425.8 L1990.8 1425.6 L1991.2 1421.1 L1991.7 1426.3 L1992.1 1424.3 L1992.6 1421.5 L1993.0 1423.6 L1993.5 1423.6 L1993.9 1426.0 L1994.4 1426.1 L1994.8 1421.6 L1995.3 1423.7 L1995.7 1426.2 L1996.2 1425.9 L1996.6 1422.4 L1997.1 1424.0 L1997.5 1426.2 L1998.0 1425.9 L1998.4 1426.3 L1998.9 1423.1 L1999.3 1426.2 L1999.8 1422.7 L2000.2 1425.1 L2000.7 1420.7 L2001.1 1421.3 L2001.6 1425.7 L2002.0 1425.5 L2002.5 1426.0 L2002.9 1426.1 L2003.4 1426.1 L2003.8 1425.2 L2004.3 1425.3 L2004.7 1425.2 L2005.2 1426.2 L2005.6 1423.0 L2006.1 1426.3 L2006.5 1425.4 L2007.0 1423.8 L2007.4 1426.1 L2007.9 1423.2 L2008.3 1424.0 L2008.8 1426.2 L2009.2 1426.1 L2009.7 1423.4 L2010.1 1422.4 L2010.6 1425.9 L2011.0 1421.4 L2011.5 1423.0 L2011.9 1421.2 L2012.4 1421.1 L2012.8 1425.1 L2013.3 1422.9 L2013.7 1424.6 L2014.2 1426.3 L2014.6 1426.1 L2015.1 1425.6 L2015.5 1422.2 L2016.0 1425.9 L2016.4 1424.7 L2016.9 1425.5 L2017.3 1420.8 L2017.8 1422.4 L2018.2 1425.9 L2018.7 1426.3 L2019.1 1422.1 L2019.6 1420.1 L2020.0 1425.2 L2020.5 1424.1 L2020.9 1423.9 L2021.4 1425.5 L2021.8 1423.0 L2022.3 1424.3 L2022.7 1426.2 L2023.2 1422.0 L2023.6 1421.1 L2024.1 1426.2 L2024.5 1426.2 L2025.0 1424.9 L2025.4 1421.3 L2025.9 1422.6 L2026.3 1426.0 L2026.8 1425.8 L2027.2 1425.1 L2027.7 1425.3 L2028.1 1420.3 L2028.6 1425.4 L2029.0 1426.3 L2029.5 1420.0 L2029.9 1425.4 L2030.4 1426.2 L2030.8 1421.4 L2031.3 1424.1 L2031.7 1423.9 L2032.2 1425.0 L2032.6 1424.4 L2033.1 1422.8 L2033.5 1423.7 L2034.0 1424.8 L2034.4 1423.5 L2034.9 1420.7 L2035.3 1422.3 L2035.8 1421.1 L2036.2 1425.4 L2036.7 1425.2 L2037.1 1421.6 L2037.6 1425.7 L2038.0 1426.3 L2038.5 1425.0 L2038.9 1426.3 L2039.4 1426.1 L2039.8 1422.2 L2040.3 1426.1 L2040.7 1424.9 L2041.2 1425.2 L2041.6 1425.6 L2042.1 1422.4 L2042.5 1426.3 L2043.0 1425.9 L2043.4 1423.1 L2043.9 1426.0 L2044.3 1425.8 L2044.8 1423.8 L2045.2 1421.0 L2045.7 1424.1 L2046.1 1422.7 L2046.6 1426.1 L2047.0 1422.8 L2047.5 1425.6 L2047.9 1422.6 L2048.4 1422.0 L2048.8 1424.1 L2049.3 1424.8 L2049.7 1425.2 L2050.2 1426.3 L2050.6 1423.3 L2051.1 1422.4 L2051.5 1423.1 L2052.0 1424.7 L2052.4 1424.9 L2052.9 1421.4 L2053.3 1422.7 L2053.8 1424.4 L2054.2 1421.2 L2054.7 1424.2 L2055.1 1425.8 L2055.6 1426.3 L2056.0 1421.7 L2056.5 1421.1 L2056.9 1422.1 L2057.4 1420.1 L2057.8 1420.2 L2058.3 1423.3 L2058.7 1425.0 L2059.2 1420.7 L2059.6 1425.9 L2060.1 1422.8 L2060.5 1426.2 L2061.0 1424.5 L2061.4 1425.8 L2061.9 1421.9 L2062.3 1426.0 L2062.8 1421.3 L2063.2 1425.8 L2063.7 1422.6 L2064.1 1423.6 L2064.6 1422.1 L2065.0 1425.1 L2065.5 1426.2 L2065.9 1425.1 L2066.4 1421.1 L2066.8 1426.2 L2067.3 1425.9 L2067.7 1426.3 L2068.2 1420.5 L2068.6 1421.2 L2069.1 1422.1 L2069.5 1426.2 L2070.0 1420.9 L2070.4 1421.7 L2070.9 1421.4 L2071.3 1424.2 L2071.8 1424.8 L2072.2 1425.8 L2072.7 1422.2 L2073.1 1424.8 L2073.6 1420.7 L2074.0 1420.5 L2074.5 1418.4 L2074.9 1425.1 L2075.4 1421.5 L2075.8 1419.1 L2076.3 1425.0 L2076.7 1422.9 L2077.2 1425.1 L2077.6 1425.4 L2078.1 1426.1 L2078.5 1424.8 L2079.0 1426.3 L2079.4 1426.3 L2079.9 1426.2 L2080.3 1424.7 L2080.8 1426.0 L2081.2 1424.7 L2081.7 1425.3 L2082.1 1425.9 L2082.6 1426.1 L2083.0 1424.2 L2083.5 1425.0 L2083.9 1426.1 L2084.4 1426.2 L2084.8 1421.7 L2085.3 1420.5 L2085.7 1425.4 L2086.2 1423.3 L2086.6 1425.2 L2087.1 1424.1 L2087.5 1418.4 L2088.0 1422.7 L2088.4 1418.9 L2088.9 1424.0 L2089.3 1419.4 L2089.8 1426.0 L2090.2 1421.3 L2090.7 1420.5 L2091.1 1425.7 L2091.6 1426.2 L2092.0 1424.9 L2092.5 1422.9 L2092.9 1423.4 L2093.4 1425.4 L2093.8 1425.3 L2094.3 1421.0 L2094.7 1426.2 L2095.2 1420.5 L2095.6 1424.5 L2096.1 1418.0 L2096.5 1426.0 L2097.0 1417.4 L2097.4 1425.4 L2097.9 1425.7 L2098.3 1422.2 L2098.8 1421.7 L2099.2 1420.8 L2099.7 1421.7 L2100.1 1426.3 L2100.6 1424.2 L2101.0 1426.1 L2101.5 1423.6 L2101.9 1421.2 L2102.4 1425.9 L2102.8 1421.3 L2103.3 1426.2 L2103.7 1422.7 L2104.2 1425.4 L2104.6 1422.6 L2105.1 1421.4 L2105.5 1424.3 L2106.0 1426.3 L2106.4 1425.9 L2106.9 1421.6 L2107.3 1425.8 L2107.8 1424.3 L2108.2 1422.2 L2108.7 1426.1 L2109.1 1425.1 L2109.6 1424.5 L2110.0 1423.8 L2110.5 1422.6 L2110.9 1422.0 L2111.4 1425.2 L2111.8 1425.8 L2112.3 1425.9 L2112.7 1422.3 L2113.2 1424.1 L2113.6 1420.9 L2114.1 1425.0 L2114.5 1425.6 L2115.0 1420.9 L2115.4 1425.7 L2115.9 1425.6 L2116.3 1421.0 L2116.8 1424.4 L2117.2 1423.6 L2117.7 1423.8 L2118.1 1421.9 L2118.6 1423.9 L2119.0 1423.3 L2119.5 1422.9 L2119.9 1423.4 L2120.4 1424.6 L2120.8 1422.7 L2121.3 1423.0 L2121.7 1423.4 L2122.2 1425.1 L2122.6 1426.2 L2123.1 1421.8 L2123.5 1426.2 L2124.0 1422.6 L2124.4 1422.8 L2124.9 1425.9 L2125.3 1425.6 L2125.8 1426.0 L2126.2 1421.9 L2126.7 1426.2 L2127.1 1422.7 L2127.6 1423.3 L2128.0 1426.3 L2128.5 1424.4 L2128.9 1425.4 L2129.4 1422.1 L2129.8 1422.0 L2130.3 1426.0 L2130.7 1423.4 L2131.2 1424.3 L2131.6 1426.2 L2132.1 1425.9 L2132.5 1426.2 L2133.0 1423.1 L2133.4 1423.3 L2133.9 1421.0 L2134.3 1426.3 L2134.8 1426.2 L2135.2 1426.2 L2135.7 1421.3 L2136.1 1425.9 L2136.6 1423.2 L2137.0 1425.1 L2137.5 1425.8 L2137.9 1421.8 L2138.4 1422.5 L2138.8 1425.1 L2139.3 1425.4 L2139.7 1423.9 L2140.2 1426.3 L2140.6 1425.9 L2141.1 1426.0 L2141.5 1426.2 L2142.0 1425.3 L2142.4 1417.9 L2142.9 1418.6 L2143.3 1421.9 L2143.8 1422.2 L2144.2 1416.2 L2144.7 1426.0 L2145.1 1417.1 L2145.6 1424.7 L2146.0 1421.4 L2146.5 1420.2 L2146.9 1426.3 L2147.4 1416.8 L2147.8 1418.3 L2148.3 1424.7 L2148.7 1422.6 L2149.2 1425.3 L2149.6 1422.4 L2150.1 1424.2 L2150.5 1416.4 L2151.0 1421.6 L2151.4 1426.0 L2151.9 1420.5 L2152.3 1422.0 L2152.8 1426.0 L2153.2 1426.3 L2153.7 1426.0 L2154.1 1424.7 L2154.6 1420.5 L2155.0 1425.6 L2155.5 1420.8 L2155.9 1426.0 L2156.4 1423.9 L2156.8 1425.7 L2157.3 1422.3 L2157.7 1425.2 L2158.2 1424.9 L2158.6 1423.7 L2159.1 1425.7 L2159.5 1421.3 L2160.0 1426.2 L2160.4 1424.8 L2160.9 1424.6 L2161.3 1420.4 L2161.8 1422.1 L2162.2 1421.6 L2162.7 1426.0 L2163.1 1425.4 L2163.6 1425.7 L2164.0 1426.3 L2164.5 1423.8 L2164.9 1425.6 L2165.4 1425.2 L2165.8 1421.5 L2166.3 1425.9 L2166.7 1422.5 L2167.2 1424.2 L2167.6 1420.8 L2168.1 1424.2 L2168.5 1425.3 L2169.0 1425.5 L2169.4 1426.0 L2169.9 1419.5 L2170.3 1421.4 L2170.8 1423.6 L2171.2 1418.9 L2171.7 1425.4 L2172.1 1425.4 L2172.6 1425.4 L2173.0 1421.1 L2173.5 1420.6 L2173.9 1426.2 L2174.4 1425.8 L2174.8 1425.4 L2175.3 1425.5 L2175.7 1421.6 L2176.2 1426.3 L2176.6 1426.1 L2177.1 1425.5 L2177.5 1426.1 L2178.0 1418.7 L2178.4 1426.1 L2178.9 1425.7 L2179.3 1425.9" fill="none" stroke="#000" stroke-width="3" stroke-linejoin="round"/>
<rect x="235.9" y="40" width="1945" height="1438" fill="none" stroke="#000" stroke-width="9.2" stroke-linejoin="round"/>
<path d="M351.0 1478 L351.0 1446.5 M465.4 1478 L465.4 1462.5 M579.8 1478 L579.8 1446.5 M694.2 1478 L694.2 1462.5 M808.6 1478 L808.6 1446.5 M923.0 1478 L923.0 1462.5 M1037.4 1478 L1037.4 1446.5 M1151.8 1478 L1151.8 1462.5 M1266.2 1478 L1266.2 1446.5 M1380.6 1478 L1380.6 1462.5 M1495.0 1478 L1495.0 1446.5 M1609.4 1478 L1609.4 1462.5 M1723.8 1478 L1723.8 1446.5 M1838.2 1478 L1838.2 1462.5 M1952.6 1478 L1952.6 1446.5 M2067.0 1478 L2067.0 1462.5" stroke="#000" stroke-width="8.2" stroke-linecap="butt" fill="none"/>
<g class="tn" font-weight="bold" font-size="84" text-anchor="middle" fill="#000">
<text x="352.5" y="1575">10</text>
<text x="581.3" y="1575">20</text>
<text x="810.1" y="1575">30</text>
<text x="1038.9" y="1575">40</text>
<text x="1267.7" y="1575">50</text>
<text x="1496.5" y="1575">60</text>
<text x="1725.3" y="1575">70</text>
<text x="1954.1" y="1575">80</text>
<text x="2182.9" y="1575">90</text>
</g>
<text class="tn" font-weight="bold" font-size="90" y="1722"><tspan x="1103.5">2</tspan><tspan x="1151.6" font-size="80">θ</tspan><tspan font-size="86"> </tspan><tspan x="1217.2" y="1721.6" font-size="86" font-weight="normal">(</tspan><tspan x="1243" y="1726" font-size="96">°</tspan><tspan x="1279.5" y="1721.6" font-size="86" font-weight="normal">)</tspan></text>
<text class="tn" font-weight="bold" font-size="92" transform="translate(99.8 790.2) rotate(-90)" text-anchor="middle" textLength="547.6" lengthAdjust="spacing">Intensity(a.u.)</text>
<g fill="#000"><rect x="1143.5" y="77.5" width="37.0" height="38.6"/><circle cx="1441.0" cy="105.5" r="12.5"/><path d="M1766.0 87.2 L1781.8 107.0 L1766.0 126.8 L1750.2 107.0Z"/><path transform="translate(1163.7 195.4) scale(1.000)" d="M0 10.8 C1.6 4 5.5 0 10.3 0 C15.2 0 17.9 4.2 17.9 9.8 C17.9 18.5 7.5 27.5 0 38.9 C-7.5 27.5 -17.9 18.5 -17.9 9.8 C-17.9 4.2 -15.2 0 -10.3 0 C-5.5 0 -1.6 4 0 10.8Z"/><path transform="translate(1163.7 314.2) scale(1.000)" d="M0 0 L15.6 22 C18.9 26.6 19.1 32.2 16.4 35.4 C13.4 38.9 8.4 38.4 5.7 35.1 C4.7 33.8 3.6 31.6 3.1 29.8 L2.2 37.8 L4.8 41.3 L-4.8 41.3 L-2.2 37.8 L-3.1 29.8 C-3.6 31.6 -4.7 33.8 -5.7 35.1 C-8.4 38.4 -13.4 38.9 -16.4 35.4 C-19.1 32.2 -18.9 26.6 -15.6 22Z"/><g transform="translate(1163.6 422.6) scale(1.000)"><circle cx="0" cy="8.8" r="8.7"/><circle cx="-12.3" cy="26.6" r="8.9"/><circle cx="12.3" cy="26.6" r="8.9"/><path d="M-2 14 L2 14 L2.6 37.6 L4.7 41.6 L-4.7 41.6 L-2.6 37.6Z"/><path d="M-6.5 21 L6.5 21 L6.5 31 L-6.5 31Z"/></g></g>
<g class="tn" font-size="70" fill="#000">
<text x="1213.5" y="123">SiO<tspan dy="14" font-size="46">2</tspan></text>
<text x="1484" y="123">CaCO<tspan dy="14" font-size="46">3</tspan></text>
<text x="1818" y="123">Ca(OH)<tspan dy="14" font-size="46">2</tspan></text>
<text x="1216" y="234.6" textLength="315.6" lengthAdjust="spacing">3CaO·SiO<tspan dy="14" font-size="46">2</tspan></text>
<text x="1214" y="347" fill="#282828" textLength="778.3" lengthAdjust="spacing">3CaO·2SiO<tspan dy="14" font-size="46">2</tspan><tspan dy="-14">·3H</tspan><tspan dy="14" font-size="46">2</tspan><tspan dy="-14">O (C-S-H)</tspan></text>
<text x="1214" y="459.8" textLength="952.4" lengthAdjust="spacing">Ca<tspan dy="14" font-size="46">6</tspan><tspan dy="-14">Al</tspan><tspan dy="14" font-size="46">2</tspan><tspan dy="-14">(SO</tspan><tspan dy="14" font-size="46">4</tspan><tspan dy="-14">)</tspan><tspan dy="14" font-size="46">3</tspan><tspan dy="-14">(OH)</tspan><tspan dy="14" font-size="46">12</tspan><tspan dy="-14">·26H</tspan><tspan dy="14" font-size="46">2</tspan><tspan dy="-14">O (AFt)</tspan></text>
</g>
<text class="tn" font-weight="bold" font-size="72" x="1429.7" y="884.4" textLength="734.8" lengthAdjust="spacing" fill="#ff0000">F-HSC coating materials</text>
<text class="tn" font-weight="bold" font-size="72" x="1286.6" y="1271.2" textLength="893.6" lengthAdjust="spacing" fill="#000">Commercial coating materials</text>
<path d="M1795.5 746.6 L1821.5 772 L1807.8 772 L1807.8 827.3 L1782.4 827.3 L1782.4 772 L1769.5 772Z" fill="#fff" stroke="#000" stroke-width="3"/>
<path d="M1795.5 1393 L1821.5 1367.6 L1807.8 1367.6 L1807.8 1313.9 L1782.6 1313.9 L1782.6 1367.6 L1769.5 1367.6Z" fill="#fff" stroke="#000" stroke-width="3"/>
<g fill="#000"><g transform="translate(337.5 609.8) scale(1.000)"><circle cx="0" cy="8.8" r="8.7"/><circle cx="-12.3" cy="26.6" r="8.9"/><circle cx="12.3" cy="26.6" r="8.9"/><path d="M-2 14 L2 14 L2.6 37.6 L4.7 41.6 L-4.7 41.6 L-2.6 37.6Z"/><path d="M-6.5 21 L6.5 21 L6.5 31 L-6.5 31Z"/></g><g transform="translate(489.6 626.4) scale(1.000)"><circle cx="0" cy="8.8" r="8.7"/><circle cx="-12.3" cy="26.6" r="8.9"/><circle cx="12.3" cy="26.6" r="8.9"/><path d="M-2 14 L2 14 L2.6 37.6 L4.7 41.6 L-4.7 41.6 L-2.6 37.6Z"/><path d="M-6.5 21 L6.5 21 L6.5 31 L-6.5 31Z"/></g><path d="M541.0 444.0 L556.8 464.0 L541.0 484.0 L525.2 464.0Z"/><rect x="561.4" y="389.4" width="37.2" height="38.8"/><circle cx="654.0" cy="610.7" r="12.6"/><path d="M781.7 621.7 L797.5 641.7 L781.7 661.7 L766.0 641.7Z"/><path transform="translate(801.5 109.5) scale(1.000)" d="M0 0 L15.6 22 C18.9 26.6 19.1 32.2 16.4 35.4 C13.4 38.9 8.4 38.4 5.7 35.1 C4.7 33.8 3.6 31.6 3.1 29.8 L2.2 37.8 L4.8 41.3 L-4.8 41.3 L-2.2 37.8 L-3.1 29.8 C-3.6 31.6 -4.7 33.8 -5.7 35.1 C-8.4 38.4 -13.4 38.9 -16.4 35.4 C-19.1 32.2 -18.9 26.6 -15.6 22Z"/><circle cx="802.4" cy="175.6" r="12.6"/><path transform="translate(828.0 636.7) scale(1.000)" d="M0 0 L15.6 22 C18.9 26.6 19.1 32.2 16.4 35.4 C13.4 38.9 8.4 38.4 5.7 35.1 C4.7 33.8 3.6 31.6 3.1 29.8 L2.2 37.8 L4.8 41.3 L-4.8 41.3 L-2.2 37.8 L-3.1 29.8 C-3.6 31.6 -4.7 33.8 -5.7 35.1 C-8.4 38.4 -13.4 38.9 -16.4 35.4 C-19.1 32.2 -18.9 26.6 -15.6 22Z"/><path transform="translate(863.0 447.1) scale(1.000)" d="M0 0 L15.6 22 C18.9 26.6 19.1 32.2 16.4 35.4 C13.4 38.9 8.4 38.4 5.7 35.1 C4.7 33.8 3.6 31.6 3.1 29.8 L2.2 37.8 L4.8 41.3 L-4.8 41.3 L-2.2 37.8 L-3.1 29.8 C-3.6 31.6 -4.7 33.8 -5.7 35.1 C-8.4 38.4 -13.4 38.9 -16.4 35.4 C-19.1 32.2 -18.9 26.6 -15.6 22Z"/><path transform="translate(888.6 472.7) scale(1.000)" d="M0 0 L15.6 22 C18.9 26.6 19.1 32.2 16.4 35.4 C13.4 38.9 8.4 38.4 5.7 35.1 C4.7 33.8 3.6 31.6 3.1 29.8 L2.2 37.8 L4.8 41.3 L-4.8 41.3 L-2.2 37.8 L-3.1 29.8 C-3.6 31.6 -4.7 33.8 -5.7 35.1 C-8.4 38.4 -13.4 38.9 -16.4 35.4 C-19.1 32.2 -18.9 26.6 -15.6 22Z"/><path d="M906.8 362.8 L922.5 382.8 L906.8 402.8 L891.0 382.8Z"/><path transform="translate(930.6 426.6) scale(1.000)" d="M0 0 L15.6 22 C18.9 26.6 19.1 32.2 16.4 35.4 C13.4 38.9 8.4 38.4 5.7 35.1 C4.7 33.8 3.6 31.6 3.1 29.8 L2.2 37.8 L4.8 41.3 L-4.8 41.3 L-2.2 37.8 L-3.1 29.8 C-3.6 31.6 -4.7 33.8 -5.7 35.1 C-8.4 38.4 -13.4 38.9 -16.4 35.4 C-19.1 32.2 -18.9 26.6 -15.6 22Z"/><circle cx="948.7" cy="678.5" r="12.6"/><path transform="translate(981.0 655.7) scale(1.000)" d="M0 0 L15.6 22 C18.9 26.6 19.1 32.2 16.4 35.4 C13.4 38.9 8.4 38.4 5.7 35.1 C4.7 33.8 3.6 31.6 3.1 29.8 L2.2 37.8 L4.8 41.3 L-4.8 41.3 L-2.2 37.8 L-3.1 29.8 C-3.6 31.6 -4.7 33.8 -5.7 35.1 C-8.4 38.4 -13.4 38.9 -16.4 35.4 C-19.1 32.2 -18.9 26.6 -15.6 22Z"/><path transform="translate(1010.7 632.8) scale(1.000)" d="M0 0 L15.6 22 C18.9 26.6 19.1 32.2 16.4 35.4 C13.4 38.9 8.4 38.4 5.7 35.1 C4.7 33.8 3.6 31.6 3.1 29.8 L2.2 37.8 L4.8 41.3 L-4.8 41.3 L-2.2 37.8 L-3.1 29.8 C-3.6 31.6 -4.7 33.8 -5.7 35.1 C-8.4 38.4 -13.4 38.9 -16.4 35.4 C-19.1 32.2 -18.9 26.6 -15.6 22Z"/><circle cx="1031.8" cy="614.5" r="12.6"/><path transform="translate(1074.2 516.8) scale(1.000)" d="M0 0 L15.6 22 C18.9 26.6 19.1 32.2 16.4 35.4 C13.4 38.9 8.4 38.4 5.7 35.1 C4.7 33.8 3.6 31.6 3.1 29.8 L2.2 37.8 L4.8 41.3 L-4.8 41.3 L-2.2 37.8 L-3.1 29.8 C-3.6 31.6 -4.7 33.8 -5.7 35.1 C-8.4 38.4 -13.4 38.9 -16.4 35.4 C-19.1 32.2 -18.9 26.6 -15.6 22Z"/><circle cx="1116.2" cy="656.3" r="12.6"/><path transform="translate(1175.0 659.6) scale(1.000)" d="M0 0 L15.6 22 C18.9 26.6 19.1 32.2 16.4 35.4 C13.4 38.9 8.4 38.4 5.7 35.1 C4.7 33.8 3.6 31.6 3.1 29.8 L2.2 37.8 L4.8 41.3 L-4.8 41.3 L-2.2 37.8 L-3.1 29.8 C-3.6 31.6 -4.7 33.8 -5.7 35.1 C-8.4 38.4 -13.4 38.9 -16.4 35.4 C-19.1 32.2 -18.9 26.6 -15.6 22Z"/><path d="M1204.8 544.1 L1220.5 564.1 L1204.8 584.1 L1189.0 564.1Z"/><circle cx="1226.0" cy="600.3" r="12.6"/><circle cx="1238.5" cy="650.5" r="12.6"/><path d="M1292.0 598.2 L1307.8 618.2 L1292.0 638.2 L1276.2 618.2Z"/><path transform="translate(1314.0 557.8) scale(1.000)" d="M0 10.8 C1.6 4 5.5 0 10.3 0 C15.2 0 17.9 4.2 17.9 9.8 C17.9 18.5 7.5 27.5 0 38.9 C-7.5 27.5 -17.9 18.5 -17.9 9.8 C-17.9 4.2 -15.2 0 -10.3 0 C-5.5 0 -1.6 4 0 10.8Z"/><path d="M1373.6 627.1 L1389.3 647.1 L1373.6 667.1 L1357.8 647.1Z"/><path transform="translate(1421.5 637.6) scale(1.000)" d="M0 10.8 C1.6 4 5.5 0 10.3 0 C15.2 0 17.9 4.2 17.9 9.8 C17.9 18.5 7.5 27.5 0 38.9 C-7.5 27.5 -17.9 18.5 -17.9 9.8 C-17.9 4.2 -15.2 0 -10.3 0 C-5.5 0 -1.6 4 0 10.8Z"/><circle cx="1445.6" cy="684.6" r="12.6"/><path transform="translate(1499.0 637.9) scale(1.000)" d="M0 10.8 C1.6 4 5.5 0 10.3 0 C15.2 0 17.9 4.2 17.9 9.8 C17.9 18.5 7.5 27.5 0 38.9 C-7.5 27.5 -17.9 18.5 -17.9 9.8 C-17.9 4.2 -15.2 0 -10.3 0 C-5.5 0 -1.6 4 0 10.8Z"/><circle cx="1527.4" cy="684.6" r="12.6"/><path transform="translate(1555.7 609.5) scale(1.000)" d="M0 10.8 C1.6 4 5.5 0 10.3 0 C15.2 0 17.9 4.2 17.9 9.8 C17.9 18.5 7.5 27.5 0 38.9 C-7.5 27.5 -17.9 18.5 -17.9 9.8 C-17.9 4.2 -15.2 0 -10.3 0 C-5.5 0 -1.6 4 0 10.8Z"/><path d="M1595.8 664.9 L1611.5 684.9 L1595.8 704.9 L1580.0 684.9Z"/><circle cx="1625.0" cy="665.7" r="12.6"/><g transform="translate(337.5 1321.5) scale(1.000)"><circle cx="0" cy="8.8" r="8.7"/><circle cx="-12.3" cy="26.6" r="8.9"/><circle cx="12.3" cy="26.6" r="8.9"/><path d="M-2 14 L2 14 L2.6 37.6 L4.7 41.6 L-4.7 41.6 L-2.6 37.6Z"/><path d="M-6.5 21 L6.5 21 L6.5 31 L-6.5 31Z"/></g><g transform="translate(489.6 1349.9) scale(1.000)"><circle cx="0" cy="8.8" r="8.7"/><circle cx="-12.3" cy="26.6" r="8.9"/><circle cx="12.3" cy="26.6" r="8.9"/><path d="M-2 14 L2 14 L2.6 37.6 L4.7 41.6 L-4.7 41.6 L-2.6 37.6Z"/><path d="M-6.5 21 L6.5 21 L6.5 31 L-6.5 31Z"/></g><path d="M540.5 1350.1 L556.2 1370.1 L540.5 1390.1 L524.8 1370.1Z"/><rect x="561.4" y="1295.7" width="37.2" height="38.8"/><circle cx="653.8" cy="1345.2" r="12.6"/><path transform="translate(801.4 800.1) scale(1.000)" d="M0 0 L15.6 22 C18.9 26.6 19.1 32.2 16.4 35.4 C13.4 38.9 8.4 38.4 5.7 35.1 C4.7 33.8 3.6 31.6 3.1 29.8 L2.2 37.8 L4.8 41.3 L-4.8 41.3 L-2.2 37.8 L-3.1 29.8 C-3.6 31.6 -4.7 33.8 -5.7 35.1 C-8.4 38.4 -13.4 38.9 -16.4 35.4 C-19.1 32.2 -18.9 26.6 -15.6 22Z"/><circle cx="802.4" cy="866.5" r="12.6"/><path transform="translate(828.9 1358.5) scale(1.000)" d="M0 0 L15.6 22 C18.9 26.6 19.1 32.2 16.4 35.4 C13.4 38.9 8.4 38.4 5.7 35.1 C4.7 33.8 3.6 31.6 3.1 29.8 L2.2 37.8 L4.8 41.3 L-4.8 41.3 L-2.2 37.8 L-3.1 29.8 C-3.6 31.6 -4.7 33.8 -5.7 35.1 C-8.4 38.4 -13.4 38.9 -16.4 35.4 C-19.1 32.2 -18.9 26.6 -15.6 22Z"/><path transform="translate(855.0 1279.2) scale(1.000)" d="M0 0 L15.6 22 C18.9 26.6 19.1 32.2 16.4 35.4 C13.4 38.9 8.4 38.4 5.7 35.1 C4.7 33.8 3.6 31.6 3.1 29.8 L2.2 37.8 L4.8 41.3 L-4.8 41.3 L-2.2 37.8 L-3.1 29.8 C-3.6 31.6 -4.7 33.8 -5.7 35.1 C-8.4 38.4 -13.4 38.9 -16.4 35.4 C-19.1 32.2 -18.9 26.6 -15.6 22Z"/><path transform="translate(890.3 1294.5) scale(1.000)" d="M0 0 L15.6 22 C18.9 26.6 19.1 32.2 16.4 35.4 C13.4 38.9 8.4 38.4 5.7 35.1 C4.7 33.8 3.6 31.6 3.1 29.8 L2.2 37.8 L4.8 41.3 L-4.8 41.3 L-2.2 37.8 L-3.1 29.8 C-3.6 31.6 -4.7 33.8 -5.7 35.1 C-8.4 38.4 -13.4 38.9 -16.4 35.4 C-19.1 32.2 -18.9 26.6 -15.6 22Z"/><path d="M894.3 1345.0 L910.0 1365.0 L894.3 1385.0 L878.5 1365.0Z"/><path transform="translate(930.6 1297.0) scale(1.000)" d="M0 0 L15.6 22 C18.9 26.6 19.1 32.2 16.4 35.4 C13.4 38.9 8.4 38.4 5.7 35.1 C4.7 33.8 3.6 31.6 3.1 29.8 L2.2 37.8 L4.8 41.3 L-4.8 41.3 L-2.2 37.8 L-3.1 29.8 C-3.6 31.6 -4.7 33.8 -5.7 35.1 C-8.4 38.4 -13.4 38.9 -16.4 35.4 C-19.1 32.2 -18.9 26.6 -15.6 22Z"/><circle cx="949.4" cy="1367.0" r="12.6"/><path transform="translate(977.9 1372.0) scale(1.000)" d="M0 0 L15.6 22 C18.9 26.6 19.1 32.2 16.4 35.4 C13.4 38.9 8.4 38.4 5.7 35.1 C4.7 33.8 3.6 31.6 3.1 29.8 L2.2 37.8 L4.8 41.3 L-4.8 41.3 L-2.2 37.8 L-3.1 29.8 C-3.6 31.6 -4.7 33.8 -5.7 35.1 C-8.4 38.4 -13.4 38.9 -16.4 35.4 C-19.1 32.2 -18.9 26.6 -15.6 22Z"/><circle cx="1031.5" cy="1329.8" r="12.6"/><path transform="translate(1072.5 1325.9) scale(1.000)" d="M0 0 L15.6 22 C18.9 26.6 19.1 32.2 16.4 35.4 C13.4 38.9 8.4 38.4 5.7 35.1 C4.7 33.8 3.6 31.6 3.1 29.8 L2.2 37.8 L4.8 41.3 L-4.8 41.3 L-2.2 37.8 L-3.1 29.8 C-3.6 31.6 -4.7 33.8 -5.7 35.1 C-8.4 38.4 -13.4 38.9 -16.4 35.4 C-19.1 32.2 -18.9 26.6 -15.6 22Z"/><circle cx="1117.8" cy="1360.5" r="12.6"/><path transform="translate(1180.7 1365.6) scale(1.000)" d="M0 0 L15.6 22 C18.9 26.6 19.1 32.2 16.4 35.4 C13.4 38.9 8.4 38.4 5.7 35.1 C4.7 33.8 3.6 31.6 3.1 29.8 L2.2 37.8 L4.8 41.3 L-4.8 41.3 L-2.2 37.8 L-3.1 29.8 C-3.6 31.6 -4.7 33.8 -5.7 35.1 C-8.4 38.4 -13.4 38.9 -16.4 35.4 C-19.1 32.2 -18.9 26.6 -15.6 22Z"/><circle cx="1214.7" cy="1335.0" r="12.6"/><circle cx="1240.1" cy="1344.8" r="12.6"/><path d="M1285.1 1178.4 L1300.8 1198.4 L1285.1 1218.4 L1269.3 1198.4Z"/><path transform="translate(1318.7 1341.6) scale(1.000)" d="M0 10.8 C1.6 4 5.5 0 10.3 0 C15.2 0 17.9 4.2 17.9 9.8 C17.9 18.5 7.5 27.5 0 38.9 C-7.5 27.5 -17.9 18.5 -17.9 9.8 C-17.9 4.2 -15.2 0 -10.3 0 C-5.5 0 -1.6 4 0 10.8Z"/><path transform="translate(1423.1 1347.1) scale(1.000)" d="M0 10.8 C1.6 4 5.5 0 10.3 0 C15.2 0 17.9 4.2 17.9 9.8 C17.9 18.5 7.5 27.5 0 38.9 C-7.5 27.5 -17.9 18.5 -17.9 9.8 C-17.9 4.2 -15.2 0 -10.3 0 C-5.5 0 -1.6 4 0 10.8Z"/><circle cx="1450.8" cy="1378.3" r="12.6"/><path transform="translate(1501.0 1359.6) scale(1.000)" d="M0 10.8 C1.6 4 5.5 0 10.3 0 C15.2 0 17.9 4.2 17.9 9.8 C17.9 18.5 7.5 27.5 0 38.9 C-7.5 27.5 -17.9 18.5 -17.9 9.8 C-17.9 4.2 -15.2 0 -10.3 0 C-5.5 0 -1.6 4 0 10.8Z"/><circle cx="1532.9" cy="1388.9" r="12.6"/><path transform="translate(1556.5 1352.2) scale(1.000)" d="M0 10.8 C1.6 4 5.5 0 10.3 0 C15.2 0 17.9 4.2 17.9 9.8 C17.9 18.5 7.5 27.5 0 38.9 C-7.5 27.5 -17.9 18.5 -17.9 9.8 C-17.9 4.2 -15.2 0 -10.3 0 C-5.5 0 -1.6 4 0 10.8Z"/><circle cx="1606.1" cy="1390.7" r="12.6"/><circle cx="1634.3" cy="1390.7" r="12.6"/></g>
</svg></body></html>
